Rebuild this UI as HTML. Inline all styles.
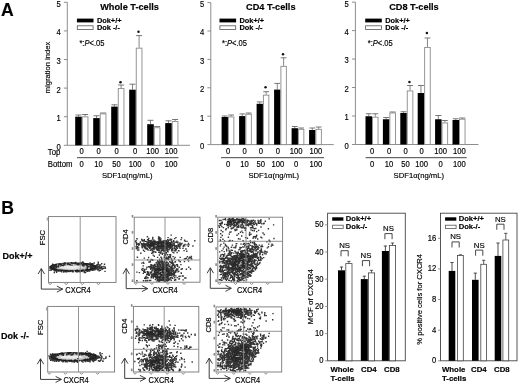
<!DOCTYPE html>
<html><head><meta charset="utf-8"><style>
html,body{margin:0;padding:0;background:#fff;width:520px;height:384px;overflow:hidden;}
svg{display:block;will-change:transform;filter:blur(0.3px);}
text{font-family:"Liberation Sans", sans-serif;fill:#000;stroke:#000;stroke-width:0.16px;}
</style></head><body>
<svg width="520" height="384" viewBox="0 0 520 384">
<rect width="520" height="384" fill="#fff"/>
<text x="1.0" y="16.0" font-size="17.6" text-anchor="start" font-weight="bold" >A</text>
<line x1="67.3" y1="2.3" x2="67.3" y2="145.3" stroke="#808080" stroke-width="0.9"/>
<line x1="67.3" y1="145.3" x2="190.0" y2="145.3" stroke="#808080" stroke-width="0.9"/>
<line x1="63.9" y1="145.3" x2="67.3" y2="145.3" stroke="#808080" stroke-width="0.9"/>
<text transform="translate(58.50,149.70) scale(0.92,1)" font-size="8.3" text-anchor="middle" >0</text>
<line x1="63.9" y1="116.70000000000002" x2="67.3" y2="116.70000000000002" stroke="#808080" stroke-width="0.9"/>
<text transform="translate(58.50,121.10) scale(0.92,1)" font-size="8.3" text-anchor="middle" >1</text>
<line x1="63.9" y1="88.10000000000001" x2="67.3" y2="88.10000000000001" stroke="#808080" stroke-width="0.9"/>
<text transform="translate(58.50,92.50) scale(0.92,1)" font-size="8.3" text-anchor="middle" >2</text>
<line x1="63.9" y1="59.5" x2="67.3" y2="59.5" stroke="#808080" stroke-width="0.9"/>
<text transform="translate(58.50,63.90) scale(0.92,1)" font-size="8.3" text-anchor="middle" >3</text>
<line x1="63.9" y1="30.900000000000006" x2="67.3" y2="30.900000000000006" stroke="#808080" stroke-width="0.9"/>
<text transform="translate(58.50,35.30) scale(0.92,1)" font-size="8.3" text-anchor="middle" >4</text>
<line x1="63.9" y1="2.3000000000000114" x2="67.3" y2="2.3000000000000114" stroke="#808080" stroke-width="0.9"/>
<text transform="translate(58.50,6.70) scale(0.92,1)" font-size="8.3" text-anchor="middle" >5</text>
<text transform="translate(49.599999999999994,67.5) rotate(-90)" font-size="7.6" text-anchor="middle">migration index</text>
<text x="100.2" y="10.3" font-size="9.2" text-anchor="start" font-weight="bold" >Whole T-cells</text>
<rect x="76.89999999999999" y="18.6" width="16.6" height="3.8" fill="#000" stroke="none" stroke-width="0.8"/>
<rect x="77.3" y="25.8" width="15.8" height="3.6" fill="#fff" stroke="#555" stroke-width="0.8"/>
<text x="96.89999999999999" y="22.9" font-size="7.4" text-anchor="start" font-weight="bold" >Dok+/+</text>
<text x="96.89999999999999" y="30.4" font-size="7.4" text-anchor="start" font-weight="bold" >Dok -/-</text>
<text transform="translate(79.39999999999999,45.9) scale(0.9,1)" font-size="8.4">*:<tspan font-style="italic">P</tspan>&lt;.05</text>
<line x1="78.5" y1="115.0" x2="78.5" y2="116.7" stroke="#777" stroke-width="0.9"/>
<line x1="75.5" y1="115.0" x2="81.5" y2="115.0" stroke="#666" stroke-width="0.9"/>
<rect x="75.2" y="116.7" width="6.6" height="28.60000000000001" fill="#000" stroke="none" stroke-width="0.8"/>
<line x1="85.1" y1="114.5" x2="85.1" y2="116.4" stroke="#777" stroke-width="0.9"/>
<line x1="82.1" y1="114.5" x2="88.10000000000001" y2="114.5" stroke="#666" stroke-width="0.9"/>
<rect x="82.25" y="116.85000000000001" width="5.699999999999999" height="28.450000000000006" fill="#fff" stroke="#8a8a8a" stroke-width="0.9"/>
<line x1="96.5" y1="115.8" x2="96.5" y2="118.1" stroke="#777" stroke-width="0.9"/>
<line x1="93.5" y1="115.8" x2="99.5" y2="115.8" stroke="#666" stroke-width="0.9"/>
<rect x="93.2" y="118.1" width="6.6" height="27.200000000000017" fill="#000" stroke="none" stroke-width="0.8"/>
<line x1="103.1" y1="113.0" x2="103.1" y2="113.4" stroke="#777" stroke-width="0.9"/>
<line x1="100.1" y1="113.0" x2="106.10000000000001" y2="113.0" stroke="#666" stroke-width="0.9"/>
<rect x="100.25" y="113.85000000000001" width="5.699999999999999" height="31.450000000000006" fill="#fff" stroke="#8a8a8a" stroke-width="0.9"/>
<line x1="114.5" y1="104.8" x2="114.5" y2="106.6" stroke="#777" stroke-width="0.9"/>
<line x1="111.5" y1="104.8" x2="117.5" y2="104.8" stroke="#666" stroke-width="0.9"/>
<rect x="111.2" y="106.6" width="6.6" height="38.70000000000002" fill="#000" stroke="none" stroke-width="0.8"/>
<line x1="121.1" y1="85.0" x2="121.1" y2="88.1" stroke="#777" stroke-width="0.9"/>
<line x1="118.1" y1="85.0" x2="124.10000000000001" y2="85.0" stroke="#666" stroke-width="0.9"/>
<rect x="118.25" y="88.55" width="5.699999999999999" height="56.750000000000014" fill="#fff" stroke="#8a8a8a" stroke-width="0.9"/>
<line x1="132.5" y1="84.2" x2="132.5" y2="89.7" stroke="#777" stroke-width="0.9"/>
<line x1="129.5" y1="84.2" x2="135.49999999999997" y2="84.2" stroke="#666" stroke-width="0.9"/>
<rect x="129.2" y="89.7" width="6.6" height="55.60000000000001" fill="#000" stroke="none" stroke-width="0.8"/>
<line x1="139.1" y1="35.6" x2="139.1" y2="47.7" stroke="#777" stroke-width="0.9"/>
<line x1="136.1" y1="35.6" x2="142.09999999999997" y2="35.6" stroke="#666" stroke-width="0.9"/>
<rect x="136.24999999999997" y="48.150000000000006" width="5.699999999999999" height="97.15" fill="#fff" stroke="#8a8a8a" stroke-width="0.9"/>
<line x1="150.5" y1="120.3" x2="150.5" y2="124.2" stroke="#777" stroke-width="0.9"/>
<line x1="147.5" y1="120.3" x2="153.49999999999997" y2="120.3" stroke="#666" stroke-width="0.9"/>
<rect x="147.2" y="124.2" width="6.6" height="21.10000000000001" fill="#000" stroke="none" stroke-width="0.8"/>
<line x1="157.1" y1="126.6" x2="157.1" y2="127.3" stroke="#777" stroke-width="0.9"/>
<line x1="154.1" y1="126.6" x2="160.09999999999997" y2="126.6" stroke="#666" stroke-width="0.9"/>
<rect x="154.24999999999997" y="127.75" width="5.699999999999999" height="17.550000000000015" fill="#fff" stroke="#8a8a8a" stroke-width="0.9"/>
<line x1="168.5" y1="120.8" x2="168.5" y2="123.1" stroke="#777" stroke-width="0.9"/>
<line x1="165.5" y1="120.8" x2="171.49999999999997" y2="120.8" stroke="#666" stroke-width="0.9"/>
<rect x="165.2" y="123.1" width="6.6" height="22.200000000000017" fill="#000" stroke="none" stroke-width="0.8"/>
<line x1="175.1" y1="119.5" x2="175.1" y2="121.1" stroke="#777" stroke-width="0.9"/>
<line x1="172.1" y1="119.5" x2="178.09999999999997" y2="119.5" stroke="#666" stroke-width="0.9"/>
<rect x="172.24999999999997" y="121.55" width="5.699999999999999" height="23.750000000000018" fill="#fff" stroke="#8a8a8a" stroke-width="0.9"/>
<circle cx="120.50" cy="82.20" r="1.25" fill="#111"/>
<circle cx="138.50" cy="31.70" r="1.25" fill="#111"/>
<text transform="translate(81.50,154.40) scale(0.92,1)" font-size="8.3" text-anchor="middle" >0</text>
<text transform="translate(81.50,166.50) scale(0.92,1)" font-size="8.3" text-anchor="middle" >0</text>
<text transform="translate(98.50,154.40) scale(0.92,1)" font-size="8.3" text-anchor="middle" >0</text>
<text transform="translate(98.50,166.50) scale(0.92,1)" font-size="8.3" text-anchor="middle" >10</text>
<text transform="translate(116.60,154.40) scale(0.92,1)" font-size="8.3" text-anchor="middle" >0</text>
<text transform="translate(116.60,166.50) scale(0.92,1)" font-size="8.3" text-anchor="middle" >50</text>
<text transform="translate(135.00,154.40) scale(0.92,1)" font-size="8.3" text-anchor="middle" >0</text>
<text transform="translate(135.00,166.50) scale(0.92,1)" font-size="8.3" text-anchor="middle" >100</text>
<text transform="translate(152.50,154.40) scale(0.92,1)" font-size="8.3" text-anchor="middle" >100</text>
<text transform="translate(152.50,166.50) scale(0.92,1)" font-size="8.3" text-anchor="middle" >0</text>
<text transform="translate(171.00,154.40) scale(0.92,1)" font-size="8.3" text-anchor="middle" >100</text>
<text transform="translate(171.00,166.50) scale(0.92,1)" font-size="8.3" text-anchor="middle" >100</text>
<line x1="77" y1="157.7" x2="178.5" y2="157.7" stroke="#444" stroke-width="1.0"/>
<text transform="translate(127.20,177.50) scale(0.95,1)" font-size="8.1" text-anchor="middle" >SDF1&#945;(ng/mL)</text>
<text transform="translate(47.80,154.60) scale(0.95,1)" font-size="8.2" text-anchor="start" >Top</text>
<text transform="translate(47.80,167.10) scale(0.95,1)" font-size="8.2" text-anchor="start" >Bottom</text>
<line x1="210.8" y1="2.6" x2="210.8" y2="144.6" stroke="#808080" stroke-width="0.9"/>
<line x1="210.8" y1="144.6" x2="333.8" y2="144.6" stroke="#808080" stroke-width="0.9"/>
<line x1="207.4" y1="144.6" x2="210.8" y2="144.6" stroke="#808080" stroke-width="0.9"/>
<text transform="translate(202.00,149.00) scale(0.92,1)" font-size="8.3" text-anchor="middle" >0</text>
<line x1="207.4" y1="116.19999999999999" x2="210.8" y2="116.19999999999999" stroke="#808080" stroke-width="0.9"/>
<text transform="translate(202.00,120.60) scale(0.92,1)" font-size="8.3" text-anchor="middle" >1</text>
<line x1="207.4" y1="87.8" x2="210.8" y2="87.8" stroke="#808080" stroke-width="0.9"/>
<text transform="translate(202.00,92.20) scale(0.92,1)" font-size="8.3" text-anchor="middle" >2</text>
<line x1="207.4" y1="59.400000000000006" x2="210.8" y2="59.400000000000006" stroke="#808080" stroke-width="0.9"/>
<text transform="translate(202.00,63.80) scale(0.92,1)" font-size="8.3" text-anchor="middle" >3</text>
<line x1="207.4" y1="31.0" x2="210.8" y2="31.0" stroke="#808080" stroke-width="0.9"/>
<text transform="translate(202.00,35.40) scale(0.92,1)" font-size="8.3" text-anchor="middle" >4</text>
<line x1="207.4" y1="2.5999999999999943" x2="210.8" y2="2.5999999999999943" stroke="#808080" stroke-width="0.9"/>
<text transform="translate(202.00,7.00) scale(0.92,1)" font-size="8.3" text-anchor="middle" >5</text>
<text x="246.0" y="10.3" font-size="9.2" text-anchor="start" font-weight="bold" >CD4 T-cells</text>
<rect x="219.5" y="18.6" width="16.6" height="3.8" fill="#000" stroke="none" stroke-width="0.8"/>
<rect x="219.9" y="25.8" width="15.8" height="3.6" fill="#fff" stroke="#555" stroke-width="0.8"/>
<text x="239.5" y="22.9" font-size="7.4" text-anchor="start" font-weight="bold" >Dok+/+</text>
<text x="239.5" y="30.4" font-size="7.4" text-anchor="start" font-weight="bold" >Dok -/-</text>
<text transform="translate(222.0,45.9) scale(0.9,1)" font-size="8.4">*:<tspan font-style="italic">P</tspan>&lt;.05</text>
<line x1="224.775" y1="116.0" x2="224.775" y2="117.0" stroke="#777" stroke-width="0.9"/>
<line x1="221.9" y1="116.0" x2="227.64999999999998" y2="116.0" stroke="#666" stroke-width="0.9"/>
<rect x="221.6" y="117.0" width="6.35" height="27.599999999999994" fill="#000" stroke="none" stroke-width="0.8"/>
<line x1="231.125" y1="115.0" x2="231.125" y2="116.5" stroke="#777" stroke-width="0.9"/>
<line x1="228.25" y1="115.0" x2="233.99999999999997" y2="115.0" stroke="#666" stroke-width="0.9"/>
<rect x="228.39999999999998" y="116.95" width="5.449999999999999" height="27.649999999999995" fill="#fff" stroke="#8a8a8a" stroke-width="0.9"/>
<line x1="242.275" y1="113.9" x2="242.275" y2="116.1" stroke="#777" stroke-width="0.9"/>
<line x1="239.4" y1="113.9" x2="245.14999999999998" y2="113.9" stroke="#666" stroke-width="0.9"/>
<rect x="239.1" y="116.1" width="6.35" height="28.5" fill="#000" stroke="none" stroke-width="0.8"/>
<line x1="248.625" y1="113.0" x2="248.625" y2="113.8" stroke="#777" stroke-width="0.9"/>
<line x1="245.75" y1="113.0" x2="251.49999999999997" y2="113.0" stroke="#666" stroke-width="0.9"/>
<rect x="245.89999999999998" y="114.25" width="5.449999999999999" height="30.349999999999998" fill="#fff" stroke="#8a8a8a" stroke-width="0.9"/>
<line x1="259.77500000000003" y1="101.9" x2="259.77500000000003" y2="103.8" stroke="#777" stroke-width="0.9"/>
<line x1="256.90000000000003" y1="101.9" x2="262.65000000000003" y2="101.9" stroke="#666" stroke-width="0.9"/>
<rect x="256.6" y="103.8" width="6.35" height="40.8" fill="#000" stroke="none" stroke-width="0.8"/>
<line x1="266.125" y1="91.7" x2="266.125" y2="94.7" stroke="#777" stroke-width="0.9"/>
<line x1="263.25000000000006" y1="91.7" x2="269.0" y2="91.7" stroke="#666" stroke-width="0.9"/>
<rect x="263.40000000000003" y="95.15" width="5.449999999999999" height="49.44999999999999" fill="#fff" stroke="#8a8a8a" stroke-width="0.9"/>
<line x1="277.27500000000003" y1="83.4" x2="277.27500000000003" y2="89.6" stroke="#777" stroke-width="0.9"/>
<line x1="274.40000000000003" y1="83.4" x2="280.15000000000003" y2="83.4" stroke="#666" stroke-width="0.9"/>
<rect x="274.1" y="89.6" width="6.35" height="55.0" fill="#000" stroke="none" stroke-width="0.8"/>
<line x1="283.625" y1="57.8" x2="283.625" y2="65.9" stroke="#777" stroke-width="0.9"/>
<line x1="280.75000000000006" y1="57.8" x2="286.5" y2="57.8" stroke="#666" stroke-width="0.9"/>
<rect x="280.90000000000003" y="66.35000000000001" width="5.449999999999999" height="78.24999999999999" fill="#fff" stroke="#8a8a8a" stroke-width="0.9"/>
<line x1="294.77500000000003" y1="126.5" x2="294.77500000000003" y2="128.2" stroke="#777" stroke-width="0.9"/>
<line x1="291.90000000000003" y1="126.5" x2="297.65000000000003" y2="126.5" stroke="#666" stroke-width="0.9"/>
<rect x="291.6" y="128.2" width="6.35" height="16.400000000000006" fill="#000" stroke="none" stroke-width="0.8"/>
<line x1="301.125" y1="128.0" x2="301.125" y2="128.9" stroke="#777" stroke-width="0.9"/>
<line x1="298.25000000000006" y1="128.0" x2="304.0" y2="128.0" stroke="#666" stroke-width="0.9"/>
<rect x="298.40000000000003" y="129.35" width="5.449999999999999" height="15.24999999999999" fill="#fff" stroke="#8a8a8a" stroke-width="0.9"/>
<line x1="312.27500000000003" y1="128.0" x2="312.27500000000003" y2="130.0" stroke="#777" stroke-width="0.9"/>
<line x1="309.40000000000003" y1="128.0" x2="315.15000000000003" y2="128.0" stroke="#666" stroke-width="0.9"/>
<rect x="309.1" y="130.0" width="6.35" height="14.599999999999994" fill="#000" stroke="none" stroke-width="0.8"/>
<line x1="318.625" y1="127.0" x2="318.625" y2="128.9" stroke="#777" stroke-width="0.9"/>
<line x1="315.75000000000006" y1="127.0" x2="321.5" y2="127.0" stroke="#666" stroke-width="0.9"/>
<rect x="315.90000000000003" y="129.35" width="5.449999999999999" height="15.24999999999999" fill="#fff" stroke="#8a8a8a" stroke-width="0.9"/>
<circle cx="265.52" cy="87.30" r="1.25" fill="#111"/>
<circle cx="283.02" cy="54.30" r="1.25" fill="#111"/>
<text transform="translate(228.00,154.40) scale(0.92,1)" font-size="8.3" text-anchor="middle" >0</text>
<text transform="translate(228.00,166.50) scale(0.92,1)" font-size="8.3" text-anchor="middle" >0</text>
<text transform="translate(244.50,154.40) scale(0.92,1)" font-size="8.3" text-anchor="middle" >0</text>
<text transform="translate(244.50,166.50) scale(0.92,1)" font-size="8.3" text-anchor="middle" >10</text>
<text transform="translate(260.80,154.40) scale(0.92,1)" font-size="8.3" text-anchor="middle" >0</text>
<text transform="translate(260.80,166.50) scale(0.92,1)" font-size="8.3" text-anchor="middle" >50</text>
<text transform="translate(277.80,154.40) scale(0.92,1)" font-size="8.3" text-anchor="middle" >0</text>
<text transform="translate(277.80,166.50) scale(0.92,1)" font-size="8.3" text-anchor="middle" >100</text>
<text transform="translate(296.00,154.40) scale(0.92,1)" font-size="8.3" text-anchor="middle" >100</text>
<text transform="translate(296.00,166.50) scale(0.92,1)" font-size="8.3" text-anchor="middle" >0</text>
<text transform="translate(315.80,154.40) scale(0.92,1)" font-size="8.3" text-anchor="middle" >100</text>
<text transform="translate(315.80,166.50) scale(0.92,1)" font-size="8.3" text-anchor="middle" >100</text>
<line x1="221" y1="157.7" x2="324" y2="157.7" stroke="#444" stroke-width="1.0"/>
<text transform="translate(273.70,177.50) scale(0.95,1)" font-size="8.1" text-anchor="middle" >SDF1&#945;(ng/mL)</text>
<line x1="355.4" y1="2.1" x2="355.4" y2="144.5" stroke="#808080" stroke-width="0.9"/>
<line x1="355.4" y1="144.5" x2="478.5" y2="144.5" stroke="#808080" stroke-width="0.9"/>
<line x1="352.0" y1="144.5" x2="355.4" y2="144.5" stroke="#808080" stroke-width="0.9"/>
<text transform="translate(346.60,148.90) scale(0.92,1)" font-size="8.3" text-anchor="middle" >0</text>
<line x1="352.0" y1="116.02" x2="355.4" y2="116.02" stroke="#808080" stroke-width="0.9"/>
<text transform="translate(346.60,120.42) scale(0.92,1)" font-size="8.3" text-anchor="middle" >1</text>
<line x1="352.0" y1="87.53999999999999" x2="355.4" y2="87.53999999999999" stroke="#808080" stroke-width="0.9"/>
<text transform="translate(346.60,91.94) scale(0.92,1)" font-size="8.3" text-anchor="middle" >2</text>
<line x1="352.0" y1="59.06" x2="355.4" y2="59.06" stroke="#808080" stroke-width="0.9"/>
<text transform="translate(346.60,63.46) scale(0.92,1)" font-size="8.3" text-anchor="middle" >3</text>
<line x1="352.0" y1="30.58" x2="355.4" y2="30.58" stroke="#808080" stroke-width="0.9"/>
<text transform="translate(346.60,34.98) scale(0.92,1)" font-size="8.3" text-anchor="middle" >4</text>
<line x1="352.0" y1="2.0999999999999943" x2="355.4" y2="2.0999999999999943" stroke="#808080" stroke-width="0.9"/>
<text transform="translate(346.60,6.50) scale(0.92,1)" font-size="8.3" text-anchor="middle" >5</text>
<text x="389.2" y="10.3" font-size="9.2" text-anchor="start" font-weight="bold" >CD8 T-cells</text>
<rect x="365.2" y="18.6" width="16.6" height="3.8" fill="#000" stroke="none" stroke-width="0.8"/>
<rect x="365.59999999999997" y="25.8" width="15.8" height="3.6" fill="#fff" stroke="#555" stroke-width="0.8"/>
<text x="385.2" y="22.9" font-size="7.4" text-anchor="start" font-weight="bold" >Dok+/+</text>
<text x="385.2" y="30.4" font-size="7.4" text-anchor="start" font-weight="bold" >Dok -/-</text>
<text transform="translate(367.7,45.9) scale(0.9,1)" font-size="8.4">*:<tspan font-style="italic">P</tspan>&lt;.05</text>
<line x1="368.75" y1="113.75" x2="368.75" y2="116.25" stroke="#777" stroke-width="0.9"/>
<line x1="365.8" y1="113.75" x2="371.7" y2="113.75" stroke="#666" stroke-width="0.9"/>
<rect x="365.5" y="116.25" width="6.5" height="28.25" fill="#000" stroke="none" stroke-width="0.8"/>
<line x1="375.25" y1="113.75" x2="375.25" y2="116.75" stroke="#777" stroke-width="0.9"/>
<line x1="372.3" y1="113.75" x2="378.2" y2="113.75" stroke="#666" stroke-width="0.9"/>
<rect x="372.45" y="117.2" width="5.6" height="27.3" fill="#fff" stroke="#8a8a8a" stroke-width="0.9"/>
<line x1="386.15" y1="117.5" x2="386.15" y2="119.25" stroke="#777" stroke-width="0.9"/>
<line x1="383.2" y1="117.5" x2="389.09999999999997" y2="117.5" stroke="#666" stroke-width="0.9"/>
<rect x="382.9" y="119.25" width="6.5" height="25.25" fill="#000" stroke="none" stroke-width="0.8"/>
<line x1="392.65" y1="112.0" x2="392.65" y2="112.5" stroke="#777" stroke-width="0.9"/>
<line x1="389.7" y1="112.0" x2="395.59999999999997" y2="112.0" stroke="#666" stroke-width="0.9"/>
<rect x="389.84999999999997" y="112.95" width="5.6" height="31.55" fill="#fff" stroke="#8a8a8a" stroke-width="0.9"/>
<line x1="403.55" y1="111.75" x2="403.55" y2="113.0" stroke="#777" stroke-width="0.9"/>
<line x1="400.6" y1="111.75" x2="406.5" y2="111.75" stroke="#666" stroke-width="0.9"/>
<rect x="400.3" y="113.0" width="6.5" height="31.5" fill="#000" stroke="none" stroke-width="0.8"/>
<line x1="410.05" y1="85.5" x2="410.05" y2="90.5" stroke="#777" stroke-width="0.9"/>
<line x1="407.1" y1="85.5" x2="413.0" y2="85.5" stroke="#666" stroke-width="0.9"/>
<rect x="407.25" y="90.95" width="5.6" height="53.55" fill="#fff" stroke="#8a8a8a" stroke-width="0.9"/>
<line x1="420.95" y1="85.5" x2="420.95" y2="93.0" stroke="#777" stroke-width="0.9"/>
<line x1="418.0" y1="85.5" x2="423.9" y2="85.5" stroke="#666" stroke-width="0.9"/>
<rect x="417.7" y="93.0" width="6.5" height="51.5" fill="#000" stroke="none" stroke-width="0.8"/>
<line x1="427.45" y1="38.0" x2="427.45" y2="47.0" stroke="#777" stroke-width="0.9"/>
<line x1="424.5" y1="38.0" x2="430.4" y2="38.0" stroke="#666" stroke-width="0.9"/>
<rect x="424.65" y="47.45" width="5.6" height="97.05" fill="#fff" stroke="#8a8a8a" stroke-width="0.9"/>
<line x1="438.35" y1="115.5" x2="438.35" y2="119.25" stroke="#777" stroke-width="0.9"/>
<line x1="435.40000000000003" y1="115.5" x2="441.3" y2="115.5" stroke="#666" stroke-width="0.9"/>
<rect x="435.1" y="119.25" width="6.5" height="25.25" fill="#000" stroke="none" stroke-width="0.8"/>
<line x1="444.85" y1="120.5" x2="444.85" y2="122.5" stroke="#777" stroke-width="0.9"/>
<line x1="441.90000000000003" y1="120.5" x2="447.8" y2="120.5" stroke="#666" stroke-width="0.9"/>
<rect x="442.05" y="122.95" width="5.6" height="21.55" fill="#fff" stroke="#8a8a8a" stroke-width="0.9"/>
<line x1="455.75" y1="118.75" x2="455.75" y2="120.0" stroke="#777" stroke-width="0.9"/>
<line x1="452.8" y1="118.75" x2="458.7" y2="118.75" stroke="#666" stroke-width="0.9"/>
<rect x="452.5" y="120.0" width="6.5" height="24.5" fill="#000" stroke="none" stroke-width="0.8"/>
<line x1="462.25" y1="118.0" x2="462.25" y2="118.75" stroke="#777" stroke-width="0.9"/>
<line x1="459.3" y1="118.0" x2="465.2" y2="118.0" stroke="#666" stroke-width="0.9"/>
<rect x="459.45" y="119.2" width="5.6" height="25.3" fill="#fff" stroke="#8a8a8a" stroke-width="0.9"/>
<circle cx="409.45" cy="82.00" r="1.25" fill="#111"/>
<circle cx="426.85" cy="33.00" r="1.25" fill="#111"/>
<text transform="translate(372.00,154.40) scale(0.92,1)" font-size="8.3" text-anchor="middle" >0</text>
<text transform="translate(372.00,166.50) scale(0.92,1)" font-size="8.3" text-anchor="middle" >0</text>
<text transform="translate(389.00,154.40) scale(0.92,1)" font-size="8.3" text-anchor="middle" >0</text>
<text transform="translate(389.00,166.50) scale(0.92,1)" font-size="8.3" text-anchor="middle" >10</text>
<text transform="translate(405.50,154.40) scale(0.92,1)" font-size="8.3" text-anchor="middle" >0</text>
<text transform="translate(405.50,166.50) scale(0.92,1)" font-size="8.3" text-anchor="middle" >50</text>
<text transform="translate(421.70,154.40) scale(0.92,1)" font-size="8.3" text-anchor="middle" >0</text>
<text transform="translate(421.70,166.50) scale(0.92,1)" font-size="8.3" text-anchor="middle" >100</text>
<text transform="translate(440.50,154.40) scale(0.92,1)" font-size="8.3" text-anchor="middle" >100</text>
<text transform="translate(440.50,166.50) scale(0.92,1)" font-size="8.3" text-anchor="middle" >0</text>
<text transform="translate(459.40,154.40) scale(0.92,1)" font-size="8.3" text-anchor="middle" >100</text>
<text transform="translate(459.40,166.50) scale(0.92,1)" font-size="8.3" text-anchor="middle" >100</text>
<line x1="365.6" y1="157.7" x2="466.7" y2="157.7" stroke="#444" stroke-width="1.0"/>
<text transform="translate(418.80,177.50) scale(0.95,1)" font-size="8.1" text-anchor="middle" >SDF1&#945;(ng/mL)</text>
<text x="1.2" y="213.9" font-size="17.6" text-anchor="start" font-weight="bold" >B</text>
<text x="2.6" y="259.3" font-size="9.0" text-anchor="start" font-weight="bold" >Dok+/+</text>
<text x="1.0" y="338.9" font-size="9.0" text-anchor="start" font-weight="bold" >Dok -/-</text>
<ellipse cx="73.0" cy="266.8" rx="22.5" ry="4.0" fill="#c4c4c4" stroke="#3a3a3a" stroke-width="1.1" stroke-opacity="0.85"/>
<ellipse cx="71.0" cy="267.3" rx="12" ry="1.6" fill="#ececec"/>
<path d="M48.6 283.0 q1.5 3.2 3 0" fill="none" stroke="#777" stroke-width="0.8"/>
<path d="M64.7 283.0 q1.5 3.2 3 0" fill="none" stroke="#777" stroke-width="0.8"/>
<path d="M80.8 283.0 q1.5 3.2 3 0" fill="none" stroke="#777" stroke-width="0.8"/>
<path d="M96.9 283.0 q1.5 3.2 3 0" fill="none" stroke="#777" stroke-width="0.8"/>
<rect x="46.7" y="217.6" width="1.4" height="3" fill="#aaa"/>
<ellipse cx="160.0" cy="244.5" rx="12" ry="2.6" fill="#a0a0a0"/>
<ellipse cx="161.5" cy="273.0" rx="8" ry="5.5" fill="#a8a8a8"/>
<path d="M134.3 282.8 q1.5 3.2 3 0" fill="none" stroke="#777" stroke-width="0.8"/>
<path d="M150.4 282.8 q1.5 3.2 3 0" fill="none" stroke="#777" stroke-width="0.8"/>
<path d="M166.5 282.8 q1.5 3.2 3 0" fill="none" stroke="#777" stroke-width="0.8"/>
<path d="M182.6 282.8 q1.5 3.2 3 0" fill="none" stroke="#777" stroke-width="0.8"/>
<rect x="131.7" y="215.0" width="1.6" height="2.6" fill="#888"/>
<rect x="131.7" y="231.1" width="1.6" height="2.6" fill="#888"/>
<rect x="131.7" y="247.2" width="1.6" height="2.6" fill="#888"/>
<rect x="131.7" y="263.3" width="1.6" height="2.6" fill="#888"/>
<rect x="131.7" y="279.4" width="1.6" height="2.6" fill="#888"/>
<ellipse cx="236.0" cy="221.5" rx="9" ry="2.2" fill="#b0b0b0"/>
<ellipse transform="rotate(-38 241.0 262.0)" cx="241.0" cy="262.0" rx="11" ry="6.5" fill="#b4b4b4"/>
<path d="M217.9 282.8 q1.5 3.2 3 0" fill="none" stroke="#777" stroke-width="0.8"/>
<path d="M234.0 282.8 q1.5 3.2 3 0" fill="none" stroke="#777" stroke-width="0.8"/>
<path d="M250.1 282.8 q1.5 3.2 3 0" fill="none" stroke="#777" stroke-width="0.8"/>
<path d="M266.2 282.8 q1.5 3.2 3 0" fill="none" stroke="#777" stroke-width="0.8"/>
<rect x="215.3" y="215.0" width="1.6" height="2.6" fill="#888"/>
<rect x="215.3" y="231.1" width="1.6" height="2.6" fill="#888"/>
<rect x="215.3" y="247.2" width="1.6" height="2.6" fill="#888"/>
<rect x="215.3" y="263.3" width="1.6" height="2.6" fill="#888"/>
<rect x="215.3" y="279.4" width="1.6" height="2.6" fill="#888"/>
<ellipse cx="73.5" cy="356.6" rx="22.5" ry="4.0" fill="#c4c4c4" stroke="#3a3a3a" stroke-width="1.1" stroke-opacity="0.85"/>
<ellipse cx="71.5" cy="357.1" rx="12" ry="1.6" fill="#ececec"/>
<path d="M47.8 372.6 q1.5 3.2 3 0" fill="none" stroke="#777" stroke-width="0.8"/>
<path d="M63.9 372.6 q1.5 3.2 3 0" fill="none" stroke="#777" stroke-width="0.8"/>
<path d="M80.0 372.6 q1.5 3.2 3 0" fill="none" stroke="#777" stroke-width="0.8"/>
<path d="M96.1 372.6 q1.5 3.2 3 0" fill="none" stroke="#777" stroke-width="0.8"/>
<rect x="45.900000000000006" y="307.4" width="1.4" height="3" fill="#aaa"/>
<ellipse cx="157.0" cy="333.0" rx="12" ry="2.6" fill="#a0a0a0"/>
<ellipse cx="158.0" cy="363.5" rx="8" ry="5.5" fill="#a8a8a8"/>
<path d="M133.5 372.6 q1.5 3.2 3 0" fill="none" stroke="#777" stroke-width="0.8"/>
<path d="M149.6 372.6 q1.5 3.2 3 0" fill="none" stroke="#777" stroke-width="0.8"/>
<path d="M165.7 372.6 q1.5 3.2 3 0" fill="none" stroke="#777" stroke-width="0.8"/>
<path d="M181.8 372.6 q1.5 3.2 3 0" fill="none" stroke="#777" stroke-width="0.8"/>
<rect x="130.9" y="304.2" width="1.6" height="2.6" fill="#888"/>
<rect x="130.9" y="320.3" width="1.6" height="2.6" fill="#888"/>
<rect x="130.9" y="336.4" width="1.6" height="2.6" fill="#888"/>
<rect x="130.9" y="352.5" width="1.6" height="2.6" fill="#888"/>
<rect x="130.9" y="368.6" width="1.6" height="2.6" fill="#888"/>
<ellipse cx="234.5" cy="312.0" rx="9" ry="2.2" fill="#b0b0b0"/>
<ellipse transform="rotate(-38 240.0 353.0)" cx="240.0" cy="353.0" rx="11" ry="6.5" fill="#b4b4b4"/>
<path d="M216.1 372.6 q1.5 3.2 3 0" fill="none" stroke="#777" stroke-width="0.8"/>
<path d="M232.2 372.6 q1.5 3.2 3 0" fill="none" stroke="#777" stroke-width="0.8"/>
<path d="M248.3 372.6 q1.5 3.2 3 0" fill="none" stroke="#777" stroke-width="0.8"/>
<path d="M264.4 372.6 q1.5 3.2 3 0" fill="none" stroke="#777" stroke-width="0.8"/>
<rect x="213.5" y="304.7" width="1.6" height="2.6" fill="#888"/>
<rect x="213.5" y="320.8" width="1.6" height="2.6" fill="#888"/>
<rect x="213.5" y="336.9" width="1.6" height="2.6" fill="#888"/>
<rect x="213.5" y="353.0" width="1.6" height="2.6" fill="#888"/>
<rect x="213.5" y="369.1" width="1.6" height="2.6" fill="#888"/>
<path d="M79.4 263.0h1.4v1.4h-1.4zM69.0 270.7h1.4v1.4h-1.4zM53.4 269.4h1.4v1.4h-1.4zM95.7 266.0h1.4v1.4h-1.4zM53.8 268.5h1.4v1.4h-1.4zM85.5 262.9h1.4v1.4h-1.4zM62.6 262.9h1.4v1.4h-1.4zM69.9 270.3h1.4v1.4h-1.4zM64.1 262.3h1.4v1.4h-1.4zM89.9 264.3h1.4v1.4h-1.4zM67.1 263.0h1.4v1.4h-1.4zM51.3 268.1h1.4v1.4h-1.4zM79.6 263.3h1.4v1.4h-1.4zM66.9 263.5h1.4v1.4h-1.4zM75.3 270.0h1.4v1.4h-1.4zM50.6 265.4h1.4v1.4h-1.4zM95.2 267.7h1.4v1.4h-1.4zM86.3 262.9h1.4v1.4h-1.4zM54.1 270.0h1.4v1.4h-1.4zM76.6 271.1h1.4v1.4h-1.4zM64.7 262.9h1.4v1.4h-1.4zM60.0 263.5h1.4v1.4h-1.4zM58.1 264.2h1.4v1.4h-1.4zM80.6 270.6h1.4v1.4h-1.4zM55.8 270.0h1.4v1.4h-1.4zM92.9 264.6h1.4v1.4h-1.4zM80.8 262.6h1.4v1.4h-1.4zM86.3 263.0h1.4v1.4h-1.4zM51.2 266.6h1.4v1.4h-1.4zM54.6 268.8h1.4v1.4h-1.4zM59.0 263.6h1.4v1.4h-1.4zM60.8 270.1h1.4v1.4h-1.4zM83.2 263.0h1.4v1.4h-1.4zM92.5 268.2h1.4v1.4h-1.4zM87.0 269.9h1.4v1.4h-1.4zM51.0 266.1h1.4v1.4h-1.4zM88.1 263.3h1.4v1.4h-1.4zM94.1 267.8h1.4v1.4h-1.4zM59.9 270.1h1.4v1.4h-1.4zM50.4 267.5h1.4v1.4h-1.4zM86.1 263.9h1.4v1.4h-1.4zM53.9 268.5h1.4v1.4h-1.4zM50.9 266.4h1.4v1.4h-1.4zM96.1 267.1h1.4v1.4h-1.4zM78.5 270.9h1.4v1.4h-1.4zM78.2 270.7h1.4v1.4h-1.4zM59.0 269.8h1.4v1.4h-1.4zM64.0 264.2h1.4v1.4h-1.4zM55.7 270.7h1.4v1.4h-1.4zM82.1 264.1h1.4v1.4h-1.4zM65.4 269.9h1.4v1.4h-1.4zM94.4 267.6h1.4v1.4h-1.4zM84.4 264.1h1.4v1.4h-1.4zM49.7 266.3h1.4v1.4h-1.4zM50.1 265.8h1.4v1.4h-1.4zM57.9 264.8h1.4v1.4h-1.4zM63.3 264.2h1.4v1.4h-1.4zM72.0 262.7h1.4v1.4h-1.4zM51.8 268.0h1.4v1.4h-1.4zM97.0 268.5h1.4v1.4h-1.4zM83.8 271.8h1.4v1.4h-1.4zM80.4 270.5h1.4v1.4h-1.4zM52.5 265.9h1.4v1.4h-1.4zM51.0 267.2h1.4v1.4h-1.4zM70.6 262.1h1.4v1.4h-1.4zM64.2 270.0h1.4v1.4h-1.4zM57.6 269.7h1.4v1.4h-1.4zM93.0 268.6h1.4v1.4h-1.4zM54.3 264.4h1.4v1.4h-1.4zM75.6 271.2h1.4v1.4h-1.4zM92.1 269.0h1.4v1.4h-1.4zM76.7 263.0h1.4v1.4h-1.4zM53.0 266.5h1.4v1.4h-1.4zM84.1 263.2h1.4v1.4h-1.4zM92.3 265.6h1.4v1.4h-1.4zM51.2 268.0h1.4v1.4h-1.4zM93.7 267.6h1.4v1.4h-1.4zM93.3 268.7h1.4v1.4h-1.4zM95.0 267.0h1.4v1.4h-1.4zM89.2 269.9h1.4v1.4h-1.4zM80.0 262.3h1.4v1.4h-1.4zM93.9 265.2h1.4v1.4h-1.4zM49.2 267.3h1.4v1.4h-1.4zM94.1 265.4h1.4v1.4h-1.4zM82.3 270.9h1.4v1.4h-1.4zM69.1 263.5h1.4v1.4h-1.4zM52.9 268.9h1.4v1.4h-1.4zM78.9 263.7h1.4v1.4h-1.4zM91.9 269.1h1.4v1.4h-1.4zM51.1 265.9h1.4v1.4h-1.4zM53.1 265.1h1.4v1.4h-1.4zM64.0 270.3h1.4v1.4h-1.4zM76.6 263.7h1.4v1.4h-1.4zM89.6 264.2h1.4v1.4h-1.4zM71.7 271.0h1.4v1.4h-1.4zM54.7 269.2h1.4v1.4h-1.4zM94.5 266.2h1.4v1.4h-1.4zM79.8 269.9h1.4v1.4h-1.4zM57.4 270.0h1.4v1.4h-1.4zM84.0 270.7h1.4v1.4h-1.4zM74.9 270.7h1.4v1.4h-1.4zM93.5 268.5h1.4v1.4h-1.4zM82.1 263.8h1.4v1.4h-1.4zM76.1 270.0h1.4v1.4h-1.4zM78.1 270.2h1.4v1.4h-1.4zM51.5 265.4h1.4v1.4h-1.4zM69.6 264.1h1.4v1.4h-1.4zM92.9 269.0h1.4v1.4h-1.4zM51.0 267.1h1.4v1.4h-1.4zM65.5 270.0h1.4v1.4h-1.4zM53.2 264.7h1.4v1.4h-1.4zM92.0 263.7h1.4v1.4h-1.4zM67.6 263.1h1.4v1.4h-1.4zM62.9 271.0h1.4v1.4h-1.4zM90.9 268.7h1.4v1.4h-1.4zM49.3 266.0h1.4v1.4h-1.4zM76.7 270.7h1.4v1.4h-1.4zM71.6 270.1h1.4v1.4h-1.4zM51.8 265.1h1.4v1.4h-1.4zM71.7 270.9h1.4v1.4h-1.4zM95.2 265.5h1.4v1.4h-1.4zM94.0 268.3h1.4v1.4h-1.4zM54.3 267.8h1.4v1.4h-1.4zM91.2 265.3h1.4v1.4h-1.4zM92.3 264.7h1.4v1.4h-1.4zM79.2 270.2h1.4v1.4h-1.4zM95.0 266.0h1.4v1.4h-1.4zM52.6 268.4h1.4v1.4h-1.4zM51.6 266.4h1.4v1.4h-1.4zM60.9 264.1h1.4v1.4h-1.4zM82.0 269.8h1.4v1.4h-1.4zM85.1 269.8h1.4v1.4h-1.4zM94.9 267.1h1.4v1.4h-1.4zM66.7 270.2h1.4v1.4h-1.4zM79.5 271.2h1.4v1.4h-1.4zM76.6 270.4h1.4v1.4h-1.4zM87.0 270.5h1.4v1.4h-1.4zM84.6 263.2h1.4v1.4h-1.4zM56.5 270.1h1.4v1.4h-1.4zM94.5 268.5h1.4v1.4h-1.4zM95.3 265.0h1.4v1.4h-1.4zM90.3 264.5h1.4v1.4h-1.4zM78.4 270.8h1.4v1.4h-1.4zM67.6 270.6h1.4v1.4h-1.4zM59.3 270.3h1.4v1.4h-1.4zM94.9 267.2h1.4v1.4h-1.4zM77.6 263.3h1.4v1.4h-1.4zM52.5 266.8h1.4v1.4h-1.4zM94.4 266.1h1.4v1.4h-1.4zM52.8 268.1h1.4v1.4h-1.4zM79.0 270.6h1.4v1.4h-1.4zM83.9 263.1h1.4v1.4h-1.4zM51.1 267.0h1.4v1.4h-1.4zM50.1 267.9h1.4v1.4h-1.4zM96.2 268.0h1.4v1.4h-1.4zM90.9 265.4h1.4v1.4h-1.4zM77.4 270.8h1.4v1.4h-1.4zM88.8 270.3h1.4v1.4h-1.4zM59.7 270.3h1.4v1.4h-1.4zM94.4 264.9h1.4v1.4h-1.4zM92.4 268.5h1.4v1.4h-1.4zM54.2 269.4h1.4v1.4h-1.4zM53.7 269.5h1.4v1.4h-1.4zM72.5 271.1h1.4v1.4h-1.4zM55.0 269.1h1.4v1.4h-1.4zM83.6 263.9h1.4v1.4h-1.4zM92.3 264.6h1.4v1.4h-1.4zM63.8 263.4h1.4v1.4h-1.4zM50.3 268.0h1.4v1.4h-1.4zM68.5 270.8h1.4v1.4h-1.4zM90.2 268.0h1.4v1.4h-1.4zM60.5 269.7h1.4v1.4h-1.4zM85.4 269.4h1.4v1.4h-1.4zM50.7 267.1h1.4v1.4h-1.4zM49.6 266.6h1.4v1.4h-1.4zM95.7 267.5h1.4v1.4h-1.4zM52.3 268.7h1.4v1.4h-1.4zM57.7 270.4h1.4v1.4h-1.4zM75.0 261.7h1.4v1.4h-1.4zM51.2 267.3h1.4v1.4h-1.4zM79.8 262.1h1.4v1.4h-1.4zM96.3 267.3h1.4v1.4h-1.4zM71.5 270.0h1.4v1.4h-1.4zM62.1 269.7h1.4v1.4h-1.4zM75.0 262.6h1.4v1.4h-1.4zM83.5 263.7h1.4v1.4h-1.4zM81.9 261.3h1.4v1.4h-1.4zM86.5 263.6h1.4v1.4h-1.4zM92.1 264.9h1.4v1.4h-1.4zM60.9 270.1h1.4v1.4h-1.4zM96.8 266.2h1.4v1.4h-1.4zM86.3 269.2h1.4v1.4h-1.4zM55.3 263.9h1.4v1.4h-1.4zM80.9 262.5h1.4v1.4h-1.4zM88.7 270.1h1.4v1.4h-1.4zM68.6 263.5h1.4v1.4h-1.4zM74.1 262.8h1.4v1.4h-1.4zM51.1 265.5h1.4v1.4h-1.4zM50.8 268.9h1.4v1.4h-1.4zM91.1 268.9h1.4v1.4h-1.4zM92.3 268.1h1.4v1.4h-1.4zM49.8 267.2h1.4v1.4h-1.4zM94.1 267.0h1.4v1.4h-1.4zM50.9 267.7h1.4v1.4h-1.4zM85.6 263.6h1.4v1.4h-1.4zM90.1 269.0h1.4v1.4h-1.4zM66.1 271.1h1.4v1.4h-1.4zM65.0 271.1h1.4v1.4h-1.4zM55.3 269.6h1.4v1.4h-1.4zM52.4 266.7h1.4v1.4h-1.4zM63.1 271.4h1.4v1.4h-1.4zM84.9 271.9h1.4v1.4h-1.4zM73.5 262.6h1.4v1.4h-1.4zM59.2 270.3h1.4v1.4h-1.4zM51.8 265.7h1.4v1.4h-1.4zM55.6 263.7h1.4v1.4h-1.4zM75.2 263.2h1.4v1.4h-1.4zM88.4 270.1h1.4v1.4h-1.4zM92.9 268.3h1.4v1.4h-1.4zM71.2 262.5h1.4v1.4h-1.4zM81.2 269.8h1.4v1.4h-1.4zM86.7 263.2h1.4v1.4h-1.4zM94.9 267.6h1.4v1.4h-1.4zM86.1 270.3h1.4v1.4h-1.4zM84.0 263.1h1.4v1.4h-1.4zM49.4 267.0h1.4v1.4h-1.4zM70.0 270.5h1.4v1.4h-1.4zM53.4 264.3h1.4v1.4h-1.4zM88.5 269.7h1.4v1.4h-1.4zM66.8 263.5h1.4v1.4h-1.4zM75.0 270.4h1.4v1.4h-1.4zM94.9 266.3h1.4v1.4h-1.4zM52.9 265.9h1.4v1.4h-1.4zM64.9 270.7h1.4v1.4h-1.4zM49.4 266.7h1.4v1.4h-1.4zM90.9 269.4h1.4v1.4h-1.4zM56.0 269.2h1.4v1.4h-1.4zM51.5 267.0h1.4v1.4h-1.4zM91.6 269.3h1.4v1.4h-1.4zM52.2 266.9h1.4v1.4h-1.4zM69.0 263.8h1.4v1.4h-1.4zM78.0 262.9h1.4v1.4h-1.4zM60.9 271.0h1.4v1.4h-1.4zM93.1 268.0h1.4v1.4h-1.4zM54.1 269.5h1.4v1.4h-1.4zM67.2 262.8h1.4v1.4h-1.4zM74.7 262.7h1.4v1.4h-1.4zM58.3 263.2h1.4v1.4h-1.4zM94.9 265.6h1.4v1.4h-1.4zM77.4 264.1h1.4v1.4h-1.4zM62.0 269.8h1.4v1.4h-1.4zM93.2 264.5h1.4v1.4h-1.4zM51.0 265.2h1.4v1.4h-1.4zM60.1 270.0h1.4v1.4h-1.4zM83.1 262.8h1.4v1.4h-1.4zM96.5 267.5h1.4v1.4h-1.4zM88.1 270.1h1.4v1.4h-1.4zM90.0 268.2h1.4v1.4h-1.4zM51.6 264.5h1.4v1.4h-1.4zM93.8 266.9h1.4v1.4h-1.4zM57.9 266.0h1.4v1.4h-1.4zM85.4 263.1h1.4v1.4h-1.4zM93.4 268.0h1.4v1.4h-1.4zM101.3 268.7h1.4v1.4h-1.4zM91.1 264.3h1.4v1.4h-1.4zM92.9 265.7h1.4v1.4h-1.4zM61.6 264.7h1.4v1.4h-1.4zM96.8 269.1h1.4v1.4h-1.4zM98.3 268.2h1.4v1.4h-1.4zM89.8 267.3h1.4v1.4h-1.4zM55.9 271.7h1.4v1.4h-1.4zM55.2 266.2h1.4v1.4h-1.4zM53.8 265.9h1.4v1.4h-1.4zM51.3 267.6h1.4v1.4h-1.4zM96.1 264.2h1.4v1.4h-1.4zM53.5 266.8h1.4v1.4h-1.4zM95.9 267.2h1.4v1.4h-1.4zM90.4 267.3h1.4v1.4h-1.4zM52.7 266.1h1.4v1.4h-1.4zM93.5 262.3h1.4v1.4h-1.4zM54.1 266.3h1.4v1.4h-1.4zM94.0 267.9h1.4v1.4h-1.4zM87.5 264.0h1.4v1.4h-1.4zM104.2 267.4h1.4v1.4h-1.4zM97.6 261.5h1.4v1.4h-1.4zM82.5 261.4h1.4v1.4h-1.4zM91.0 267.0h1.4v1.4h-1.4zM82.8 263.5h1.4v1.4h-1.4zM52.7 267.5h1.4v1.4h-1.4zM96.9 265.8h1.4v1.4h-1.4zM53.7 268.0h1.4v1.4h-1.4zM97.5 263.0h1.4v1.4h-1.4zM55.0 265.9h1.4v1.4h-1.4zM91.7 264.2h1.4v1.4h-1.4zM88.7 269.9h1.4v1.4h-1.4zM95.0 265.6h1.4v1.4h-1.4zM55.9 265.2h1.4v1.4h-1.4zM95.6 268.1h1.4v1.4h-1.4zM89.5 262.2h1.4v1.4h-1.4zM90.3 263.3h1.4v1.4h-1.4zM86.0 270.2h1.4v1.4h-1.4zM98.3 264.2h1.4v1.4h-1.4zM55.7 265.6h1.4v1.4h-1.4zM88.1 269.3h1.4v1.4h-1.4zM95.5 266.2h1.4v1.4h-1.4zM51.8 268.0h1.4v1.4h-1.4zM97.8 265.8h1.4v1.4h-1.4zM53.4 268.6h1.4v1.4h-1.4zM103.2 265.7h1.4v1.4h-1.4zM91.8 265.1h1.4v1.4h-1.4zM86.6 266.8h1.4v1.4h-1.4zM92.2 269.7h1.4v1.4h-1.4zM52.2 265.6h1.4v1.4h-1.4zM54.2 267.4h1.4v1.4h-1.4zM55.9 265.7h1.4v1.4h-1.4zM95.9 265.0h1.4v1.4h-1.4zM93.8 268.8h1.4v1.4h-1.4zM99.2 265.6h1.4v1.4h-1.4zM51.2 266.2h1.4v1.4h-1.4zM53.2 269.2h1.4v1.4h-1.4zM86.7 267.9h1.4v1.4h-1.4zM80.3 263.2h1.4v1.4h-1.4zM89.3 269.6h1.4v1.4h-1.4zM52.6 268.9h1.4v1.4h-1.4zM100.0 264.2h1.4v1.4h-1.4zM94.9 267.8h1.4v1.4h-1.4zM56.0 266.9h1.4v1.4h-1.4zM53.3 268.8h1.4v1.4h-1.4zM92.4 264.7h1.4v1.4h-1.4zM95.7 266.1h1.4v1.4h-1.4zM91.7 267.0h1.4v1.4h-1.4zM91.0 269.1h1.4v1.4h-1.4zM52.3 265.4h1.4v1.4h-1.4zM83.1 265.2h1.4v1.4h-1.4zM95.5 267.3h1.4v1.4h-1.4zM54.2 267.1h1.4v1.4h-1.4zM55.1 264.1h1.4v1.4h-1.4zM88.5 268.9h1.4v1.4h-1.4zM96.8 266.8h1.4v1.4h-1.4zM91.0 266.6h1.4v1.4h-1.4zM53.6 271.8h1.4v1.4h-1.4zM50.7 266.5h1.4v1.4h-1.4zM85.8 268.4h1.4v1.4h-1.4zM89.9 264.9h1.4v1.4h-1.4zM86.8 269.3h1.4v1.4h-1.4zM89.7 266.5h1.4v1.4h-1.4zM51.0 265.3h1.4v1.4h-1.4zM91.8 264.5h1.4v1.4h-1.4zM52.2 268.7h1.4v1.4h-1.4zM97.0 268.7h1.4v1.4h-1.4zM50.8 269.3h1.4v1.4h-1.4zM102.4 267.8h1.4v1.4h-1.4zM90.4 266.9h1.4v1.4h-1.4zM52.3 266.7h1.4v1.4h-1.4zM95.7 265.4h1.4v1.4h-1.4zM93.6 268.5h1.4v1.4h-1.4zM85.5 269.8h1.4v1.4h-1.4zM55.2 268.6h1.4v1.4h-1.4zM52.3 266.6h1.4v1.4h-1.4zM92.1 265.5h1.4v1.4h-1.4zM101.3 268.0h1.4v1.4h-1.4zM54.2 265.8h1.4v1.4h-1.4zM52.0 263.6h1.4v1.4h-1.4zM82.3 269.5h1.4v1.4h-1.4zM91.3 267.1h1.4v1.4h-1.4zM53.6 267.2h1.4v1.4h-1.4zM90.2 263.6h1.4v1.4h-1.4zM51.4 267.2h1.4v1.4h-1.4zM101.4 266.1h1.4v1.4h-1.4zM93.4 268.8h1.4v1.4h-1.4zM96.3 265.3h1.4v1.4h-1.4zM99.7 269.7h1.4v1.4h-1.4zM92.0 263.1h1.4v1.4h-1.4zM92.9 268.0h1.4v1.4h-1.4zM88.6 269.0h1.4v1.4h-1.4zM51.7 268.1h1.4v1.4h-1.4zM90.0 269.0h1.4v1.4h-1.4zM51.6 265.0h1.4v1.4h-1.4zM49.2 269.5h1.4v1.4h-1.4zM53.7 268.9h1.4v1.4h-1.4zM90.8 268.5h1.4v1.4h-1.4zM91.0 263.0h1.4v1.4h-1.4zM89.0 265.4h1.4v1.4h-1.4zM87.8 266.1h1.4v1.4h-1.4zM94.0 266.7h1.4v1.4h-1.4zM52.3 268.6h1.4v1.4h-1.4zM86.0 264.4h1.4v1.4h-1.4zM94.2 269.2h1.4v1.4h-1.4zM98.6 265.8h1.4v1.4h-1.4zM88.5 263.3h1.4v1.4h-1.4zM52.1 266.5h1.4v1.4h-1.4zM86.5 265.6h1.4v1.4h-1.4zM96.3 266.5h1.4v1.4h-1.4zM52.5 266.6h1.4v1.4h-1.4zM95.8 267.8h1.4v1.4h-1.4zM51.4 267.1h1.4v1.4h-1.4zM92.4 266.3h1.4v1.4h-1.4zM90.3 267.9h1.4v1.4h-1.4zM94.3 265.9h1.4v1.4h-1.4zM53.3 267.6h1.4v1.4h-1.4zM82.0 264.9h1.4v1.4h-1.4zM53.6 268.8h1.4v1.4h-1.4zM103.8 263.5h1.4v1.4h-1.4zM96.8 263.9h1.4v1.4h-1.4zM92.2 268.9h1.4v1.4h-1.4zM81.7 264.0h1.4v1.4h-1.4zM76.6 269.4h1.4v1.4h-1.4zM57.4 265.7h1.4v1.4h-1.4zM60.0 265.2h1.4v1.4h-1.4zM86.1 264.6h1.4v1.4h-1.4zM76.4 263.2h1.4v1.4h-1.4zM97.6 268.8h1.4v1.4h-1.4zM71.3 264.4h1.4v1.4h-1.4zM62.6 264.8h1.4v1.4h-1.4zM95.0 266.2h1.4v1.4h-1.4zM80.8 262.8h1.4v1.4h-1.4zM82.3 264.6h1.4v1.4h-1.4zM104.7 267.5h1.4v1.4h-1.4zM101.0 262.9h1.4v1.4h-1.4zM99.2 264.3h1.4v1.4h-1.4zM104.5 266.4h1.4v1.4h-1.4zM101.1 266.1h1.4v1.4h-1.4zM99.8 267.8h1.4v1.4h-1.4zM100.7 266.9h1.4v1.4h-1.4zM102.7 267.6h1.4v1.4h-1.4zM98.4 270.0h1.4v1.4h-1.4zM98.4 266.9h1.4v1.4h-1.4zM104.3 270.7h1.4v1.4h-1.4zM99.8 266.8h1.4v1.4h-1.4zM177.6 243.6h1.4v1.4h-1.4zM172.2 244.8h1.4v1.4h-1.4zM159.3 237.0h1.4v1.4h-1.4zM149.9 240.7h1.4v1.4h-1.4zM152.5 243.8h1.4v1.4h-1.4zM136.2 238.0h1.4v1.4h-1.4zM161.8 240.5h1.4v1.4h-1.4zM163.5 252.4h1.4v1.4h-1.4zM153.9 247.6h1.4v1.4h-1.4zM156.2 247.6h1.4v1.4h-1.4zM162.7 244.9h1.4v1.4h-1.4zM143.5 243.0h1.4v1.4h-1.4zM162.9 240.3h1.4v1.4h-1.4zM143.8 243.9h1.4v1.4h-1.4zM152.0 249.6h1.4v1.4h-1.4zM174.6 245.7h1.4v1.4h-1.4zM153.3 246.1h1.4v1.4h-1.4zM161.1 245.1h1.4v1.4h-1.4zM160.8 247.9h1.4v1.4h-1.4zM180.9 237.0h1.4v1.4h-1.4zM169.7 245.2h1.4v1.4h-1.4zM135.8 242.1h1.4v1.4h-1.4zM144.4 240.7h1.4v1.4h-1.4zM173.3 243.3h1.4v1.4h-1.4zM142.4 240.0h1.4v1.4h-1.4zM149.5 249.6h1.4v1.4h-1.4zM168.7 242.4h1.4v1.4h-1.4zM168.4 242.2h1.4v1.4h-1.4zM167.9 242.7h1.4v1.4h-1.4zM154.0 243.3h1.4v1.4h-1.4zM156.9 248.6h1.4v1.4h-1.4zM167.8 245.4h1.4v1.4h-1.4zM161.6 247.7h1.4v1.4h-1.4zM165.8 241.6h1.4v1.4h-1.4zM164.3 244.4h1.4v1.4h-1.4zM152.1 236.8h1.4v1.4h-1.4zM150.8 244.1h1.4v1.4h-1.4zM169.7 243.3h1.4v1.4h-1.4zM160.0 242.0h1.4v1.4h-1.4zM186.4 244.2h1.4v1.4h-1.4zM137.1 247.4h1.4v1.4h-1.4zM152.5 251.3h1.4v1.4h-1.4zM137.6 243.1h1.4v1.4h-1.4zM167.2 241.3h1.4v1.4h-1.4zM177.4 241.4h1.4v1.4h-1.4zM141.7 247.1h1.4v1.4h-1.4zM162.2 242.0h1.4v1.4h-1.4zM164.5 241.0h1.4v1.4h-1.4zM158.6 249.4h1.4v1.4h-1.4zM162.2 241.7h1.4v1.4h-1.4zM141.7 244.3h1.4v1.4h-1.4zM157.7 240.7h1.4v1.4h-1.4zM158.0 242.8h1.4v1.4h-1.4zM158.9 242.3h1.4v1.4h-1.4zM166.5 241.8h1.4v1.4h-1.4zM141.2 246.1h1.4v1.4h-1.4zM173.9 237.9h1.4v1.4h-1.4zM144.8 246.3h1.4v1.4h-1.4zM158.9 242.3h1.4v1.4h-1.4zM159.6 242.3h1.4v1.4h-1.4zM136.0 247.5h1.4v1.4h-1.4zM161.2 242.2h1.4v1.4h-1.4zM144.7 245.0h1.4v1.4h-1.4zM157.6 249.7h1.4v1.4h-1.4zM168.5 248.8h1.4v1.4h-1.4zM144.4 245.8h1.4v1.4h-1.4zM166.7 247.3h1.4v1.4h-1.4zM167.1 249.3h1.4v1.4h-1.4zM148.5 243.9h1.4v1.4h-1.4zM180.3 243.7h1.4v1.4h-1.4zM160.0 247.5h1.4v1.4h-1.4zM174.1 245.9h1.4v1.4h-1.4zM171.9 244.9h1.4v1.4h-1.4zM187.8 242.7h1.4v1.4h-1.4zM169.0 239.4h1.4v1.4h-1.4zM171.1 241.3h1.4v1.4h-1.4zM162.1 246.8h1.4v1.4h-1.4zM182.6 245.9h1.4v1.4h-1.4zM142.8 244.3h1.4v1.4h-1.4zM166.3 247.7h1.4v1.4h-1.4zM164.4 248.7h1.4v1.4h-1.4zM157.7 247.3h1.4v1.4h-1.4zM160.6 246.8h1.4v1.4h-1.4zM175.4 249.4h1.4v1.4h-1.4zM152.6 241.5h1.4v1.4h-1.4zM178.6 243.6h1.4v1.4h-1.4zM148.8 245.4h1.4v1.4h-1.4zM151.1 245.4h1.4v1.4h-1.4zM166.6 245.3h1.4v1.4h-1.4zM152.5 254.4h1.4v1.4h-1.4zM146.2 247.5h1.4v1.4h-1.4zM156.9 245.2h1.4v1.4h-1.4zM153.0 241.7h1.4v1.4h-1.4zM151.3 247.8h1.4v1.4h-1.4zM167.5 242.4h1.4v1.4h-1.4zM143.7 245.9h1.4v1.4h-1.4zM153.5 241.7h1.4v1.4h-1.4zM152.2 242.1h1.4v1.4h-1.4zM148.0 244.2h1.4v1.4h-1.4zM154.9 247.1h1.4v1.4h-1.4zM188.2 244.1h1.4v1.4h-1.4zM162.7 246.6h1.4v1.4h-1.4zM152.1 244.0h1.4v1.4h-1.4zM159.1 241.6h1.4v1.4h-1.4zM160.9 249.6h1.4v1.4h-1.4zM166.9 242.6h1.4v1.4h-1.4zM158.8 249.9h1.4v1.4h-1.4zM165.3 246.0h1.4v1.4h-1.4zM166.9 238.9h1.4v1.4h-1.4zM172.3 251.7h1.4v1.4h-1.4zM160.8 243.5h1.4v1.4h-1.4zM141.4 243.5h1.4v1.4h-1.4zM165.3 242.3h1.4v1.4h-1.4zM162.0 242.2h1.4v1.4h-1.4zM146.5 248.3h1.4v1.4h-1.4zM144.2 243.1h1.4v1.4h-1.4zM172.8 240.7h1.4v1.4h-1.4zM147.6 244.8h1.4v1.4h-1.4zM154.8 240.4h1.4v1.4h-1.4zM143.6 239.1h1.4v1.4h-1.4zM176.0 246.6h1.4v1.4h-1.4zM179.8 243.6h1.4v1.4h-1.4zM170.9 245.3h1.4v1.4h-1.4zM146.8 247.9h1.4v1.4h-1.4zM175.5 245.9h1.4v1.4h-1.4zM167.3 246.4h1.4v1.4h-1.4zM159.9 244.4h1.4v1.4h-1.4zM171.1 246.6h1.4v1.4h-1.4zM146.9 239.0h1.4v1.4h-1.4zM141.5 239.9h1.4v1.4h-1.4zM150.4 242.6h1.4v1.4h-1.4zM174.7 249.5h1.4v1.4h-1.4zM137.0 246.1h1.4v1.4h-1.4zM160.7 244.7h1.4v1.4h-1.4zM192.2 245.3h1.4v1.4h-1.4zM153.1 246.3h1.4v1.4h-1.4zM162.2 244.2h1.4v1.4h-1.4zM178.8 246.2h1.4v1.4h-1.4zM148.2 241.5h1.4v1.4h-1.4zM157.7 244.4h1.4v1.4h-1.4zM135.4 239.9h1.4v1.4h-1.4zM168.3 242.2h1.4v1.4h-1.4zM143.8 247.1h1.4v1.4h-1.4zM159.6 246.3h1.4v1.4h-1.4zM141.9 245.8h1.4v1.4h-1.4zM150.1 244.1h1.4v1.4h-1.4zM165.3 249.2h1.4v1.4h-1.4zM151.2 249.3h1.4v1.4h-1.4zM155.7 248.5h1.4v1.4h-1.4zM138.1 244.7h1.4v1.4h-1.4zM175.6 248.7h1.4v1.4h-1.4zM147.9 244.4h1.4v1.4h-1.4zM153.2 245.7h1.4v1.4h-1.4zM177.1 244.7h1.4v1.4h-1.4zM147.7 243.0h1.4v1.4h-1.4zM167.0 250.2h1.4v1.4h-1.4zM164.5 242.5h1.4v1.4h-1.4zM159.6 239.8h1.4v1.4h-1.4zM146.3 244.1h1.4v1.4h-1.4zM164.7 251.9h1.4v1.4h-1.4zM159.6 252.7h1.4v1.4h-1.4zM163.9 246.9h1.4v1.4h-1.4zM159.0 242.2h1.4v1.4h-1.4zM143.8 250.7h1.4v1.4h-1.4zM154.1 251.2h1.4v1.4h-1.4zM154.7 251.2h1.4v1.4h-1.4zM172.5 242.3h1.4v1.4h-1.4zM162.6 250.3h1.4v1.4h-1.4zM165.1 247.5h1.4v1.4h-1.4zM161.3 247.7h1.4v1.4h-1.4zM153.4 248.9h1.4v1.4h-1.4zM163.1 246.6h1.4v1.4h-1.4zM164.0 244.8h1.4v1.4h-1.4zM160.3 238.2h1.4v1.4h-1.4zM166.4 247.1h1.4v1.4h-1.4zM146.7 242.1h1.4v1.4h-1.4zM153.4 245.2h1.4v1.4h-1.4zM168.3 245.0h1.4v1.4h-1.4zM150.5 239.8h1.4v1.4h-1.4zM153.5 240.5h1.4v1.4h-1.4zM171.2 249.8h1.4v1.4h-1.4zM173.4 243.7h1.4v1.4h-1.4zM150.2 242.5h1.4v1.4h-1.4zM166.8 247.4h1.4v1.4h-1.4zM179.2 242.3h1.4v1.4h-1.4zM152.3 247.5h1.4v1.4h-1.4zM150.5 242.2h1.4v1.4h-1.4zM138.0 249.3h1.4v1.4h-1.4zM161.1 247.1h1.4v1.4h-1.4zM148.3 245.3h1.4v1.4h-1.4zM146.2 241.0h1.4v1.4h-1.4zM147.7 246.2h1.4v1.4h-1.4zM137.4 243.5h1.4v1.4h-1.4zM143.3 243.7h1.4v1.4h-1.4zM138.6 243.6h1.4v1.4h-1.4zM170.8 241.8h1.4v1.4h-1.4zM136.4 238.0h1.4v1.4h-1.4zM163.4 249.9h1.4v1.4h-1.4zM153.6 243.5h1.4v1.4h-1.4zM170.5 234.4h1.4v1.4h-1.4zM150.3 244.7h1.4v1.4h-1.4zM167.6 241.0h1.4v1.4h-1.4zM163.8 248.1h1.4v1.4h-1.4zM148.1 237.7h1.4v1.4h-1.4zM186.3 240.7h1.4v1.4h-1.4zM148.0 245.7h1.4v1.4h-1.4zM140.7 244.2h1.4v1.4h-1.4zM135.0 240.8h1.4v1.4h-1.4zM171.5 248.1h1.4v1.4h-1.4zM138.0 247.2h1.4v1.4h-1.4zM158.8 241.2h1.4v1.4h-1.4zM186.1 250.6h1.4v1.4h-1.4zM168.9 242.9h1.4v1.4h-1.4zM160.5 245.6h1.4v1.4h-1.4zM170.4 243.4h1.4v1.4h-1.4zM157.2 246.4h1.4v1.4h-1.4zM166.6 246.5h1.4v1.4h-1.4zM145.2 244.4h1.4v1.4h-1.4zM150.5 241.9h1.4v1.4h-1.4zM139.5 242.2h1.4v1.4h-1.4zM152.1 242.7h1.4v1.4h-1.4zM158.7 245.7h1.4v1.4h-1.4zM145.2 247.3h1.4v1.4h-1.4zM160.8 247.7h1.4v1.4h-1.4zM145.7 243.2h1.4v1.4h-1.4zM159.2 251.7h1.4v1.4h-1.4zM183.4 249.9h1.4v1.4h-1.4zM146.5 248.6h1.4v1.4h-1.4zM166.5 248.1h1.4v1.4h-1.4zM160.4 244.5h1.4v1.4h-1.4zM157.8 238.2h1.4v1.4h-1.4zM170.2 244.2h1.4v1.4h-1.4zM135.9 245.2h1.4v1.4h-1.4zM166.7 248.2h1.4v1.4h-1.4zM179.3 245.7h1.4v1.4h-1.4zM174.3 241.4h1.4v1.4h-1.4zM170.3 239.4h1.4v1.4h-1.4zM173.0 240.0h1.4v1.4h-1.4zM143.5 240.2h1.4v1.4h-1.4zM164.5 247.2h1.4v1.4h-1.4zM170.9 238.8h1.4v1.4h-1.4zM146.4 244.9h1.4v1.4h-1.4zM171.3 243.6h1.4v1.4h-1.4zM176.4 251.8h1.4v1.4h-1.4zM155.4 241.7h1.4v1.4h-1.4zM153.4 245.9h1.4v1.4h-1.4zM157.9 236.2h1.4v1.4h-1.4zM148.5 240.0h1.4v1.4h-1.4zM167.3 251.0h1.4v1.4h-1.4zM152.9 243.7h1.4v1.4h-1.4zM157.1 241.1h1.4v1.4h-1.4zM178.3 250.2h1.4v1.4h-1.4zM179.9 243.3h1.4v1.4h-1.4zM142.3 240.3h1.4v1.4h-1.4zM175.2 236.9h1.4v1.4h-1.4zM162.2 245.8h1.4v1.4h-1.4zM166.0 240.1h1.4v1.4h-1.4zM147.4 245.6h1.4v1.4h-1.4zM143.3 244.5h1.4v1.4h-1.4zM151.0 252.7h1.4v1.4h-1.4zM155.1 251.6h1.4v1.4h-1.4zM158.2 236.3h1.4v1.4h-1.4zM173.2 252.2h1.4v1.4h-1.4zM173.7 250.2h1.4v1.4h-1.4zM159.0 239.8h1.4v1.4h-1.4zM153.3 239.5h1.4v1.4h-1.4zM157.0 241.4h1.4v1.4h-1.4zM148.9 239.9h1.4v1.4h-1.4zM150.1 242.0h1.4v1.4h-1.4zM149.3 245.7h1.4v1.4h-1.4zM151.5 240.9h1.4v1.4h-1.4zM160.8 241.3h1.4v1.4h-1.4zM152.0 242.9h1.4v1.4h-1.4zM143.0 242.5h1.4v1.4h-1.4zM156.7 249.7h1.4v1.4h-1.4zM172.7 244.3h1.4v1.4h-1.4zM159.7 239.7h1.4v1.4h-1.4zM168.6 243.9h1.4v1.4h-1.4zM146.6 241.9h1.4v1.4h-1.4zM161.9 249.6h1.4v1.4h-1.4zM173.9 247.7h1.4v1.4h-1.4zM176.2 240.4h1.4v1.4h-1.4zM157.8 249.0h1.4v1.4h-1.4zM177.4 245.8h1.4v1.4h-1.4zM170.0 254.1h1.4v1.4h-1.4zM159.4 241.0h1.4v1.4h-1.4zM158.8 247.2h1.4v1.4h-1.4zM171.0 248.8h1.4v1.4h-1.4zM183.9 239.4h1.4v1.4h-1.4zM161.4 245.6h1.4v1.4h-1.4zM160.5 245.3h1.4v1.4h-1.4zM169.1 245.8h1.4v1.4h-1.4zM168.9 243.0h1.4v1.4h-1.4zM145.5 243.7h1.4v1.4h-1.4zM148.9 243.5h1.4v1.4h-1.4zM155.6 246.9h1.4v1.4h-1.4zM171.4 249.9h1.4v1.4h-1.4zM158.5 242.3h1.4v1.4h-1.4zM169.2 247.9h1.4v1.4h-1.4zM162.7 246.5h1.4v1.4h-1.4zM141.0 238.8h1.4v1.4h-1.4zM150.0 240.1h1.4v1.4h-1.4zM148.8 246.4h1.4v1.4h-1.4zM170.7 239.3h1.4v1.4h-1.4zM143.2 245.4h1.4v1.4h-1.4zM172.9 244.6h1.4v1.4h-1.4zM135.4 246.0h1.4v1.4h-1.4zM162.3 241.0h1.4v1.4h-1.4zM156.0 246.2h1.4v1.4h-1.4zM171.0 244.0h1.4v1.4h-1.4zM184.5 240.6h1.4v1.4h-1.4zM187.6 245.7h1.4v1.4h-1.4zM161.7 246.6h1.4v1.4h-1.4zM148.6 246.4h1.4v1.4h-1.4zM151.7 251.2h1.4v1.4h-1.4zM169.6 241.9h1.4v1.4h-1.4zM150.6 241.2h1.4v1.4h-1.4zM151.1 242.5h1.4v1.4h-1.4zM151.0 241.0h1.4v1.4h-1.4zM163.9 250.7h1.4v1.4h-1.4zM169.7 247.5h1.4v1.4h-1.4zM157.5 244.6h1.4v1.4h-1.4zM166.3 241.5h1.4v1.4h-1.4zM167.1 243.0h1.4v1.4h-1.4zM141.8 239.6h1.4v1.4h-1.4zM145.1 248.0h1.4v1.4h-1.4zM147.1 244.3h1.4v1.4h-1.4zM141.0 242.9h1.4v1.4h-1.4zM160.4 246.4h1.4v1.4h-1.4zM194.1 240.1h1.4v1.4h-1.4zM164.9 250.0h1.4v1.4h-1.4zM135.9 243.5h1.4v1.4h-1.4zM159.6 239.0h1.4v1.4h-1.4zM161.8 247.8h1.4v1.4h-1.4zM160.6 240.5h1.4v1.4h-1.4zM153.1 248.1h1.4v1.4h-1.4zM153.9 243.4h1.4v1.4h-1.4zM154.2 246.5h1.4v1.4h-1.4zM150.5 243.0h1.4v1.4h-1.4zM146.7 242.0h1.4v1.4h-1.4zM157.4 241.4h1.4v1.4h-1.4zM148.7 246.5h1.4v1.4h-1.4zM166.7 250.6h1.4v1.4h-1.4zM165.5 243.8h1.4v1.4h-1.4zM156.6 249.6h1.4v1.4h-1.4zM163.2 242.2h1.4v1.4h-1.4zM156.6 249.1h1.4v1.4h-1.4zM152.3 242.5h1.4v1.4h-1.4zM170.9 250.2h1.4v1.4h-1.4zM158.0 237.7h1.4v1.4h-1.4zM159.2 247.5h1.4v1.4h-1.4zM163.0 241.4h1.4v1.4h-1.4zM160.6 243.6h1.4v1.4h-1.4zM162.8 242.9h1.4v1.4h-1.4zM158.1 243.5h1.4v1.4h-1.4zM185.2 248.3h1.4v1.4h-1.4zM135.6 247.9h1.4v1.4h-1.4zM150.2 246.2h1.4v1.4h-1.4zM167.7 240.8h1.4v1.4h-1.4zM163.6 242.2h1.4v1.4h-1.4zM152.3 243.0h1.4v1.4h-1.4zM177.5 245.7h1.4v1.4h-1.4zM155.6 241.2h1.4v1.4h-1.4zM158.2 242.6h1.4v1.4h-1.4zM154.8 241.5h1.4v1.4h-1.4zM149.7 246.0h1.4v1.4h-1.4zM164.2 242.8h1.4v1.4h-1.4zM145.7 243.7h1.4v1.4h-1.4zM165.8 243.6h1.4v1.4h-1.4zM158.3 245.1h1.4v1.4h-1.4zM153.9 243.5h1.4v1.4h-1.4zM160.4 251.1h1.4v1.4h-1.4zM183.9 239.6h1.4v1.4h-1.4zM163.2 247.3h1.4v1.4h-1.4zM146.7 242.5h1.4v1.4h-1.4zM185.4 248.4h1.4v1.4h-1.4zM164.4 252.9h1.4v1.4h-1.4zM156.0 241.5h1.4v1.4h-1.4zM153.5 246.6h1.4v1.4h-1.4zM144.6 247.4h1.4v1.4h-1.4zM167.8 245.2h1.4v1.4h-1.4zM148.3 243.5h1.4v1.4h-1.4zM158.4 239.4h1.4v1.4h-1.4zM147.7 240.1h1.4v1.4h-1.4zM151.7 241.1h1.4v1.4h-1.4zM182.7 245.2h1.4v1.4h-1.4zM167.4 236.9h1.4v1.4h-1.4zM167.9 246.9h1.4v1.4h-1.4zM171.2 248.9h1.4v1.4h-1.4zM156.7 242.9h1.4v1.4h-1.4zM149.4 241.7h1.4v1.4h-1.4zM166.9 248.8h1.4v1.4h-1.4zM166.1 242.7h1.4v1.4h-1.4zM163.2 247.1h1.4v1.4h-1.4zM174.2 247.8h1.4v1.4h-1.4zM157.8 240.9h1.4v1.4h-1.4zM162.4 248.6h1.4v1.4h-1.4zM155.0 246.7h1.4v1.4h-1.4zM164.6 242.7h1.4v1.4h-1.4zM175.6 245.1h1.4v1.4h-1.4zM165.3 246.8h1.4v1.4h-1.4zM161.9 252.9h1.4v1.4h-1.4zM155.9 247.2h1.4v1.4h-1.4zM155.4 243.5h1.4v1.4h-1.4zM171.8 245.7h1.4v1.4h-1.4zM166.9 246.5h1.4v1.4h-1.4zM143.2 243.8h1.4v1.4h-1.4zM183.1 244.4h1.4v1.4h-1.4zM143.6 240.0h1.4v1.4h-1.4zM142.7 242.9h1.4v1.4h-1.4zM163.8 239.9h1.4v1.4h-1.4zM141.9 246.0h1.4v1.4h-1.4zM160.6 241.9h1.4v1.4h-1.4zM169.1 246.7h1.4v1.4h-1.4zM178.3 245.2h1.4v1.4h-1.4zM152.2 244.6h1.4v1.4h-1.4zM154.0 245.5h1.4v1.4h-1.4zM150.1 242.7h1.4v1.4h-1.4zM149.0 247.5h1.4v1.4h-1.4zM165.1 240.0h1.4v1.4h-1.4zM158.4 238.7h1.4v1.4h-1.4zM168.5 245.2h1.4v1.4h-1.4zM149.6 247.4h1.4v1.4h-1.4zM163.8 246.2h1.4v1.4h-1.4zM150.7 245.6h1.4v1.4h-1.4zM175.5 241.5h1.4v1.4h-1.4zM153.1 245.8h1.4v1.4h-1.4zM147.5 243.1h1.4v1.4h-1.4zM182.3 247.7h1.4v1.4h-1.4zM157.5 242.6h1.4v1.4h-1.4zM178.4 244.0h1.4v1.4h-1.4zM158.8 246.5h1.4v1.4h-1.4zM170.1 245.3h1.4v1.4h-1.4zM165.0 246.4h1.4v1.4h-1.4zM151.5 241.7h1.4v1.4h-1.4zM162.4 241.8h1.4v1.4h-1.4zM158.6 238.1h1.4v1.4h-1.4zM180.3 238.9h1.4v1.4h-1.4zM147.7 245.7h1.4v1.4h-1.4zM184.3 243.7h1.4v1.4h-1.4zM148.0 246.4h1.4v1.4h-1.4zM176.8 247.5h1.4v1.4h-1.4zM172.0 248.0h1.4v1.4h-1.4zM173.9 246.7h1.4v1.4h-1.4zM173.5 242.8h1.4v1.4h-1.4zM168.8 245.4h1.4v1.4h-1.4zM173.7 244.6h1.4v1.4h-1.4zM153.9 246.7h1.4v1.4h-1.4zM155.8 247.1h1.4v1.4h-1.4zM172.9 240.2h1.4v1.4h-1.4zM147.8 242.5h1.4v1.4h-1.4zM169.4 244.4h1.4v1.4h-1.4zM151.5 241.3h1.4v1.4h-1.4zM142.8 249.6h1.4v1.4h-1.4zM170.0 241.8h1.4v1.4h-1.4zM179.3 247.6h1.4v1.4h-1.4zM155.9 246.9h1.4v1.4h-1.4zM155.1 241.5h1.4v1.4h-1.4zM158.0 247.7h1.4v1.4h-1.4zM154.2 242.3h1.4v1.4h-1.4zM156.7 245.0h1.4v1.4h-1.4zM175.1 245.2h1.4v1.4h-1.4zM156.7 243.0h1.4v1.4h-1.4zM149.4 244.5h1.4v1.4h-1.4zM170.4 246.8h1.4v1.4h-1.4zM167.7 239.5h1.4v1.4h-1.4zM156.8 241.6h1.4v1.4h-1.4zM168.6 246.1h1.4v1.4h-1.4zM170.1 245.0h1.4v1.4h-1.4zM165.5 242.2h1.4v1.4h-1.4zM163.6 241.7h1.4v1.4h-1.4zM167.0 246.6h1.4v1.4h-1.4zM164.1 249.6h1.4v1.4h-1.4zM151.2 241.1h1.4v1.4h-1.4zM153.1 242.1h1.4v1.4h-1.4zM161.0 241.0h1.4v1.4h-1.4zM159.2 249.3h1.4v1.4h-1.4zM146.4 245.3h1.4v1.4h-1.4zM146.7 236.0h1.4v1.4h-1.4zM157.9 241.7h1.4v1.4h-1.4zM172.0 249.4h1.4v1.4h-1.4zM180.1 244.4h1.4v1.4h-1.4zM160.4 240.5h1.4v1.4h-1.4zM152.7 245.9h1.4v1.4h-1.4zM136.9 249.3h1.4v1.4h-1.4zM168.7 245.1h1.4v1.4h-1.4zM169.5 238.4h1.4v1.4h-1.4zM176.7 241.9h1.4v1.4h-1.4zM181.2 242.8h1.4v1.4h-1.4zM147.3 242.0h1.4v1.4h-1.4zM163.5 240.5h1.4v1.4h-1.4zM166.6 249.6h1.4v1.4h-1.4zM164.7 246.2h1.4v1.4h-1.4zM163.0 247.0h1.4v1.4h-1.4zM144.8 240.7h1.4v1.4h-1.4zM142.0 240.2h1.4v1.4h-1.4zM150.0 242.5h1.4v1.4h-1.4zM166.8 244.0h1.4v1.4h-1.4zM160.6 241.9h1.4v1.4h-1.4zM171.5 246.0h1.4v1.4h-1.4zM168.0 241.7h1.4v1.4h-1.4zM170.9 246.4h1.4v1.4h-1.4zM139.8 241.3h1.4v1.4h-1.4zM157.6 245.6h1.4v1.4h-1.4zM150.5 249.0h1.4v1.4h-1.4zM149.0 243.9h1.4v1.4h-1.4zM171.0 250.1h1.4v1.4h-1.4zM135.6 242.2h1.4v1.4h-1.4zM152.1 252.0h1.4v1.4h-1.4zM147.4 249.3h1.4v1.4h-1.4zM145.5 247.8h1.4v1.4h-1.4zM161.6 253.7h1.4v1.4h-1.4zM173.5 243.2h1.4v1.4h-1.4zM170.9 241.1h1.4v1.4h-1.4zM161.0 242.9h1.4v1.4h-1.4zM147.7 238.8h1.4v1.4h-1.4zM152.0 238.3h1.4v1.4h-1.4zM152.9 251.0h1.4v1.4h-1.4zM170.4 245.5h1.4v1.4h-1.4zM152.6 242.2h1.4v1.4h-1.4zM159.2 246.7h1.4v1.4h-1.4zM174.5 249.2h1.4v1.4h-1.4zM141.5 243.9h1.4v1.4h-1.4zM163.7 247.6h1.4v1.4h-1.4zM152.3 240.2h1.4v1.4h-1.4zM153.1 241.6h1.4v1.4h-1.4zM164.6 240.6h1.4v1.4h-1.4zM161.8 248.5h1.4v1.4h-1.4zM152.6 244.4h1.4v1.4h-1.4zM160.7 241.9h1.4v1.4h-1.4zM164.8 245.5h1.4v1.4h-1.4zM164.4 245.8h1.4v1.4h-1.4zM173.5 247.2h1.4v1.4h-1.4zM157.8 248.0h1.4v1.4h-1.4zM153.2 247.0h1.4v1.4h-1.4zM152.1 245.0h1.4v1.4h-1.4zM184.1 245.2h1.4v1.4h-1.4zM170.6 261.5h1.4v1.4h-1.4zM164.3 253.5h1.4v1.4h-1.4zM164.2 254.5h1.4v1.4h-1.4zM169.3 266.0h1.4v1.4h-1.4zM174.4 265.2h1.4v1.4h-1.4zM168.5 256.9h1.4v1.4h-1.4zM170.0 261.7h1.4v1.4h-1.4zM167.2 258.7h1.4v1.4h-1.4zM161.7 260.2h1.4v1.4h-1.4zM159.1 263.2h1.4v1.4h-1.4zM156.9 256.7h1.4v1.4h-1.4zM165.0 263.2h1.4v1.4h-1.4zM167.6 256.7h1.4v1.4h-1.4zM161.1 258.9h1.4v1.4h-1.4zM167.1 250.8h1.4v1.4h-1.4zM174.6 250.1h1.4v1.4h-1.4zM158.8 258.4h1.4v1.4h-1.4zM165.0 254.4h1.4v1.4h-1.4zM175.6 248.3h1.4v1.4h-1.4zM157.0 259.9h1.4v1.4h-1.4zM171.6 265.3h1.4v1.4h-1.4zM161.8 264.4h1.4v1.4h-1.4zM160.7 259.7h1.4v1.4h-1.4zM163.7 255.1h1.4v1.4h-1.4zM169.5 256.8h1.4v1.4h-1.4zM169.4 255.9h1.4v1.4h-1.4zM162.8 267.5h1.4v1.4h-1.4zM165.2 253.0h1.4v1.4h-1.4zM167.6 258.1h1.4v1.4h-1.4zM161.0 257.4h1.4v1.4h-1.4zM177.8 249.9h1.4v1.4h-1.4zM162.4 263.0h1.4v1.4h-1.4zM174.2 264.5h1.4v1.4h-1.4zM167.2 264.3h1.4v1.4h-1.4zM172.8 263.5h1.4v1.4h-1.4zM158.0 261.6h1.4v1.4h-1.4zM170.9 258.5h1.4v1.4h-1.4zM158.7 262.8h1.4v1.4h-1.4zM161.7 267.5h1.4v1.4h-1.4zM159.2 264.9h1.4v1.4h-1.4zM149.5 261.3h1.4v1.4h-1.4zM165.4 258.8h1.4v1.4h-1.4zM165.6 252.1h1.4v1.4h-1.4zM169.3 264.2h1.4v1.4h-1.4zM174.7 261.1h1.4v1.4h-1.4zM165.8 256.6h1.4v1.4h-1.4zM160.3 256.5h1.4v1.4h-1.4zM160.9 258.4h1.4v1.4h-1.4zM166.2 265.0h1.4v1.4h-1.4zM169.7 254.9h1.4v1.4h-1.4zM174.3 261.4h1.4v1.4h-1.4zM168.0 258.8h1.4v1.4h-1.4zM169.1 254.1h1.4v1.4h-1.4zM166.2 257.5h1.4v1.4h-1.4zM173.7 258.0h1.4v1.4h-1.4zM164.1 261.7h1.4v1.4h-1.4zM172.3 262.1h1.4v1.4h-1.4zM176.1 268.7h1.4v1.4h-1.4zM169.8 256.9h1.4v1.4h-1.4zM160.2 261.0h1.4v1.4h-1.4zM166.6 264.6h1.4v1.4h-1.4zM158.7 254.3h1.4v1.4h-1.4zM161.7 266.3h1.4v1.4h-1.4zM171.7 261.2h1.4v1.4h-1.4zM165.2 261.9h1.4v1.4h-1.4zM164.4 264.7h1.4v1.4h-1.4zM169.7 256.1h1.4v1.4h-1.4zM167.9 255.9h1.4v1.4h-1.4zM163.7 261.1h1.4v1.4h-1.4zM161.1 279.3h1.4v1.4h-1.4zM159.8 279.7h1.4v1.4h-1.4zM169.0 272.6h1.4v1.4h-1.4zM163.1 267.6h1.4v1.4h-1.4zM154.4 263.9h1.4v1.4h-1.4zM170.4 272.4h1.4v1.4h-1.4zM158.2 273.4h1.4v1.4h-1.4zM152.0 269.6h1.4v1.4h-1.4zM155.1 275.8h1.4v1.4h-1.4zM169.3 274.9h1.4v1.4h-1.4zM165.8 269.2h1.4v1.4h-1.4zM152.8 274.8h1.4v1.4h-1.4zM168.0 269.5h1.4v1.4h-1.4zM165.5 270.2h1.4v1.4h-1.4zM158.1 280.7h1.4v1.4h-1.4zM171.4 272.7h1.4v1.4h-1.4zM154.3 274.3h1.4v1.4h-1.4zM155.4 277.6h1.4v1.4h-1.4zM180.5 272.3h1.4v1.4h-1.4zM172.7 267.4h1.4v1.4h-1.4zM162.6 277.6h1.4v1.4h-1.4zM164.8 265.9h1.4v1.4h-1.4zM158.1 276.4h1.4v1.4h-1.4zM182.4 279.2h1.4v1.4h-1.4zM161.8 270.8h1.4v1.4h-1.4zM157.7 266.1h1.4v1.4h-1.4zM163.2 274.3h1.4v1.4h-1.4zM152.4 272.8h1.4v1.4h-1.4zM168.2 265.2h1.4v1.4h-1.4zM163.8 266.3h1.4v1.4h-1.4zM171.0 271.3h1.4v1.4h-1.4zM171.3 277.0h1.4v1.4h-1.4zM153.9 268.3h1.4v1.4h-1.4zM163.3 268.2h1.4v1.4h-1.4zM165.2 265.6h1.4v1.4h-1.4zM162.3 275.3h1.4v1.4h-1.4zM168.3 265.7h1.4v1.4h-1.4zM155.9 271.7h1.4v1.4h-1.4zM162.3 265.2h1.4v1.4h-1.4zM159.4 276.6h1.4v1.4h-1.4zM168.7 271.2h1.4v1.4h-1.4zM152.3 274.3h1.4v1.4h-1.4zM149.0 279.8h1.4v1.4h-1.4zM169.4 269.5h1.4v1.4h-1.4zM162.0 277.9h1.4v1.4h-1.4zM153.0 268.1h1.4v1.4h-1.4zM172.8 270.0h1.4v1.4h-1.4zM161.5 277.4h1.4v1.4h-1.4zM170.7 267.8h1.4v1.4h-1.4zM166.8 275.1h1.4v1.4h-1.4zM143.4 271.7h1.4v1.4h-1.4zM164.9 278.3h1.4v1.4h-1.4zM159.2 268.7h1.4v1.4h-1.4zM138.7 271.9h1.4v1.4h-1.4zM142.7 261.7h1.4v1.4h-1.4zM166.6 271.0h1.4v1.4h-1.4zM164.7 280.6h1.4v1.4h-1.4zM174.6 271.5h1.4v1.4h-1.4zM162.8 277.0h1.4v1.4h-1.4zM158.0 269.1h1.4v1.4h-1.4zM170.6 274.4h1.4v1.4h-1.4zM159.7 271.9h1.4v1.4h-1.4zM157.5 270.3h1.4v1.4h-1.4zM167.9 277.5h1.4v1.4h-1.4zM189.8 268.3h1.4v1.4h-1.4zM164.2 261.9h1.4v1.4h-1.4zM166.4 263.8h1.4v1.4h-1.4zM171.2 275.1h1.4v1.4h-1.4zM172.9 272.5h1.4v1.4h-1.4zM162.8 271.6h1.4v1.4h-1.4zM154.5 269.4h1.4v1.4h-1.4zM156.7 267.2h1.4v1.4h-1.4zM168.3 272.0h1.4v1.4h-1.4zM154.5 269.2h1.4v1.4h-1.4zM149.6 271.6h1.4v1.4h-1.4zM174.1 277.1h1.4v1.4h-1.4zM160.2 269.7h1.4v1.4h-1.4zM160.7 261.1h1.4v1.4h-1.4zM181.6 275.3h1.4v1.4h-1.4zM164.3 262.1h1.4v1.4h-1.4zM180.6 272.5h1.4v1.4h-1.4zM160.2 263.7h1.4v1.4h-1.4zM163.0 277.0h1.4v1.4h-1.4zM150.4 258.7h1.4v1.4h-1.4zM155.8 276.4h1.4v1.4h-1.4zM166.7 270.0h1.4v1.4h-1.4zM162.3 262.3h1.4v1.4h-1.4zM164.2 267.0h1.4v1.4h-1.4zM155.5 262.0h1.4v1.4h-1.4zM151.6 275.4h1.4v1.4h-1.4zM154.7 276.6h1.4v1.4h-1.4zM146.6 270.9h1.4v1.4h-1.4zM151.0 276.3h1.4v1.4h-1.4zM164.1 277.1h1.4v1.4h-1.4zM171.2 273.4h1.4v1.4h-1.4zM164.4 278.1h1.4v1.4h-1.4zM173.6 267.4h1.4v1.4h-1.4zM169.0 261.0h1.4v1.4h-1.4zM161.3 276.9h1.4v1.4h-1.4zM157.1 275.7h1.4v1.4h-1.4zM174.5 266.8h1.4v1.4h-1.4zM148.0 266.1h1.4v1.4h-1.4zM164.6 277.3h1.4v1.4h-1.4zM163.7 277.9h1.4v1.4h-1.4zM168.1 268.5h1.4v1.4h-1.4zM157.8 277.1h1.4v1.4h-1.4zM164.0 265.5h1.4v1.4h-1.4zM164.6 273.9h1.4v1.4h-1.4zM143.6 257.4h1.4v1.4h-1.4zM173.7 274.3h1.4v1.4h-1.4zM175.2 270.5h1.4v1.4h-1.4zM150.5 266.8h1.4v1.4h-1.4zM166.4 268.3h1.4v1.4h-1.4zM156.8 279.0h1.4v1.4h-1.4zM156.7 268.1h1.4v1.4h-1.4zM147.1 279.8h1.4v1.4h-1.4zM175.0 275.2h1.4v1.4h-1.4zM168.0 270.3h1.4v1.4h-1.4zM173.0 272.9h1.4v1.4h-1.4zM165.2 267.8h1.4v1.4h-1.4zM155.8 269.5h1.4v1.4h-1.4zM162.1 277.9h1.4v1.4h-1.4zM168.1 273.2h1.4v1.4h-1.4zM161.4 268.5h1.4v1.4h-1.4zM153.6 270.6h1.4v1.4h-1.4zM165.6 264.6h1.4v1.4h-1.4zM160.0 279.3h1.4v1.4h-1.4zM165.6 278.9h1.4v1.4h-1.4zM168.7 278.7h1.4v1.4h-1.4zM167.8 279.2h1.4v1.4h-1.4zM151.3 274.3h1.4v1.4h-1.4zM167.5 277.9h1.4v1.4h-1.4zM153.5 267.1h1.4v1.4h-1.4zM144.7 271.6h1.4v1.4h-1.4zM165.5 262.1h1.4v1.4h-1.4zM144.1 269.1h1.4v1.4h-1.4zM144.8 280.1h1.4v1.4h-1.4zM143.1 262.7h1.4v1.4h-1.4zM163.1 279.5h1.4v1.4h-1.4zM163.2 278.3h1.4v1.4h-1.4zM171.7 260.0h1.4v1.4h-1.4zM152.2 274.3h1.4v1.4h-1.4zM153.2 266.7h1.4v1.4h-1.4zM162.1 277.1h1.4v1.4h-1.4zM154.7 267.3h1.4v1.4h-1.4zM161.5 265.8h1.4v1.4h-1.4zM161.5 279.4h1.4v1.4h-1.4zM154.3 275.9h1.4v1.4h-1.4zM167.9 271.5h1.4v1.4h-1.4zM163.9 259.3h1.4v1.4h-1.4zM156.9 275.5h1.4v1.4h-1.4zM169.9 271.2h1.4v1.4h-1.4zM171.7 272.7h1.4v1.4h-1.4zM163.7 273.5h1.4v1.4h-1.4zM168.8 278.6h1.4v1.4h-1.4zM159.7 266.2h1.4v1.4h-1.4zM179.5 275.4h1.4v1.4h-1.4zM163.0 276.5h1.4v1.4h-1.4zM175.1 271.3h1.4v1.4h-1.4zM160.6 274.2h1.4v1.4h-1.4zM154.9 265.6h1.4v1.4h-1.4zM141.6 269.7h1.4v1.4h-1.4zM168.7 271.1h1.4v1.4h-1.4zM147.3 277.0h1.4v1.4h-1.4zM161.5 268.1h1.4v1.4h-1.4zM154.1 265.3h1.4v1.4h-1.4zM156.3 273.1h1.4v1.4h-1.4zM169.5 266.8h1.4v1.4h-1.4zM165.0 271.6h1.4v1.4h-1.4zM154.4 265.4h1.4v1.4h-1.4zM171.3 262.6h1.4v1.4h-1.4zM161.4 252.5h1.4v1.4h-1.4zM173.4 264.4h1.4v1.4h-1.4zM177.3 271.2h1.4v1.4h-1.4zM162.1 261.6h1.4v1.4h-1.4zM165.5 264.9h1.4v1.4h-1.4zM158.9 277.4h1.4v1.4h-1.4zM158.7 264.1h1.4v1.4h-1.4zM167.3 276.1h1.4v1.4h-1.4zM150.6 275.9h1.4v1.4h-1.4zM167.0 274.9h1.4v1.4h-1.4zM159.0 269.6h1.4v1.4h-1.4zM145.9 275.4h1.4v1.4h-1.4zM162.8 271.7h1.4v1.4h-1.4zM154.6 272.3h1.4v1.4h-1.4zM167.6 274.2h1.4v1.4h-1.4zM173.8 273.2h1.4v1.4h-1.4zM152.3 265.6h1.4v1.4h-1.4zM163.3 273.9h1.4v1.4h-1.4zM169.8 274.1h1.4v1.4h-1.4zM156.2 273.0h1.4v1.4h-1.4zM165.2 264.6h1.4v1.4h-1.4zM152.5 273.3h1.4v1.4h-1.4zM172.4 255.9h1.4v1.4h-1.4zM167.9 269.0h1.4v1.4h-1.4zM165.7 273.6h1.4v1.4h-1.4zM163.6 280.5h1.4v1.4h-1.4zM159.9 274.0h1.4v1.4h-1.4zM154.3 270.9h1.4v1.4h-1.4zM154.5 267.7h1.4v1.4h-1.4zM168.1 271.8h1.4v1.4h-1.4zM156.2 269.0h1.4v1.4h-1.4zM168.8 274.0h1.4v1.4h-1.4zM147.8 272.8h1.4v1.4h-1.4zM161.6 279.1h1.4v1.4h-1.4zM171.7 264.5h1.4v1.4h-1.4zM144.0 277.6h1.4v1.4h-1.4zM157.5 272.1h1.4v1.4h-1.4zM159.5 277.8h1.4v1.4h-1.4zM154.0 263.7h1.4v1.4h-1.4zM156.3 274.7h1.4v1.4h-1.4zM164.0 279.5h1.4v1.4h-1.4zM152.9 272.8h1.4v1.4h-1.4zM178.1 259.6h1.4v1.4h-1.4zM171.8 268.0h1.4v1.4h-1.4zM157.4 271.7h1.4v1.4h-1.4zM153.9 267.2h1.4v1.4h-1.4zM167.7 279.6h1.4v1.4h-1.4zM172.1 273.8h1.4v1.4h-1.4zM154.2 272.0h1.4v1.4h-1.4zM148.6 274.5h1.4v1.4h-1.4zM165.5 270.7h1.4v1.4h-1.4zM163.8 256.6h1.4v1.4h-1.4zM164.2 277.4h1.4v1.4h-1.4zM157.1 276.5h1.4v1.4h-1.4zM153.4 273.2h1.4v1.4h-1.4zM157.3 263.0h1.4v1.4h-1.4zM144.8 276.4h1.4v1.4h-1.4zM179.6 261.0h1.4v1.4h-1.4zM146.3 266.6h1.4v1.4h-1.4zM152.7 268.4h1.4v1.4h-1.4zM165.5 269.3h1.4v1.4h-1.4zM166.9 266.8h1.4v1.4h-1.4zM161.2 274.4h1.4v1.4h-1.4zM156.3 274.8h1.4v1.4h-1.4zM166.7 269.8h1.4v1.4h-1.4zM159.7 273.3h1.4v1.4h-1.4zM166.8 280.3h1.4v1.4h-1.4zM155.4 270.0h1.4v1.4h-1.4zM164.6 269.0h1.4v1.4h-1.4zM166.6 273.8h1.4v1.4h-1.4zM143.6 270.1h1.4v1.4h-1.4zM166.1 279.7h1.4v1.4h-1.4zM159.2 276.1h1.4v1.4h-1.4zM173.0 271.9h1.4v1.4h-1.4zM173.2 274.2h1.4v1.4h-1.4zM178.3 260.2h1.4v1.4h-1.4zM156.3 280.4h1.4v1.4h-1.4zM166.6 268.2h1.4v1.4h-1.4zM167.8 275.1h1.4v1.4h-1.4zM166.2 266.9h1.4v1.4h-1.4zM153.5 273.6h1.4v1.4h-1.4zM158.9 280.7h1.4v1.4h-1.4zM173.3 271.3h1.4v1.4h-1.4zM172.0 269.0h1.4v1.4h-1.4zM176.8 265.5h1.4v1.4h-1.4zM168.5 268.3h1.4v1.4h-1.4zM166.7 275.5h1.4v1.4h-1.4zM170.9 269.5h1.4v1.4h-1.4zM166.2 261.3h1.4v1.4h-1.4zM167.1 273.1h1.4v1.4h-1.4zM150.9 274.6h1.4v1.4h-1.4zM164.5 269.2h1.4v1.4h-1.4zM160.1 264.3h1.4v1.4h-1.4zM168.5 279.2h1.4v1.4h-1.4zM155.0 270.1h1.4v1.4h-1.4zM176.0 264.1h1.4v1.4h-1.4zM146.9 273.9h1.4v1.4h-1.4zM158.9 262.6h1.4v1.4h-1.4zM171.6 264.8h1.4v1.4h-1.4zM176.5 264.1h1.4v1.4h-1.4zM167.4 268.4h1.4v1.4h-1.4zM167.3 276.7h1.4v1.4h-1.4zM150.3 273.1h1.4v1.4h-1.4zM167.4 279.2h1.4v1.4h-1.4zM169.1 270.9h1.4v1.4h-1.4zM171.5 270.7h1.4v1.4h-1.4zM151.3 270.0h1.4v1.4h-1.4zM160.4 275.5h1.4v1.4h-1.4zM172.2 264.0h1.4v1.4h-1.4zM175.2 269.4h1.4v1.4h-1.4zM163.4 257.2h1.4v1.4h-1.4zM164.8 269.1h1.4v1.4h-1.4zM160.4 266.7h1.4v1.4h-1.4zM163.8 276.8h1.4v1.4h-1.4zM148.1 274.7h1.4v1.4h-1.4zM166.2 274.9h1.4v1.4h-1.4zM165.8 261.6h1.4v1.4h-1.4zM157.7 276.5h1.4v1.4h-1.4zM160.8 279.7h1.4v1.4h-1.4zM156.4 265.8h1.4v1.4h-1.4zM176.8 264.3h1.4v1.4h-1.4zM173.2 270.6h1.4v1.4h-1.4zM157.7 265.3h1.4v1.4h-1.4zM178.5 266.5h1.4v1.4h-1.4zM164.6 276.1h1.4v1.4h-1.4zM170.7 273.9h1.4v1.4h-1.4zM165.1 277.2h1.4v1.4h-1.4zM173.0 273.3h1.4v1.4h-1.4zM171.3 267.0h1.4v1.4h-1.4zM164.4 274.7h1.4v1.4h-1.4zM153.6 264.8h1.4v1.4h-1.4zM159.0 259.9h1.4v1.4h-1.4zM151.7 259.5h1.4v1.4h-1.4zM156.4 277.2h1.4v1.4h-1.4zM157.2 268.1h1.4v1.4h-1.4zM173.9 279.3h1.4v1.4h-1.4zM158.5 272.7h1.4v1.4h-1.4zM166.1 276.0h1.4v1.4h-1.4zM176.5 276.9h1.4v1.4h-1.4zM150.1 271.7h1.4v1.4h-1.4zM170.3 271.6h1.4v1.4h-1.4zM157.5 279.5h1.4v1.4h-1.4zM163.0 277.3h1.4v1.4h-1.4zM150.5 264.9h1.4v1.4h-1.4zM165.1 273.3h1.4v1.4h-1.4zM163.4 263.6h1.4v1.4h-1.4zM162.2 278.2h1.4v1.4h-1.4zM163.0 279.4h1.4v1.4h-1.4zM152.6 277.4h1.4v1.4h-1.4zM169.1 278.6h1.4v1.4h-1.4zM167.5 270.1h1.4v1.4h-1.4zM167.4 264.1h1.4v1.4h-1.4zM162.1 268.2h1.4v1.4h-1.4zM158.7 270.2h1.4v1.4h-1.4zM152.9 265.7h1.4v1.4h-1.4zM151.3 267.8h1.4v1.4h-1.4zM165.6 267.3h1.4v1.4h-1.4zM162.8 266.3h1.4v1.4h-1.4zM158.2 267.5h1.4v1.4h-1.4zM162.7 267.6h1.4v1.4h-1.4zM157.2 260.9h1.4v1.4h-1.4zM153.1 275.9h1.4v1.4h-1.4zM178.0 270.6h1.4v1.4h-1.4zM173.8 272.4h1.4v1.4h-1.4zM172.0 277.6h1.4v1.4h-1.4zM181.6 268.1h1.4v1.4h-1.4zM169.3 272.5h1.4v1.4h-1.4zM174.4 256.7h1.4v1.4h-1.4zM172.0 273.6h1.4v1.4h-1.4zM163.7 265.9h1.4v1.4h-1.4zM162.9 265.4h1.4v1.4h-1.4zM152.1 259.1h1.4v1.4h-1.4zM146.9 272.6h1.4v1.4h-1.4zM153.2 274.4h1.4v1.4h-1.4zM162.8 266.6h1.4v1.4h-1.4zM149.5 265.7h1.4v1.4h-1.4zM160.6 268.7h1.4v1.4h-1.4zM183.8 260.9h1.4v1.4h-1.4zM165.6 268.2h1.4v1.4h-1.4zM159.1 279.4h1.4v1.4h-1.4zM163.7 265.4h1.4v1.4h-1.4zM142.8 280.0h1.4v1.4h-1.4zM168.5 270.8h1.4v1.4h-1.4zM143.4 268.7h1.4v1.4h-1.4zM142.6 272.7h1.4v1.4h-1.4zM163.6 268.8h1.4v1.4h-1.4zM160.4 278.7h1.4v1.4h-1.4zM147.9 256.8h1.4v1.4h-1.4zM163.7 273.6h1.4v1.4h-1.4zM160.4 279.5h1.4v1.4h-1.4zM166.5 269.9h1.4v1.4h-1.4zM188.1 266.5h1.4v1.4h-1.4zM160.2 268.9h1.4v1.4h-1.4zM161.9 267.2h1.4v1.4h-1.4zM159.6 278.7h1.4v1.4h-1.4zM168.1 275.0h1.4v1.4h-1.4zM170.5 262.3h1.4v1.4h-1.4zM153.6 255.6h1.4v1.4h-1.4zM164.8 257.7h1.4v1.4h-1.4zM150.6 265.3h1.4v1.4h-1.4zM170.5 279.6h1.4v1.4h-1.4zM173.2 275.6h1.4v1.4h-1.4zM163.2 272.3h1.4v1.4h-1.4zM175.0 270.1h1.4v1.4h-1.4zM162.4 277.4h1.4v1.4h-1.4zM147.0 271.3h1.4v1.4h-1.4zM166.3 275.6h1.4v1.4h-1.4zM150.1 267.3h1.4v1.4h-1.4zM155.5 273.7h1.4v1.4h-1.4zM152.6 276.2h1.4v1.4h-1.4zM150.8 267.1h1.4v1.4h-1.4zM170.2 268.3h1.4v1.4h-1.4zM180.2 263.9h1.4v1.4h-1.4zM156.3 261.7h1.4v1.4h-1.4zM174.0 279.6h1.4v1.4h-1.4zM170.2 273.2h1.4v1.4h-1.4zM150.0 272.4h1.4v1.4h-1.4zM142.2 267.7h1.4v1.4h-1.4zM159.2 278.4h1.4v1.4h-1.4zM154.5 274.2h1.4v1.4h-1.4zM143.0 270.5h1.4v1.4h-1.4zM159.8 268.2h1.4v1.4h-1.4zM156.5 269.4h1.4v1.4h-1.4zM162.5 272.1h1.4v1.4h-1.4zM170.4 269.2h1.4v1.4h-1.4zM178.7 278.1h1.4v1.4h-1.4zM158.1 261.0h1.4v1.4h-1.4zM175.2 275.2h1.4v1.4h-1.4zM179.5 256.7h1.4v1.4h-1.4zM168.4 256.4h1.4v1.4h-1.4zM147.7 273.2h1.4v1.4h-1.4zM158.6 266.6h1.4v1.4h-1.4zM148.8 266.4h1.4v1.4h-1.4zM146.0 277.3h1.4v1.4h-1.4zM187.9 260.4h1.4v1.4h-1.4zM178.2 278.3h1.4v1.4h-1.4zM167.1 273.8h1.4v1.4h-1.4zM154.6 273.8h1.4v1.4h-1.4zM176.0 268.3h1.4v1.4h-1.4zM170.2 274.2h1.4v1.4h-1.4zM150.8 271.6h1.4v1.4h-1.4zM156.3 263.7h1.4v1.4h-1.4zM158.1 278.7h1.4v1.4h-1.4zM145.7 268.3h1.4v1.4h-1.4zM167.8 271.5h1.4v1.4h-1.4zM163.9 267.9h1.4v1.4h-1.4zM160.9 268.5h1.4v1.4h-1.4zM175.0 279.0h1.4v1.4h-1.4zM145.0 276.3h1.4v1.4h-1.4zM168.2 270.1h1.4v1.4h-1.4zM146.0 273.7h1.4v1.4h-1.4zM167.1 277.0h1.4v1.4h-1.4zM163.5 277.2h1.4v1.4h-1.4zM148.5 273.6h1.4v1.4h-1.4zM167.4 267.5h1.4v1.4h-1.4zM161.1 262.5h1.4v1.4h-1.4zM164.4 263.1h1.4v1.4h-1.4zM157.4 268.3h1.4v1.4h-1.4zM162.6 263.8h1.4v1.4h-1.4zM166.0 268.4h1.4v1.4h-1.4zM149.8 267.6h1.4v1.4h-1.4zM158.6 267.3h1.4v1.4h-1.4zM167.5 271.7h1.4v1.4h-1.4zM162.0 269.1h1.4v1.4h-1.4zM159.3 261.5h1.4v1.4h-1.4zM166.8 271.2h1.4v1.4h-1.4zM152.2 266.8h1.4v1.4h-1.4zM153.3 265.0h1.4v1.4h-1.4zM165.1 269.5h1.4v1.4h-1.4zM166.3 276.1h1.4v1.4h-1.4zM150.8 264.3h1.4v1.4h-1.4zM145.0 277.8h1.4v1.4h-1.4zM165.0 280.6h1.4v1.4h-1.4zM144.2 271.7h1.4v1.4h-1.4zM154.7 278.9h1.4v1.4h-1.4zM159.7 264.4h1.4v1.4h-1.4zM162.1 265.1h1.4v1.4h-1.4zM158.2 269.6h1.4v1.4h-1.4zM166.5 268.6h1.4v1.4h-1.4zM166.4 276.8h1.4v1.4h-1.4zM166.2 266.4h1.4v1.4h-1.4zM150.1 268.6h1.4v1.4h-1.4zM142.5 265.2h1.4v1.4h-1.4zM164.5 266.9h1.4v1.4h-1.4zM154.8 268.6h1.4v1.4h-1.4zM172.5 264.9h1.4v1.4h-1.4zM163.1 264.6h1.4v1.4h-1.4zM175.3 270.0h1.4v1.4h-1.4zM156.3 267.5h1.4v1.4h-1.4zM162.3 269.6h1.4v1.4h-1.4zM167.0 278.0h1.4v1.4h-1.4zM161.8 272.2h1.4v1.4h-1.4zM170.9 266.7h1.4v1.4h-1.4zM167.9 272.8h1.4v1.4h-1.4zM177.2 268.3h1.4v1.4h-1.4zM170.8 258.3h1.4v1.4h-1.4zM172.1 263.6h1.4v1.4h-1.4zM170.0 267.2h1.4v1.4h-1.4zM180.5 268.5h1.4v1.4h-1.4zM169.9 274.0h1.4v1.4h-1.4zM170.4 274.6h1.4v1.4h-1.4zM153.8 268.8h1.4v1.4h-1.4zM156.4 274.1h1.4v1.4h-1.4zM171.1 265.6h1.4v1.4h-1.4zM159.9 278.6h1.4v1.4h-1.4zM157.3 276.4h1.4v1.4h-1.4zM152.9 273.3h1.4v1.4h-1.4zM156.4 263.6h1.4v1.4h-1.4zM164.7 273.7h1.4v1.4h-1.4zM171.0 259.0h1.4v1.4h-1.4zM168.2 269.0h1.4v1.4h-1.4zM150.5 277.0h1.4v1.4h-1.4zM152.2 264.7h1.4v1.4h-1.4zM162.2 267.7h1.4v1.4h-1.4zM167.4 271.8h1.4v1.4h-1.4zM161.4 271.5h1.4v1.4h-1.4zM157.3 278.8h1.4v1.4h-1.4zM166.2 275.5h1.4v1.4h-1.4zM148.3 261.3h1.4v1.4h-1.4zM156.7 271.8h1.4v1.4h-1.4zM143.4 271.6h1.4v1.4h-1.4zM155.5 268.2h1.4v1.4h-1.4zM153.5 275.1h1.4v1.4h-1.4zM155.1 268.0h1.4v1.4h-1.4zM170.4 274.7h1.4v1.4h-1.4zM159.9 265.4h1.4v1.4h-1.4zM151.9 274.1h1.4v1.4h-1.4zM160.1 263.5h1.4v1.4h-1.4zM157.3 276.9h1.4v1.4h-1.4zM150.2 263.9h1.4v1.4h-1.4zM155.7 277.3h1.4v1.4h-1.4zM145.2 277.9h1.4v1.4h-1.4zM167.2 274.2h1.4v1.4h-1.4zM157.0 268.7h1.4v1.4h-1.4zM163.3 271.3h1.4v1.4h-1.4zM147.7 271.4h1.4v1.4h-1.4zM151.5 270.2h1.4v1.4h-1.4zM165.8 268.4h1.4v1.4h-1.4zM158.8 279.5h1.4v1.4h-1.4zM154.4 273.0h1.4v1.4h-1.4zM173.9 265.8h1.4v1.4h-1.4zM170.7 272.8h1.4v1.4h-1.4zM161.4 274.0h1.4v1.4h-1.4zM156.5 268.1h1.4v1.4h-1.4zM167.7 262.9h1.4v1.4h-1.4zM170.1 277.1h1.4v1.4h-1.4zM161.8 263.4h1.4v1.4h-1.4zM185.7 268.6h1.4v1.4h-1.4zM164.4 276.7h1.4v1.4h-1.4zM150.0 279.7h1.4v1.4h-1.4zM169.6 277.3h1.4v1.4h-1.4zM149.8 260.2h1.4v1.4h-1.4zM156.6 264.8h1.4v1.4h-1.4zM161.5 279.8h1.4v1.4h-1.4zM176.4 269.7h1.4v1.4h-1.4zM158.0 276.5h1.4v1.4h-1.4zM153.6 264.6h1.4v1.4h-1.4zM157.1 264.1h1.4v1.4h-1.4zM167.1 273.5h1.4v1.4h-1.4zM136.2 280.0h1.4v1.4h-1.4zM184.1 277.3h1.4v1.4h-1.4zM136.2 271.4h1.4v1.4h-1.4zM185.1 277.3h1.4v1.4h-1.4zM141.2 268.6h1.4v1.4h-1.4zM156.3 271.6h1.4v1.4h-1.4zM167.0 254.0h1.4v1.4h-1.4zM167.7 275.6h1.4v1.4h-1.4zM158.1 251.5h1.4v1.4h-1.4zM165.4 279.1h1.4v1.4h-1.4zM147.0 259.0h1.4v1.4h-1.4zM140.1 252.5h1.4v1.4h-1.4zM156.5 278.4h1.4v1.4h-1.4zM182.5 275.3h1.4v1.4h-1.4zM166.7 278.0h1.4v1.4h-1.4zM141.2 262.4h1.4v1.4h-1.4zM167.3 262.2h1.4v1.4h-1.4zM152.6 274.7h1.4v1.4h-1.4zM178.3 275.8h1.4v1.4h-1.4zM163.5 261.4h1.4v1.4h-1.4zM173.0 269.5h1.4v1.4h-1.4zM166.8 280.0h1.4v1.4h-1.4zM136.7 256.6h1.4v1.4h-1.4zM146.4 280.1h1.4v1.4h-1.4zM188.9 256.4h1.4v1.4h-1.4zM187.2 258.9h1.4v1.4h-1.4zM190.7 255.8h1.4v1.4h-1.4zM190.5 257.8h1.4v1.4h-1.4zM190.1 256.8h1.4v1.4h-1.4zM185.8 257.5h1.4v1.4h-1.4zM184.5 258.1h1.4v1.4h-1.4zM188.3 257.5h1.4v1.4h-1.4zM183.7 258.2h1.4v1.4h-1.4zM188.7 256.9h1.4v1.4h-1.4zM191.0 258.3h1.4v1.4h-1.4zM186.7 255.9h1.4v1.4h-1.4zM241.5 217.7h1.4v1.4h-1.4zM227.9 224.2h1.4v1.4h-1.4zM239.1 219.7h1.4v1.4h-1.4zM245.6 223.4h1.4v1.4h-1.4zM244.6 224.4h1.4v1.4h-1.4zM231.7 220.3h1.4v1.4h-1.4zM245.1 221.0h1.4v1.4h-1.4zM244.8 219.4h1.4v1.4h-1.4zM241.8 220.6h1.4v1.4h-1.4zM225.6 227.9h1.4v1.4h-1.4zM250.4 222.3h1.4v1.4h-1.4zM251.4 227.1h1.4v1.4h-1.4zM248.6 223.5h1.4v1.4h-1.4zM241.3 226.5h1.4v1.4h-1.4zM245.4 223.2h1.4v1.4h-1.4zM268.5 218.2h1.4v1.4h-1.4zM248.3 220.4h1.4v1.4h-1.4zM237.1 225.8h1.4v1.4h-1.4zM230.2 218.4h1.4v1.4h-1.4zM233.2 219.6h1.4v1.4h-1.4zM231.2 220.4h1.4v1.4h-1.4zM245.1 220.1h1.4v1.4h-1.4zM241.9 224.0h1.4v1.4h-1.4zM233.4 218.7h1.4v1.4h-1.4zM227.5 227.1h1.4v1.4h-1.4zM228.2 225.4h1.4v1.4h-1.4zM230.3 223.6h1.4v1.4h-1.4zM226.9 220.5h1.4v1.4h-1.4zM234.5 225.3h1.4v1.4h-1.4zM246.7 221.1h1.4v1.4h-1.4zM234.7 221.5h1.4v1.4h-1.4zM230.8 228.2h1.4v1.4h-1.4zM257.6 221.4h1.4v1.4h-1.4zM251.4 222.7h1.4v1.4h-1.4zM224.6 218.9h1.4v1.4h-1.4zM246.5 221.6h1.4v1.4h-1.4zM242.4 227.2h1.4v1.4h-1.4zM250.7 227.0h1.4v1.4h-1.4zM222.1 231.1h1.4v1.4h-1.4zM228.2 223.7h1.4v1.4h-1.4zM263.0 223.1h1.4v1.4h-1.4zM226.4 223.7h1.4v1.4h-1.4zM235.8 223.7h1.4v1.4h-1.4zM230.4 223.5h1.4v1.4h-1.4zM230.5 218.4h1.4v1.4h-1.4zM236.8 218.6h1.4v1.4h-1.4zM221.6 221.5h1.4v1.4h-1.4zM244.2 221.3h1.4v1.4h-1.4zM228.1 219.0h1.4v1.4h-1.4zM230.5 221.8h1.4v1.4h-1.4zM233.9 224.0h1.4v1.4h-1.4zM236.5 218.8h1.4v1.4h-1.4zM226.6 224.9h1.4v1.4h-1.4zM238.6 219.5h1.4v1.4h-1.4zM236.6 225.9h1.4v1.4h-1.4zM235.8 223.5h1.4v1.4h-1.4zM230.5 227.7h1.4v1.4h-1.4zM230.5 227.4h1.4v1.4h-1.4zM227.4 225.0h1.4v1.4h-1.4zM232.6 227.1h1.4v1.4h-1.4zM230.1 218.5h1.4v1.4h-1.4zM239.4 224.4h1.4v1.4h-1.4zM251.8 229.8h1.4v1.4h-1.4zM241.4 223.9h1.4v1.4h-1.4zM220.1 224.5h1.4v1.4h-1.4zM246.3 222.0h1.4v1.4h-1.4zM259.3 220.1h1.4v1.4h-1.4zM234.1 220.1h1.4v1.4h-1.4zM237.2 223.7h1.4v1.4h-1.4zM218.3 225.0h1.4v1.4h-1.4zM228.8 217.9h1.4v1.4h-1.4zM234.5 229.8h1.4v1.4h-1.4zM238.3 222.1h1.4v1.4h-1.4zM246.4 220.3h1.4v1.4h-1.4zM235.5 224.8h1.4v1.4h-1.4zM247.7 225.0h1.4v1.4h-1.4zM238.3 218.5h1.4v1.4h-1.4zM229.6 220.0h1.4v1.4h-1.4zM220.4 219.8h1.4v1.4h-1.4zM228.1 220.8h1.4v1.4h-1.4zM232.2 223.6h1.4v1.4h-1.4zM247.9 219.9h1.4v1.4h-1.4zM272.9 224.2h1.4v1.4h-1.4zM241.9 222.5h1.4v1.4h-1.4zM251.5 220.6h1.4v1.4h-1.4zM234.8 229.7h1.4v1.4h-1.4zM233.0 222.9h1.4v1.4h-1.4zM229.3 223.7h1.4v1.4h-1.4zM230.5 224.0h1.4v1.4h-1.4zM229.6 220.1h1.4v1.4h-1.4zM254.1 221.4h1.4v1.4h-1.4zM228.2 223.8h1.4v1.4h-1.4zM227.5 224.8h1.4v1.4h-1.4zM227.6 223.5h1.4v1.4h-1.4zM229.4 220.7h1.4v1.4h-1.4zM234.2 228.7h1.4v1.4h-1.4zM237.8 233.0h1.4v1.4h-1.4zM234.0 224.8h1.4v1.4h-1.4zM250.9 224.2h1.4v1.4h-1.4zM241.6 220.2h1.4v1.4h-1.4zM244.8 221.7h1.4v1.4h-1.4zM248.2 223.1h1.4v1.4h-1.4zM228.4 222.2h1.4v1.4h-1.4zM242.7 221.7h1.4v1.4h-1.4zM245.1 227.8h1.4v1.4h-1.4zM252.0 226.4h1.4v1.4h-1.4zM230.2 218.4h1.4v1.4h-1.4zM227.3 225.1h1.4v1.4h-1.4zM238.1 226.4h1.4v1.4h-1.4zM250.8 221.0h1.4v1.4h-1.4zM242.5 218.1h1.4v1.4h-1.4zM229.4 221.6h1.4v1.4h-1.4zM248.6 222.5h1.4v1.4h-1.4zM222.7 226.9h1.4v1.4h-1.4zM260.0 221.8h1.4v1.4h-1.4zM245.9 220.7h1.4v1.4h-1.4zM264.6 220.5h1.4v1.4h-1.4zM246.7 224.0h1.4v1.4h-1.4zM224.7 217.9h1.4v1.4h-1.4zM231.3 223.2h1.4v1.4h-1.4zM256.0 230.9h1.4v1.4h-1.4zM225.9 223.7h1.4v1.4h-1.4zM263.4 222.6h1.4v1.4h-1.4zM220.6 222.3h1.4v1.4h-1.4zM236.5 221.4h1.4v1.4h-1.4zM242.9 226.3h1.4v1.4h-1.4zM241.1 224.2h1.4v1.4h-1.4zM238.3 218.6h1.4v1.4h-1.4zM267.7 228.0h1.4v1.4h-1.4zM227.6 221.3h1.4v1.4h-1.4zM252.1 225.5h1.4v1.4h-1.4zM256.1 223.2h1.4v1.4h-1.4zM252.3 220.1h1.4v1.4h-1.4zM229.7 218.8h1.4v1.4h-1.4zM232.3 219.6h1.4v1.4h-1.4zM236.8 222.9h1.4v1.4h-1.4zM234.2 219.4h1.4v1.4h-1.4zM231.7 219.6h1.4v1.4h-1.4zM241.2 221.3h1.4v1.4h-1.4zM232.8 221.5h1.4v1.4h-1.4zM252.7 223.4h1.4v1.4h-1.4zM233.4 226.0h1.4v1.4h-1.4zM245.7 219.9h1.4v1.4h-1.4zM250.5 219.7h1.4v1.4h-1.4zM259.1 222.5h1.4v1.4h-1.4zM239.1 220.7h1.4v1.4h-1.4zM241.4 218.1h1.4v1.4h-1.4zM239.8 219.0h1.4v1.4h-1.4zM244.4 220.2h1.4v1.4h-1.4zM228.6 223.5h1.4v1.4h-1.4zM240.8 224.3h1.4v1.4h-1.4zM221.4 222.8h1.4v1.4h-1.4zM224.1 218.7h1.4v1.4h-1.4zM237.4 221.7h1.4v1.4h-1.4zM222.4 218.8h1.4v1.4h-1.4zM260.3 226.3h1.4v1.4h-1.4zM237.1 219.0h1.4v1.4h-1.4zM227.6 223.3h1.4v1.4h-1.4zM230.6 220.5h1.4v1.4h-1.4zM239.7 218.7h1.4v1.4h-1.4zM224.0 223.7h1.4v1.4h-1.4zM252.4 219.7h1.4v1.4h-1.4zM229.7 219.3h1.4v1.4h-1.4zM235.2 219.1h1.4v1.4h-1.4zM244.6 229.5h1.4v1.4h-1.4zM239.6 219.5h1.4v1.4h-1.4zM227.1 223.1h1.4v1.4h-1.4zM246.7 224.1h1.4v1.4h-1.4zM242.3 220.6h1.4v1.4h-1.4zM230.3 224.5h1.4v1.4h-1.4zM247.0 219.5h1.4v1.4h-1.4zM237.6 226.7h1.4v1.4h-1.4zM249.6 223.8h1.4v1.4h-1.4zM229.0 219.6h1.4v1.4h-1.4zM231.0 223.6h1.4v1.4h-1.4zM253.5 223.8h1.4v1.4h-1.4zM243.2 219.6h1.4v1.4h-1.4zM231.5 218.2h1.4v1.4h-1.4zM247.5 223.9h1.4v1.4h-1.4zM255.0 222.6h1.4v1.4h-1.4zM226.9 221.5h1.4v1.4h-1.4zM244.0 227.5h1.4v1.4h-1.4zM225.1 229.0h1.4v1.4h-1.4zM232.5 224.9h1.4v1.4h-1.4zM219.4 223.0h1.4v1.4h-1.4zM237.0 225.7h1.4v1.4h-1.4zM249.9 222.5h1.4v1.4h-1.4zM257.4 219.8h1.4v1.4h-1.4zM245.9 224.6h1.4v1.4h-1.4zM261.2 223.0h1.4v1.4h-1.4zM241.5 222.5h1.4v1.4h-1.4zM232.5 217.8h1.4v1.4h-1.4zM241.0 219.5h1.4v1.4h-1.4zM241.7 222.6h1.4v1.4h-1.4zM241.2 230.4h1.4v1.4h-1.4zM249.0 223.9h1.4v1.4h-1.4zM230.3 231.2h1.4v1.4h-1.4zM252.8 222.0h1.4v1.4h-1.4zM252.6 219.6h1.4v1.4h-1.4zM237.7 225.1h1.4v1.4h-1.4zM231.7 218.4h1.4v1.4h-1.4zM228.5 218.0h1.4v1.4h-1.4zM246.7 220.5h1.4v1.4h-1.4zM244.3 218.6h1.4v1.4h-1.4zM231.9 217.7h1.4v1.4h-1.4zM242.1 231.9h1.4v1.4h-1.4zM235.1 229.5h1.4v1.4h-1.4zM253.6 228.1h1.4v1.4h-1.4zM227.5 221.0h1.4v1.4h-1.4zM235.9 222.2h1.4v1.4h-1.4zM244.2 221.8h1.4v1.4h-1.4zM253.9 223.6h1.4v1.4h-1.4zM250.9 220.7h1.4v1.4h-1.4zM244.1 219.4h1.4v1.4h-1.4zM230.7 222.3h1.4v1.4h-1.4zM254.3 220.1h1.4v1.4h-1.4zM238.7 218.7h1.4v1.4h-1.4zM241.9 220.8h1.4v1.4h-1.4zM257.8 222.5h1.4v1.4h-1.4zM229.9 225.6h1.4v1.4h-1.4zM260.2 219.0h1.4v1.4h-1.4zM245.3 219.5h1.4v1.4h-1.4zM249.0 231.8h1.4v1.4h-1.4zM242.9 219.3h1.4v1.4h-1.4zM256.0 224.3h1.4v1.4h-1.4zM229.2 220.9h1.4v1.4h-1.4zM250.3 233.6h1.4v1.4h-1.4zM257.9 221.3h1.4v1.4h-1.4zM237.5 220.8h1.4v1.4h-1.4zM241.1 219.2h1.4v1.4h-1.4zM231.4 227.5h1.4v1.4h-1.4zM244.1 222.3h1.4v1.4h-1.4zM242.6 225.3h1.4v1.4h-1.4zM239.7 221.2h1.4v1.4h-1.4zM251.5 224.9h1.4v1.4h-1.4zM233.9 222.1h1.4v1.4h-1.4zM241.1 219.1h1.4v1.4h-1.4zM236.1 227.2h1.4v1.4h-1.4zM236.9 223.6h1.4v1.4h-1.4zM227.3 218.7h1.4v1.4h-1.4zM218.6 219.9h1.4v1.4h-1.4zM246.9 223.7h1.4v1.4h-1.4zM236.2 217.9h1.4v1.4h-1.4zM249.8 227.0h1.4v1.4h-1.4zM220.0 224.1h1.4v1.4h-1.4zM234.2 224.4h1.4v1.4h-1.4zM243.8 219.4h1.4v1.4h-1.4zM249.4 224.2h1.4v1.4h-1.4zM234.4 219.6h1.4v1.4h-1.4zM252.3 227.0h1.4v1.4h-1.4zM247.5 224.6h1.4v1.4h-1.4zM244.7 218.6h1.4v1.4h-1.4zM219.0 222.9h1.4v1.4h-1.4zM236.3 234.6h1.4v1.4h-1.4zM239.8 226.1h1.4v1.4h-1.4zM231.4 223.3h1.4v1.4h-1.4zM249.2 220.4h1.4v1.4h-1.4zM226.9 220.4h1.4v1.4h-1.4zM229.2 231.5h1.4v1.4h-1.4zM228.8 223.4h1.4v1.4h-1.4zM227.7 236.5h1.4v1.4h-1.4zM218.8 226.6h1.4v1.4h-1.4zM228.7 240.2h1.4v1.4h-1.4zM220.0 233.0h1.4v1.4h-1.4zM222.2 238.5h1.4v1.4h-1.4zM239.8 231.5h1.4v1.4h-1.4zM237.8 238.0h1.4v1.4h-1.4zM229.4 239.8h1.4v1.4h-1.4zM221.6 234.8h1.4v1.4h-1.4zM224.9 219.0h1.4v1.4h-1.4zM221.1 225.9h1.4v1.4h-1.4zM232.8 221.0h1.4v1.4h-1.4zM240.7 227.1h1.4v1.4h-1.4zM241.8 227.1h1.4v1.4h-1.4zM255.7 236.1h1.4v1.4h-1.4zM254.5 235.8h1.4v1.4h-1.4zM244.7 227.0h1.4v1.4h-1.4zM262.3 232.3h1.4v1.4h-1.4zM229.8 219.8h1.4v1.4h-1.4zM234.3 228.8h1.4v1.4h-1.4zM228.6 233.4h1.4v1.4h-1.4zM220.4 222.5h1.4v1.4h-1.4zM220.5 229.8h1.4v1.4h-1.4zM273.3 237.8h1.4v1.4h-1.4zM252.9 236.0h1.4v1.4h-1.4zM250.3 229.2h1.4v1.4h-1.4zM219.6 239.2h1.4v1.4h-1.4zM246.7 237.5h1.4v1.4h-1.4zM242.0 227.1h1.4v1.4h-1.4zM248.7 233.5h1.4v1.4h-1.4zM230.1 222.6h1.4v1.4h-1.4zM238.4 221.8h1.4v1.4h-1.4zM239.4 238.4h1.4v1.4h-1.4zM218.9 219.8h1.4v1.4h-1.4zM220.2 236.7h1.4v1.4h-1.4zM249.6 221.5h1.4v1.4h-1.4zM257.9 229.7h1.4v1.4h-1.4zM260.2 220.3h1.4v1.4h-1.4zM219.8 240.0h1.4v1.4h-1.4zM229.4 218.8h1.4v1.4h-1.4zM255.1 227.8h1.4v1.4h-1.4zM223.9 240.3h1.4v1.4h-1.4zM229.3 220.4h1.4v1.4h-1.4zM235.8 267.5h1.4v1.4h-1.4zM248.9 234.6h1.4v1.4h-1.4zM246.2 243.0h1.4v1.4h-1.4zM248.9 259.8h1.4v1.4h-1.4zM233.2 273.5h1.4v1.4h-1.4zM255.0 253.9h1.4v1.4h-1.4zM239.8 278.7h1.4v1.4h-1.4zM236.8 264.7h1.4v1.4h-1.4zM233.6 279.3h1.4v1.4h-1.4zM223.1 272.5h1.4v1.4h-1.4zM248.9 270.9h1.4v1.4h-1.4zM240.8 276.9h1.4v1.4h-1.4zM243.1 260.6h1.4v1.4h-1.4zM222.6 272.9h1.4v1.4h-1.4zM244.9 265.6h1.4v1.4h-1.4zM235.3 256.2h1.4v1.4h-1.4zM224.0 260.0h1.4v1.4h-1.4zM253.3 267.3h1.4v1.4h-1.4zM236.7 254.9h1.4v1.4h-1.4zM255.8 249.2h1.4v1.4h-1.4zM246.6 255.4h1.4v1.4h-1.4zM259.7 250.7h1.4v1.4h-1.4zM242.1 255.8h1.4v1.4h-1.4zM231.8 272.6h1.4v1.4h-1.4zM222.8 276.9h1.4v1.4h-1.4zM235.4 268.4h1.4v1.4h-1.4zM247.4 273.4h1.4v1.4h-1.4zM254.8 269.0h1.4v1.4h-1.4zM229.5 277.7h1.4v1.4h-1.4zM244.0 267.6h1.4v1.4h-1.4zM248.7 273.4h1.4v1.4h-1.4zM248.1 260.6h1.4v1.4h-1.4zM234.9 266.8h1.4v1.4h-1.4zM234.1 276.0h1.4v1.4h-1.4zM231.9 270.7h1.4v1.4h-1.4zM219.0 251.2h1.4v1.4h-1.4zM234.6 263.3h1.4v1.4h-1.4zM242.5 257.3h1.4v1.4h-1.4zM246.7 268.8h1.4v1.4h-1.4zM245.2 254.3h1.4v1.4h-1.4zM237.7 258.8h1.4v1.4h-1.4zM244.2 266.0h1.4v1.4h-1.4zM244.4 264.5h1.4v1.4h-1.4zM223.8 273.9h1.4v1.4h-1.4zM239.4 257.1h1.4v1.4h-1.4zM248.5 261.9h1.4v1.4h-1.4zM251.2 254.2h1.4v1.4h-1.4zM228.9 262.1h1.4v1.4h-1.4zM225.5 264.9h1.4v1.4h-1.4zM241.0 277.0h1.4v1.4h-1.4zM259.1 254.0h1.4v1.4h-1.4zM251.8 257.1h1.4v1.4h-1.4zM237.3 268.4h1.4v1.4h-1.4zM233.8 258.7h1.4v1.4h-1.4zM223.3 274.9h1.4v1.4h-1.4zM226.7 260.9h1.4v1.4h-1.4zM233.3 258.7h1.4v1.4h-1.4zM228.4 254.6h1.4v1.4h-1.4zM239.2 274.2h1.4v1.4h-1.4zM225.3 275.8h1.4v1.4h-1.4zM231.2 275.4h1.4v1.4h-1.4zM240.0 259.7h1.4v1.4h-1.4zM228.2 269.2h1.4v1.4h-1.4zM257.8 256.7h1.4v1.4h-1.4zM220.4 260.8h1.4v1.4h-1.4zM252.8 257.4h1.4v1.4h-1.4zM249.9 264.5h1.4v1.4h-1.4zM253.0 246.0h1.4v1.4h-1.4zM244.5 259.3h1.4v1.4h-1.4zM242.6 268.9h1.4v1.4h-1.4zM222.7 273.8h1.4v1.4h-1.4zM248.5 243.4h1.4v1.4h-1.4zM223.7 259.4h1.4v1.4h-1.4zM249.5 274.8h1.4v1.4h-1.4zM244.4 250.9h1.4v1.4h-1.4zM242.1 273.5h1.4v1.4h-1.4zM242.3 252.6h1.4v1.4h-1.4zM246.9 263.3h1.4v1.4h-1.4zM254.7 243.3h1.4v1.4h-1.4zM220.0 258.4h1.4v1.4h-1.4zM241.5 279.1h1.4v1.4h-1.4zM247.3 270.9h1.4v1.4h-1.4zM224.4 262.4h1.4v1.4h-1.4zM238.0 270.5h1.4v1.4h-1.4zM248.9 255.4h1.4v1.4h-1.4zM226.8 268.7h1.4v1.4h-1.4zM219.2 265.7h1.4v1.4h-1.4zM242.2 275.4h1.4v1.4h-1.4zM233.1 269.4h1.4v1.4h-1.4zM232.2 255.7h1.4v1.4h-1.4zM250.0 248.7h1.4v1.4h-1.4zM245.3 260.5h1.4v1.4h-1.4zM241.1 255.5h1.4v1.4h-1.4zM250.8 271.8h1.4v1.4h-1.4zM237.4 280.5h1.4v1.4h-1.4zM244.1 265.1h1.4v1.4h-1.4zM237.6 251.5h1.4v1.4h-1.4zM261.1 237.2h1.4v1.4h-1.4zM252.9 248.7h1.4v1.4h-1.4zM227.0 270.6h1.4v1.4h-1.4zM222.7 255.6h1.4v1.4h-1.4zM253.3 262.5h1.4v1.4h-1.4zM256.9 260.4h1.4v1.4h-1.4zM262.1 251.5h1.4v1.4h-1.4zM255.3 259.5h1.4v1.4h-1.4zM234.3 264.5h1.4v1.4h-1.4zM241.2 270.6h1.4v1.4h-1.4zM260.3 236.6h1.4v1.4h-1.4zM252.0 255.7h1.4v1.4h-1.4zM242.2 260.9h1.4v1.4h-1.4zM252.4 237.5h1.4v1.4h-1.4zM242.5 261.3h1.4v1.4h-1.4zM234.1 273.5h1.4v1.4h-1.4zM242.5 256.6h1.4v1.4h-1.4zM243.3 279.8h1.4v1.4h-1.4zM226.5 277.6h1.4v1.4h-1.4zM239.7 257.8h1.4v1.4h-1.4zM244.6 250.4h1.4v1.4h-1.4zM250.3 254.8h1.4v1.4h-1.4zM268.7 240.9h1.4v1.4h-1.4zM233.0 268.1h1.4v1.4h-1.4zM251.9 267.7h1.4v1.4h-1.4zM237.8 266.8h1.4v1.4h-1.4zM236.0 270.9h1.4v1.4h-1.4zM222.5 258.6h1.4v1.4h-1.4zM247.0 272.0h1.4v1.4h-1.4zM221.2 249.9h1.4v1.4h-1.4zM249.7 261.0h1.4v1.4h-1.4zM243.9 265.1h1.4v1.4h-1.4zM255.6 245.5h1.4v1.4h-1.4zM242.6 275.3h1.4v1.4h-1.4zM240.9 269.7h1.4v1.4h-1.4zM226.9 254.5h1.4v1.4h-1.4zM241.6 264.8h1.4v1.4h-1.4zM234.2 259.0h1.4v1.4h-1.4zM227.8 272.2h1.4v1.4h-1.4zM243.0 266.0h1.4v1.4h-1.4zM263.0 256.9h1.4v1.4h-1.4zM228.2 270.9h1.4v1.4h-1.4zM245.7 262.7h1.4v1.4h-1.4zM242.6 254.0h1.4v1.4h-1.4zM246.0 260.3h1.4v1.4h-1.4zM256.5 254.4h1.4v1.4h-1.4zM240.7 253.1h1.4v1.4h-1.4zM234.8 261.1h1.4v1.4h-1.4zM255.0 267.7h1.4v1.4h-1.4zM249.5 250.1h1.4v1.4h-1.4zM233.1 252.4h1.4v1.4h-1.4zM250.4 263.7h1.4v1.4h-1.4zM229.8 267.3h1.4v1.4h-1.4zM237.7 274.9h1.4v1.4h-1.4zM237.0 277.0h1.4v1.4h-1.4zM227.1 267.0h1.4v1.4h-1.4zM228.1 279.6h1.4v1.4h-1.4zM236.3 254.5h1.4v1.4h-1.4zM230.1 254.5h1.4v1.4h-1.4zM232.0 272.2h1.4v1.4h-1.4zM234.6 257.4h1.4v1.4h-1.4zM246.4 265.6h1.4v1.4h-1.4zM243.0 271.6h1.4v1.4h-1.4zM252.0 254.3h1.4v1.4h-1.4zM251.8 270.3h1.4v1.4h-1.4zM231.4 270.3h1.4v1.4h-1.4zM228.5 261.2h1.4v1.4h-1.4zM246.2 268.0h1.4v1.4h-1.4zM248.6 256.2h1.4v1.4h-1.4zM254.4 253.1h1.4v1.4h-1.4zM222.3 257.7h1.4v1.4h-1.4zM257.5 251.2h1.4v1.4h-1.4zM222.4 265.8h1.4v1.4h-1.4zM226.6 266.5h1.4v1.4h-1.4zM230.9 264.0h1.4v1.4h-1.4zM265.4 251.3h1.4v1.4h-1.4zM228.3 240.7h1.4v1.4h-1.4zM224.7 278.3h1.4v1.4h-1.4zM235.3 262.4h1.4v1.4h-1.4zM226.2 255.9h1.4v1.4h-1.4zM235.1 254.8h1.4v1.4h-1.4zM237.5 255.1h1.4v1.4h-1.4zM230.0 267.5h1.4v1.4h-1.4zM219.9 265.5h1.4v1.4h-1.4zM223.5 250.9h1.4v1.4h-1.4zM228.7 253.8h1.4v1.4h-1.4zM233.0 273.1h1.4v1.4h-1.4zM226.1 267.3h1.4v1.4h-1.4zM234.8 267.7h1.4v1.4h-1.4zM249.6 249.7h1.4v1.4h-1.4zM256.0 254.8h1.4v1.4h-1.4zM239.1 279.0h1.4v1.4h-1.4zM251.9 242.1h1.4v1.4h-1.4zM265.5 253.2h1.4v1.4h-1.4zM237.1 280.4h1.4v1.4h-1.4zM253.4 248.9h1.4v1.4h-1.4zM228.7 251.1h1.4v1.4h-1.4zM237.8 276.3h1.4v1.4h-1.4zM237.0 270.4h1.4v1.4h-1.4zM247.1 249.8h1.4v1.4h-1.4zM225.1 261.1h1.4v1.4h-1.4zM224.3 277.2h1.4v1.4h-1.4zM222.4 259.3h1.4v1.4h-1.4zM244.9 236.9h1.4v1.4h-1.4zM223.9 269.5h1.4v1.4h-1.4zM256.4 264.6h1.4v1.4h-1.4zM229.1 252.2h1.4v1.4h-1.4zM230.4 271.0h1.4v1.4h-1.4zM252.7 252.2h1.4v1.4h-1.4zM236.9 265.9h1.4v1.4h-1.4zM230.0 261.9h1.4v1.4h-1.4zM225.7 279.5h1.4v1.4h-1.4zM254.8 263.5h1.4v1.4h-1.4zM240.2 253.5h1.4v1.4h-1.4zM229.1 266.9h1.4v1.4h-1.4zM249.1 250.3h1.4v1.4h-1.4zM245.7 246.6h1.4v1.4h-1.4zM237.5 275.3h1.4v1.4h-1.4zM263.5 233.8h1.4v1.4h-1.4zM249.2 256.0h1.4v1.4h-1.4zM233.6 272.1h1.4v1.4h-1.4zM236.9 257.4h1.4v1.4h-1.4zM227.2 277.2h1.4v1.4h-1.4zM245.1 259.8h1.4v1.4h-1.4zM245.8 260.3h1.4v1.4h-1.4zM222.8 278.2h1.4v1.4h-1.4zM222.8 257.5h1.4v1.4h-1.4zM251.7 262.9h1.4v1.4h-1.4zM252.9 253.5h1.4v1.4h-1.4zM246.4 245.6h1.4v1.4h-1.4zM221.9 260.8h1.4v1.4h-1.4zM233.4 262.8h1.4v1.4h-1.4zM246.8 249.6h1.4v1.4h-1.4zM234.7 268.4h1.4v1.4h-1.4zM259.1 252.3h1.4v1.4h-1.4zM249.4 273.9h1.4v1.4h-1.4zM238.0 257.2h1.4v1.4h-1.4zM235.7 260.8h1.4v1.4h-1.4zM230.6 255.7h1.4v1.4h-1.4zM234.3 272.4h1.4v1.4h-1.4zM236.2 252.6h1.4v1.4h-1.4zM220.9 258.7h1.4v1.4h-1.4zM242.1 253.4h1.4v1.4h-1.4zM222.7 273.9h1.4v1.4h-1.4zM250.3 250.9h1.4v1.4h-1.4zM244.8 269.7h1.4v1.4h-1.4zM219.6 266.3h1.4v1.4h-1.4zM231.5 266.9h1.4v1.4h-1.4zM246.6 262.2h1.4v1.4h-1.4zM242.8 255.8h1.4v1.4h-1.4zM250.1 256.6h1.4v1.4h-1.4zM229.6 274.3h1.4v1.4h-1.4zM260.7 248.3h1.4v1.4h-1.4zM234.0 268.1h1.4v1.4h-1.4zM227.3 271.0h1.4v1.4h-1.4zM233.2 265.6h1.4v1.4h-1.4zM238.6 260.0h1.4v1.4h-1.4zM225.3 266.0h1.4v1.4h-1.4zM238.4 262.2h1.4v1.4h-1.4zM225.1 275.2h1.4v1.4h-1.4zM246.4 247.8h1.4v1.4h-1.4zM232.0 271.6h1.4v1.4h-1.4zM253.2 261.1h1.4v1.4h-1.4zM246.2 276.0h1.4v1.4h-1.4zM248.5 270.6h1.4v1.4h-1.4zM260.5 248.2h1.4v1.4h-1.4zM246.7 261.6h1.4v1.4h-1.4zM220.4 279.4h1.4v1.4h-1.4zM234.7 259.8h1.4v1.4h-1.4zM249.2 250.0h1.4v1.4h-1.4zM237.6 258.6h1.4v1.4h-1.4zM218.8 260.4h1.4v1.4h-1.4zM242.7 277.9h1.4v1.4h-1.4zM241.7 256.2h1.4v1.4h-1.4zM253.6 253.8h1.4v1.4h-1.4zM250.8 257.0h1.4v1.4h-1.4zM241.7 252.3h1.4v1.4h-1.4zM245.5 272.2h1.4v1.4h-1.4zM226.0 273.3h1.4v1.4h-1.4zM226.0 261.8h1.4v1.4h-1.4zM251.3 254.6h1.4v1.4h-1.4zM248.7 266.9h1.4v1.4h-1.4zM239.7 270.3h1.4v1.4h-1.4zM243.6 242.8h1.4v1.4h-1.4zM249.1 258.7h1.4v1.4h-1.4zM249.6 251.1h1.4v1.4h-1.4zM227.3 272.9h1.4v1.4h-1.4zM225.8 259.9h1.4v1.4h-1.4zM239.0 254.0h1.4v1.4h-1.4zM247.8 253.1h1.4v1.4h-1.4zM254.1 255.0h1.4v1.4h-1.4zM244.0 266.5h1.4v1.4h-1.4zM242.5 266.9h1.4v1.4h-1.4zM226.3 272.1h1.4v1.4h-1.4zM250.4 258.4h1.4v1.4h-1.4zM244.1 255.7h1.4v1.4h-1.4zM246.6 264.7h1.4v1.4h-1.4zM249.0 273.7h1.4v1.4h-1.4zM245.9 279.2h1.4v1.4h-1.4zM243.1 274.6h1.4v1.4h-1.4zM224.5 272.0h1.4v1.4h-1.4zM249.7 267.3h1.4v1.4h-1.4zM256.3 248.9h1.4v1.4h-1.4zM241.4 264.6h1.4v1.4h-1.4zM240.0 252.5h1.4v1.4h-1.4zM230.5 280.1h1.4v1.4h-1.4zM228.1 258.7h1.4v1.4h-1.4zM224.5 275.0h1.4v1.4h-1.4zM234.8 259.0h1.4v1.4h-1.4zM231.8 268.1h1.4v1.4h-1.4zM260.3 246.0h1.4v1.4h-1.4zM237.9 258.4h1.4v1.4h-1.4zM225.6 276.1h1.4v1.4h-1.4zM250.9 250.6h1.4v1.4h-1.4zM263.8 252.3h1.4v1.4h-1.4zM246.1 273.0h1.4v1.4h-1.4zM242.0 274.5h1.4v1.4h-1.4zM236.3 274.5h1.4v1.4h-1.4zM257.4 248.6h1.4v1.4h-1.4zM221.7 268.3h1.4v1.4h-1.4zM249.3 259.2h1.4v1.4h-1.4zM231.9 271.0h1.4v1.4h-1.4zM225.5 260.5h1.4v1.4h-1.4zM223.6 261.9h1.4v1.4h-1.4zM231.2 251.9h1.4v1.4h-1.4zM241.8 261.1h1.4v1.4h-1.4zM240.1 268.3h1.4v1.4h-1.4zM243.7 262.5h1.4v1.4h-1.4zM261.3 257.7h1.4v1.4h-1.4zM253.9 244.4h1.4v1.4h-1.4zM230.0 257.6h1.4v1.4h-1.4zM222.6 265.9h1.4v1.4h-1.4zM242.1 263.8h1.4v1.4h-1.4zM242.0 260.8h1.4v1.4h-1.4zM235.1 259.5h1.4v1.4h-1.4zM250.6 264.5h1.4v1.4h-1.4zM232.4 269.3h1.4v1.4h-1.4zM245.4 253.5h1.4v1.4h-1.4zM254.5 268.4h1.4v1.4h-1.4zM230.8 274.4h1.4v1.4h-1.4zM232.0 265.4h1.4v1.4h-1.4zM233.6 266.1h1.4v1.4h-1.4zM231.7 256.0h1.4v1.4h-1.4zM254.8 245.5h1.4v1.4h-1.4zM248.1 255.8h1.4v1.4h-1.4zM235.3 271.8h1.4v1.4h-1.4zM234.0 263.7h1.4v1.4h-1.4zM219.1 257.5h1.4v1.4h-1.4zM247.7 247.6h1.4v1.4h-1.4zM242.8 262.4h1.4v1.4h-1.4zM244.9 266.7h1.4v1.4h-1.4zM242.3 255.6h1.4v1.4h-1.4zM242.9 259.1h1.4v1.4h-1.4zM237.5 251.8h1.4v1.4h-1.4zM238.2 273.4h1.4v1.4h-1.4zM232.7 260.3h1.4v1.4h-1.4zM222.7 260.3h1.4v1.4h-1.4zM246.3 269.2h1.4v1.4h-1.4zM224.0 266.4h1.4v1.4h-1.4zM228.5 267.8h1.4v1.4h-1.4zM238.7 253.1h1.4v1.4h-1.4zM242.0 260.0h1.4v1.4h-1.4zM229.4 268.3h1.4v1.4h-1.4zM229.5 272.0h1.4v1.4h-1.4zM232.4 266.8h1.4v1.4h-1.4zM242.1 263.2h1.4v1.4h-1.4zM224.8 244.8h1.4v1.4h-1.4zM227.6 266.8h1.4v1.4h-1.4zM234.8 247.0h1.4v1.4h-1.4zM239.1 258.7h1.4v1.4h-1.4zM228.1 248.2h1.4v1.4h-1.4zM266.2 241.0h1.4v1.4h-1.4zM245.4 252.8h1.4v1.4h-1.4zM245.5 273.7h1.4v1.4h-1.4zM237.2 277.5h1.4v1.4h-1.4zM250.3 262.9h1.4v1.4h-1.4zM247.1 265.4h1.4v1.4h-1.4zM240.4 264.7h1.4v1.4h-1.4zM232.6 263.8h1.4v1.4h-1.4zM268.0 243.4h1.4v1.4h-1.4zM243.6 265.8h1.4v1.4h-1.4zM233.7 256.7h1.4v1.4h-1.4zM261.9 254.1h1.4v1.4h-1.4zM235.5 258.1h1.4v1.4h-1.4zM237.2 251.4h1.4v1.4h-1.4zM222.6 261.6h1.4v1.4h-1.4zM241.2 272.3h1.4v1.4h-1.4zM250.8 260.7h1.4v1.4h-1.4zM234.9 265.1h1.4v1.4h-1.4zM245.8 268.6h1.4v1.4h-1.4zM247.7 266.7h1.4v1.4h-1.4zM233.8 256.4h1.4v1.4h-1.4zM243.5 270.6h1.4v1.4h-1.4zM252.6 266.6h1.4v1.4h-1.4zM243.3 262.3h1.4v1.4h-1.4zM234.2 254.9h1.4v1.4h-1.4zM248.7 249.9h1.4v1.4h-1.4zM252.0 269.0h1.4v1.4h-1.4zM222.6 274.8h1.4v1.4h-1.4zM219.8 255.5h1.4v1.4h-1.4zM252.8 257.4h1.4v1.4h-1.4zM224.9 267.1h1.4v1.4h-1.4zM241.3 269.9h1.4v1.4h-1.4zM218.9 270.6h1.4v1.4h-1.4zM240.7 254.6h1.4v1.4h-1.4zM235.6 257.4h1.4v1.4h-1.4zM241.1 257.5h1.4v1.4h-1.4zM241.5 272.5h1.4v1.4h-1.4zM242.8 271.7h1.4v1.4h-1.4zM236.6 255.6h1.4v1.4h-1.4zM255.1 249.3h1.4v1.4h-1.4zM250.5 270.0h1.4v1.4h-1.4zM250.6 256.3h1.4v1.4h-1.4zM241.1 254.0h1.4v1.4h-1.4zM232.0 276.4h1.4v1.4h-1.4zM235.0 256.9h1.4v1.4h-1.4zM228.3 266.3h1.4v1.4h-1.4zM221.4 257.3h1.4v1.4h-1.4zM225.2 274.6h1.4v1.4h-1.4zM234.2 266.1h1.4v1.4h-1.4zM238.3 270.2h1.4v1.4h-1.4zM231.9 277.4h1.4v1.4h-1.4zM251.3 258.4h1.4v1.4h-1.4zM236.3 264.0h1.4v1.4h-1.4zM251.1 260.7h1.4v1.4h-1.4zM226.0 261.7h1.4v1.4h-1.4zM249.6 257.2h1.4v1.4h-1.4zM246.8 262.7h1.4v1.4h-1.4zM260.5 259.4h1.4v1.4h-1.4zM220.8 265.4h1.4v1.4h-1.4zM239.3 259.2h1.4v1.4h-1.4zM228.2 264.5h1.4v1.4h-1.4zM231.8 269.4h1.4v1.4h-1.4zM249.6 259.9h1.4v1.4h-1.4zM249.2 256.5h1.4v1.4h-1.4zM256.4 255.9h1.4v1.4h-1.4zM261.9 245.9h1.4v1.4h-1.4zM223.1 242.4h1.4v1.4h-1.4zM245.1 269.8h1.4v1.4h-1.4zM246.5 261.2h1.4v1.4h-1.4zM222.9 264.9h1.4v1.4h-1.4zM238.2 270.0h1.4v1.4h-1.4zM248.2 260.0h1.4v1.4h-1.4zM242.2 253.2h1.4v1.4h-1.4zM255.1 249.2h1.4v1.4h-1.4zM229.5 263.3h1.4v1.4h-1.4zM246.7 267.9h1.4v1.4h-1.4zM224.3 276.0h1.4v1.4h-1.4zM225.0 272.3h1.4v1.4h-1.4zM242.4 264.7h1.4v1.4h-1.4zM244.7 263.2h1.4v1.4h-1.4zM234.1 262.7h1.4v1.4h-1.4zM225.7 245.2h1.4v1.4h-1.4zM241.3 277.7h1.4v1.4h-1.4zM233.8 261.0h1.4v1.4h-1.4zM255.7 243.9h1.4v1.4h-1.4zM223.6 262.8h1.4v1.4h-1.4zM226.2 262.8h1.4v1.4h-1.4zM251.4 265.4h1.4v1.4h-1.4zM234.2 254.9h1.4v1.4h-1.4zM234.3 257.7h1.4v1.4h-1.4zM234.8 267.7h1.4v1.4h-1.4zM253.6 247.0h1.4v1.4h-1.4zM242.5 252.8h1.4v1.4h-1.4zM237.0 273.3h1.4v1.4h-1.4zM247.2 251.1h1.4v1.4h-1.4zM246.9 263.9h1.4v1.4h-1.4zM232.8 257.1h1.4v1.4h-1.4zM230.4 276.7h1.4v1.4h-1.4zM232.1 259.9h1.4v1.4h-1.4zM222.6 259.2h1.4v1.4h-1.4zM230.4 274.8h1.4v1.4h-1.4zM237.0 268.8h1.4v1.4h-1.4zM244.2 275.0h1.4v1.4h-1.4zM250.5 265.1h1.4v1.4h-1.4zM242.7 266.0h1.4v1.4h-1.4zM241.4 259.3h1.4v1.4h-1.4zM260.9 245.8h1.4v1.4h-1.4zM220.1 269.0h1.4v1.4h-1.4zM251.7 246.4h1.4v1.4h-1.4zM227.5 257.4h1.4v1.4h-1.4zM231.9 264.7h1.4v1.4h-1.4zM222.9 265.1h1.4v1.4h-1.4zM233.1 256.4h1.4v1.4h-1.4zM239.2 268.4h1.4v1.4h-1.4zM243.8 265.4h1.4v1.4h-1.4zM233.6 276.4h1.4v1.4h-1.4zM235.0 259.5h1.4v1.4h-1.4zM239.9 270.1h1.4v1.4h-1.4zM244.1 266.6h1.4v1.4h-1.4zM249.3 261.0h1.4v1.4h-1.4zM235.6 261.3h1.4v1.4h-1.4zM254.5 246.6h1.4v1.4h-1.4zM232.2 264.9h1.4v1.4h-1.4zM237.4 275.8h1.4v1.4h-1.4zM231.7 239.9h1.4v1.4h-1.4zM230.7 259.2h1.4v1.4h-1.4zM234.3 261.3h1.4v1.4h-1.4zM248.3 253.4h1.4v1.4h-1.4zM233.6 257.5h1.4v1.4h-1.4zM254.1 256.2h1.4v1.4h-1.4zM240.5 253.4h1.4v1.4h-1.4zM250.1 256.9h1.4v1.4h-1.4zM240.3 243.4h1.4v1.4h-1.4zM225.2 263.6h1.4v1.4h-1.4zM225.1 272.2h1.4v1.4h-1.4zM249.1 248.7h1.4v1.4h-1.4zM223.5 255.2h1.4v1.4h-1.4zM248.0 259.4h1.4v1.4h-1.4zM229.9 267.1h1.4v1.4h-1.4zM225.9 256.9h1.4v1.4h-1.4zM258.0 263.6h1.4v1.4h-1.4zM220.3 271.5h1.4v1.4h-1.4zM235.2 271.6h1.4v1.4h-1.4zM236.7 260.2h1.4v1.4h-1.4zM237.5 278.7h1.4v1.4h-1.4zM251.9 259.6h1.4v1.4h-1.4zM237.9 258.8h1.4v1.4h-1.4zM241.1 254.3h1.4v1.4h-1.4zM241.9 246.2h1.4v1.4h-1.4zM225.0 256.8h1.4v1.4h-1.4zM248.6 260.8h1.4v1.4h-1.4zM259.4 259.9h1.4v1.4h-1.4zM238.7 276.9h1.4v1.4h-1.4zM250.4 255.8h1.4v1.4h-1.4zM240.4 274.0h1.4v1.4h-1.4zM231.4 257.5h1.4v1.4h-1.4zM237.4 265.0h1.4v1.4h-1.4zM230.4 268.1h1.4v1.4h-1.4zM245.2 256.1h1.4v1.4h-1.4zM236.9 260.5h1.4v1.4h-1.4zM249.2 265.1h1.4v1.4h-1.4zM228.8 262.8h1.4v1.4h-1.4zM249.6 267.8h1.4v1.4h-1.4zM234.3 250.6h1.4v1.4h-1.4zM240.7 251.6h1.4v1.4h-1.4zM237.4 262.1h1.4v1.4h-1.4zM227.9 269.7h1.4v1.4h-1.4zM234.6 273.6h1.4v1.4h-1.4zM234.1 273.8h1.4v1.4h-1.4zM248.0 259.8h1.4v1.4h-1.4zM251.4 254.2h1.4v1.4h-1.4zM259.7 258.8h1.4v1.4h-1.4zM234.4 257.8h1.4v1.4h-1.4zM219.7 279.0h1.4v1.4h-1.4zM256.4 263.2h1.4v1.4h-1.4zM250.5 263.0h1.4v1.4h-1.4zM233.6 254.9h1.4v1.4h-1.4zM244.7 253.1h1.4v1.4h-1.4zM251.1 247.5h1.4v1.4h-1.4zM239.7 267.3h1.4v1.4h-1.4zM223.5 272.5h1.4v1.4h-1.4zM224.8 278.6h1.4v1.4h-1.4zM228.5 269.0h1.4v1.4h-1.4zM233.5 268.3h1.4v1.4h-1.4zM249.6 240.2h1.4v1.4h-1.4zM250.3 259.8h1.4v1.4h-1.4zM238.3 267.9h1.4v1.4h-1.4zM247.8 258.3h1.4v1.4h-1.4zM252.9 265.4h1.4v1.4h-1.4zM268.5 239.6h1.4v1.4h-1.4zM230.9 246.5h1.4v1.4h-1.4zM225.4 264.0h1.4v1.4h-1.4zM232.9 273.1h1.4v1.4h-1.4zM237.6 261.4h1.4v1.4h-1.4zM238.5 257.5h1.4v1.4h-1.4zM235.2 268.3h1.4v1.4h-1.4zM238.2 262.7h1.4v1.4h-1.4zM245.2 258.8h1.4v1.4h-1.4zM254.8 237.4h1.4v1.4h-1.4zM259.5 253.1h1.4v1.4h-1.4zM248.6 255.4h1.4v1.4h-1.4zM251.8 264.6h1.4v1.4h-1.4zM241.9 267.2h1.4v1.4h-1.4zM235.2 256.9h1.4v1.4h-1.4zM237.4 277.3h1.4v1.4h-1.4zM246.1 266.5h1.4v1.4h-1.4zM230.1 260.9h1.4v1.4h-1.4zM249.7 244.7h1.4v1.4h-1.4zM256.0 234.5h1.4v1.4h-1.4zM249.6 248.6h1.4v1.4h-1.4zM224.9 273.7h1.4v1.4h-1.4zM252.5 261.2h1.4v1.4h-1.4zM258.7 244.4h1.4v1.4h-1.4zM234.5 263.5h1.4v1.4h-1.4zM228.3 252.8h1.4v1.4h-1.4zM246.8 265.8h1.4v1.4h-1.4zM247.9 257.7h1.4v1.4h-1.4zM260.2 245.8h1.4v1.4h-1.4zM245.4 252.6h1.4v1.4h-1.4zM239.3 246.8h1.4v1.4h-1.4zM233.9 279.6h1.4v1.4h-1.4zM233.6 273.9h1.4v1.4h-1.4zM258.0 259.7h1.4v1.4h-1.4zM253.1 250.2h1.4v1.4h-1.4zM241.4 262.1h1.4v1.4h-1.4zM241.6 259.9h1.4v1.4h-1.4zM254.4 259.7h1.4v1.4h-1.4zM231.7 260.2h1.4v1.4h-1.4zM227.0 271.5h1.4v1.4h-1.4zM222.4 272.5h1.4v1.4h-1.4zM221.7 253.7h1.4v1.4h-1.4zM252.2 265.9h1.4v1.4h-1.4zM250.8 251.7h1.4v1.4h-1.4zM233.6 274.3h1.4v1.4h-1.4zM256.9 257.5h1.4v1.4h-1.4zM240.0 267.9h1.4v1.4h-1.4zM241.7 265.6h1.4v1.4h-1.4zM254.4 255.8h1.4v1.4h-1.4zM243.1 246.4h1.4v1.4h-1.4zM252.0 265.7h1.4v1.4h-1.4zM250.8 271.4h1.4v1.4h-1.4zM243.6 256.3h1.4v1.4h-1.4zM221.6 265.7h1.4v1.4h-1.4zM243.6 254.1h1.4v1.4h-1.4zM257.3 251.3h1.4v1.4h-1.4zM219.6 245.2h1.4v1.4h-1.4zM240.4 264.4h1.4v1.4h-1.4zM234.8 261.0h1.4v1.4h-1.4zM223.3 262.1h1.4v1.4h-1.4zM227.7 268.6h1.4v1.4h-1.4zM232.2 265.3h1.4v1.4h-1.4zM240.0 250.6h1.4v1.4h-1.4zM226.9 261.5h1.4v1.4h-1.4zM242.1 260.9h1.4v1.4h-1.4zM254.0 254.7h1.4v1.4h-1.4zM246.5 248.2h1.4v1.4h-1.4zM234.0 256.0h1.4v1.4h-1.4zM230.3 257.8h1.4v1.4h-1.4zM242.7 243.5h1.4v1.4h-1.4zM251.7 264.8h1.4v1.4h-1.4zM249.9 268.2h1.4v1.4h-1.4zM228.7 259.2h1.4v1.4h-1.4zM242.0 250.5h1.4v1.4h-1.4zM263.9 250.4h1.4v1.4h-1.4zM228.0 268.3h1.4v1.4h-1.4zM240.4 276.5h1.4v1.4h-1.4zM228.8 269.8h1.4v1.4h-1.4zM236.6 280.0h1.4v1.4h-1.4zM245.2 273.2h1.4v1.4h-1.4zM222.8 274.4h1.4v1.4h-1.4zM241.1 269.9h1.4v1.4h-1.4zM221.6 262.4h1.4v1.4h-1.4zM248.3 245.4h1.4v1.4h-1.4zM236.7 252.9h1.4v1.4h-1.4zM247.1 274.2h1.4v1.4h-1.4zM242.1 267.2h1.4v1.4h-1.4zM227.5 259.0h1.4v1.4h-1.4zM250.4 275.2h1.4v1.4h-1.4zM219.7 273.9h1.4v1.4h-1.4zM232.3 269.5h1.4v1.4h-1.4zM246.8 261.1h1.4v1.4h-1.4zM252.1 251.0h1.4v1.4h-1.4zM221.9 269.7h1.4v1.4h-1.4zM240.7 255.9h1.4v1.4h-1.4zM239.3 260.9h1.4v1.4h-1.4zM220.8 265.8h1.4v1.4h-1.4zM230.7 267.0h1.4v1.4h-1.4zM233.2 280.4h1.4v1.4h-1.4zM251.3 269.5h1.4v1.4h-1.4zM232.6 262.2h1.4v1.4h-1.4zM230.7 280.4h1.4v1.4h-1.4zM224.3 272.5h1.4v1.4h-1.4zM256.4 247.3h1.4v1.4h-1.4zM238.9 258.3h1.4v1.4h-1.4zM257.0 248.7h1.4v1.4h-1.4zM235.9 255.8h1.4v1.4h-1.4zM245.0 276.6h1.4v1.4h-1.4zM236.7 256.7h1.4v1.4h-1.4zM223.7 275.7h1.4v1.4h-1.4zM234.4 259.0h1.4v1.4h-1.4zM232.6 270.4h1.4v1.4h-1.4zM231.8 263.3h1.4v1.4h-1.4zM220.0 258.1h1.4v1.4h-1.4zM241.6 275.7h1.4v1.4h-1.4zM230.0 270.2h1.4v1.4h-1.4zM246.3 256.9h1.4v1.4h-1.4zM255.9 267.5h1.4v1.4h-1.4zM242.9 266.9h1.4v1.4h-1.4zM230.9 264.5h1.4v1.4h-1.4zM259.7 257.0h1.4v1.4h-1.4zM229.5 266.9h1.4v1.4h-1.4zM250.2 270.6h1.4v1.4h-1.4zM229.3 257.4h1.4v1.4h-1.4zM225.6 272.8h1.4v1.4h-1.4zM229.0 269.7h1.4v1.4h-1.4zM231.4 269.1h1.4v1.4h-1.4zM236.6 272.4h1.4v1.4h-1.4zM227.6 265.7h1.4v1.4h-1.4zM255.3 256.6h1.4v1.4h-1.4zM224.8 264.7h1.4v1.4h-1.4zM255.1 256.6h1.4v1.4h-1.4zM239.4 255.3h1.4v1.4h-1.4zM234.9 266.8h1.4v1.4h-1.4zM239.3 255.9h1.4v1.4h-1.4zM227.4 270.6h1.4v1.4h-1.4zM231.4 261.6h1.4v1.4h-1.4zM222.6 270.7h1.4v1.4h-1.4zM234.1 274.6h1.4v1.4h-1.4zM239.2 267.3h1.4v1.4h-1.4zM224.0 276.6h1.4v1.4h-1.4zM253.9 261.7h1.4v1.4h-1.4zM238.8 280.1h1.4v1.4h-1.4zM241.8 270.0h1.4v1.4h-1.4zM218.7 279.0h1.4v1.4h-1.4zM255.8 266.0h1.4v1.4h-1.4zM244.5 272.3h1.4v1.4h-1.4zM234.0 274.4h1.4v1.4h-1.4zM242.6 264.0h1.4v1.4h-1.4zM225.6 266.2h1.4v1.4h-1.4zM228.6 260.0h1.4v1.4h-1.4zM247.1 274.5h1.4v1.4h-1.4zM244.3 272.2h1.4v1.4h-1.4zM239.3 270.3h1.4v1.4h-1.4zM228.7 272.6h1.4v1.4h-1.4zM241.0 235.3h1.4v1.4h-1.4zM228.7 279.7h1.4v1.4h-1.4zM247.6 263.7h1.4v1.4h-1.4zM246.5 252.7h1.4v1.4h-1.4zM240.1 253.4h1.4v1.4h-1.4zM261.6 257.9h1.4v1.4h-1.4zM230.7 246.7h1.4v1.4h-1.4zM256.3 245.6h1.4v1.4h-1.4zM249.9 241.8h1.4v1.4h-1.4zM232.2 262.8h1.4v1.4h-1.4zM222.9 261.8h1.4v1.4h-1.4zM240.7 246.9h1.4v1.4h-1.4zM252.0 256.5h1.4v1.4h-1.4zM234.2 257.5h1.4v1.4h-1.4zM238.7 277.2h1.4v1.4h-1.4zM253.7 236.2h1.4v1.4h-1.4zM226.6 270.9h1.4v1.4h-1.4zM224.5 257.7h1.4v1.4h-1.4zM264.7 250.7h1.4v1.4h-1.4zM257.2 257.0h1.4v1.4h-1.4zM229.1 253.7h1.4v1.4h-1.4zM226.0 250.1h1.4v1.4h-1.4zM233.4 261.8h1.4v1.4h-1.4zM234.5 268.4h1.4v1.4h-1.4zM255.3 250.3h1.4v1.4h-1.4zM250.5 255.2h1.4v1.4h-1.4zM241.4 249.9h1.4v1.4h-1.4zM236.7 270.7h1.4v1.4h-1.4zM230.5 267.6h1.4v1.4h-1.4zM235.2 252.4h1.4v1.4h-1.4zM255.9 253.3h1.4v1.4h-1.4zM253.1 270.4h1.4v1.4h-1.4zM244.0 267.8h1.4v1.4h-1.4zM245.5 276.9h1.4v1.4h-1.4zM245.1 256.1h1.4v1.4h-1.4zM237.5 275.9h1.4v1.4h-1.4zM260.1 256.9h1.4v1.4h-1.4zM245.1 270.2h1.4v1.4h-1.4zM238.3 249.0h1.4v1.4h-1.4zM233.3 274.4h1.4v1.4h-1.4zM245.6 268.7h1.4v1.4h-1.4zM259.8 255.9h1.4v1.4h-1.4zM233.6 275.4h1.4v1.4h-1.4zM248.9 264.5h1.4v1.4h-1.4zM228.1 260.6h1.4v1.4h-1.4zM227.7 260.3h1.4v1.4h-1.4zM242.4 263.7h1.4v1.4h-1.4zM222.0 275.3h1.4v1.4h-1.4zM238.6 258.7h1.4v1.4h-1.4zM245.4 266.9h1.4v1.4h-1.4zM230.4 249.5h1.4v1.4h-1.4zM236.5 270.5h1.4v1.4h-1.4zM221.9 270.2h1.4v1.4h-1.4zM240.5 250.9h1.4v1.4h-1.4zM246.0 255.8h1.4v1.4h-1.4zM236.9 253.9h1.4v1.4h-1.4zM219.8 267.8h1.4v1.4h-1.4zM231.1 274.7h1.4v1.4h-1.4zM230.4 271.6h1.4v1.4h-1.4zM253.7 246.7h1.4v1.4h-1.4zM220.8 266.8h1.4v1.4h-1.4zM231.5 270.2h1.4v1.4h-1.4zM240.2 252.3h1.4v1.4h-1.4zM240.8 251.0h1.4v1.4h-1.4zM238.9 270.7h1.4v1.4h-1.4zM258.7 262.5h1.4v1.4h-1.4zM253.6 230.0h1.4v1.4h-1.4zM255.2 265.5h1.4v1.4h-1.4zM247.2 276.5h1.4v1.4h-1.4zM232.1 268.6h1.4v1.4h-1.4zM233.8 261.8h1.4v1.4h-1.4zM240.5 273.5h1.4v1.4h-1.4zM240.1 279.5h1.4v1.4h-1.4zM249.4 263.9h1.4v1.4h-1.4zM250.4 248.1h1.4v1.4h-1.4zM241.7 256.6h1.4v1.4h-1.4zM242.0 273.6h1.4v1.4h-1.4zM250.0 264.7h1.4v1.4h-1.4zM251.1 255.5h1.4v1.4h-1.4zM220.8 270.7h1.4v1.4h-1.4zM237.3 263.8h1.4v1.4h-1.4zM246.3 251.6h1.4v1.4h-1.4zM236.5 269.0h1.4v1.4h-1.4zM245.8 272.5h1.4v1.4h-1.4zM219.0 262.0h1.4v1.4h-1.4zM226.4 278.7h1.4v1.4h-1.4zM253.5 243.0h1.4v1.4h-1.4zM240.6 266.5h1.4v1.4h-1.4zM239.9 273.1h1.4v1.4h-1.4zM235.1 246.2h1.4v1.4h-1.4zM243.2 267.3h1.4v1.4h-1.4zM230.8 252.7h1.4v1.4h-1.4zM222.7 265.7h1.4v1.4h-1.4zM230.7 257.8h1.4v1.4h-1.4zM244.6 256.1h1.4v1.4h-1.4zM248.2 247.4h1.4v1.4h-1.4zM235.9 271.1h1.4v1.4h-1.4zM227.9 254.6h1.4v1.4h-1.4zM243.2 276.4h1.4v1.4h-1.4zM247.4 259.0h1.4v1.4h-1.4zM227.6 259.5h1.4v1.4h-1.4zM250.9 272.3h1.4v1.4h-1.4zM233.4 261.0h1.4v1.4h-1.4zM235.4 258.7h1.4v1.4h-1.4zM266.4 251.3h1.4v1.4h-1.4zM238.1 257.6h1.4v1.4h-1.4zM246.9 264.4h1.4v1.4h-1.4zM225.6 269.2h1.4v1.4h-1.4zM233.5 278.1h1.4v1.4h-1.4zM251.7 245.2h1.4v1.4h-1.4zM225.0 275.8h1.4v1.4h-1.4zM236.0 242.9h1.4v1.4h-1.4zM227.3 264.4h1.4v1.4h-1.4zM242.0 265.8h1.4v1.4h-1.4zM254.5 259.8h1.4v1.4h-1.4zM251.1 261.6h1.4v1.4h-1.4zM231.2 263.0h1.4v1.4h-1.4zM238.6 278.8h1.4v1.4h-1.4zM252.7 255.2h1.4v1.4h-1.4zM246.3 273.0h1.4v1.4h-1.4zM238.1 258.9h1.4v1.4h-1.4zM226.1 266.4h1.4v1.4h-1.4zM219.0 269.0h1.4v1.4h-1.4zM229.0 259.4h1.4v1.4h-1.4zM225.4 269.4h1.4v1.4h-1.4zM244.8 258.8h1.4v1.4h-1.4zM243.0 276.1h1.4v1.4h-1.4zM257.4 245.8h1.4v1.4h-1.4zM244.4 251.8h1.4v1.4h-1.4zM227.6 275.1h1.4v1.4h-1.4zM231.5 266.2h1.4v1.4h-1.4zM241.8 253.4h1.4v1.4h-1.4zM233.8 254.9h1.4v1.4h-1.4zM244.8 271.3h1.4v1.4h-1.4zM249.1 268.1h1.4v1.4h-1.4zM257.0 238.3h1.4v1.4h-1.4zM233.0 279.1h1.4v1.4h-1.4zM247.4 272.9h1.4v1.4h-1.4zM231.7 244.4h1.4v1.4h-1.4zM250.0 241.8h1.4v1.4h-1.4zM228.9 273.7h1.4v1.4h-1.4zM253.0 255.0h1.4v1.4h-1.4zM254.6 247.7h1.4v1.4h-1.4zM239.0 267.0h1.4v1.4h-1.4zM233.2 268.9h1.4v1.4h-1.4zM251.5 247.8h1.4v1.4h-1.4zM223.2 266.0h1.4v1.4h-1.4zM232.8 263.1h1.4v1.4h-1.4zM247.1 261.2h1.4v1.4h-1.4zM264.5 253.2h1.4v1.4h-1.4zM234.6 270.1h1.4v1.4h-1.4zM246.5 265.4h1.4v1.4h-1.4zM244.6 270.4h1.4v1.4h-1.4zM255.4 256.9h1.4v1.4h-1.4zM223.4 264.7h1.4v1.4h-1.4zM228.0 270.3h1.4v1.4h-1.4zM255.0 252.8h1.4v1.4h-1.4zM222.8 254.0h1.4v1.4h-1.4zM256.6 262.3h1.4v1.4h-1.4zM244.4 274.6h1.4v1.4h-1.4zM233.8 262.0h1.4v1.4h-1.4zM253.4 256.7h1.4v1.4h-1.4zM226.3 257.0h1.4v1.4h-1.4zM227.5 263.0h1.4v1.4h-1.4zM242.3 272.1h1.4v1.4h-1.4zM244.4 250.0h1.4v1.4h-1.4zM244.9 274.8h1.4v1.4h-1.4zM260.8 250.0h1.4v1.4h-1.4zM227.6 246.8h1.4v1.4h-1.4zM247.5 255.0h1.4v1.4h-1.4zM224.0 258.1h1.4v1.4h-1.4zM235.7 268.5h1.4v1.4h-1.4zM220.7 277.3h1.4v1.4h-1.4zM246.3 263.7h1.4v1.4h-1.4zM232.4 268.9h1.4v1.4h-1.4zM258.1 247.1h1.4v1.4h-1.4zM249.1 264.9h1.4v1.4h-1.4zM235.5 259.5h1.4v1.4h-1.4zM239.8 257.8h1.4v1.4h-1.4zM234.0 263.7h1.4v1.4h-1.4zM226.6 273.1h1.4v1.4h-1.4zM250.8 251.6h1.4v1.4h-1.4zM240.2 269.3h1.4v1.4h-1.4zM230.7 268.7h1.4v1.4h-1.4zM252.9 246.0h1.4v1.4h-1.4zM232.9 258.6h1.4v1.4h-1.4zM246.7 255.0h1.4v1.4h-1.4zM236.0 276.8h1.4v1.4h-1.4zM244.8 267.8h1.4v1.4h-1.4zM257.8 258.3h1.4v1.4h-1.4zM248.1 254.6h1.4v1.4h-1.4zM234.4 264.5h1.4v1.4h-1.4zM231.5 270.2h1.4v1.4h-1.4zM220.3 254.3h1.4v1.4h-1.4zM227.1 267.0h1.4v1.4h-1.4zM220.8 273.5h1.4v1.4h-1.4zM253.5 254.4h1.4v1.4h-1.4zM241.0 256.1h1.4v1.4h-1.4zM232.7 278.2h1.4v1.4h-1.4zM221.3 279.5h1.4v1.4h-1.4zM244.4 277.3h1.4v1.4h-1.4zM250.4 271.9h1.4v1.4h-1.4zM228.9 263.1h1.4v1.4h-1.4zM249.1 271.5h1.4v1.4h-1.4zM242.7 266.9h1.4v1.4h-1.4zM229.3 267.4h1.4v1.4h-1.4zM232.2 259.9h1.4v1.4h-1.4zM244.9 256.5h1.4v1.4h-1.4zM238.6 271.5h1.4v1.4h-1.4zM269.6 240.8h1.4v1.4h-1.4zM235.2 257.5h1.4v1.4h-1.4zM248.0 245.2h1.4v1.4h-1.4zM222.6 270.2h1.4v1.4h-1.4zM224.9 257.7h1.4v1.4h-1.4zM246.0 246.3h1.4v1.4h-1.4zM259.3 262.0h1.4v1.4h-1.4zM226.8 268.1h1.4v1.4h-1.4zM228.0 271.1h1.4v1.4h-1.4zM244.5 256.9h1.4v1.4h-1.4zM250.8 250.7h1.4v1.4h-1.4zM219.8 264.7h1.4v1.4h-1.4zM232.0 278.6h1.4v1.4h-1.4zM231.3 268.2h1.4v1.4h-1.4zM229.7 251.3h1.4v1.4h-1.4zM232.3 278.7h1.4v1.4h-1.4zM252.0 255.2h1.4v1.4h-1.4zM243.9 249.6h1.4v1.4h-1.4zM232.0 279.1h1.4v1.4h-1.4zM229.7 260.1h1.4v1.4h-1.4zM236.2 229.0h1.4v1.4h-1.4zM240.9 255.9h1.4v1.4h-1.4zM239.4 270.2h1.4v1.4h-1.4zM231.0 274.4h1.4v1.4h-1.4zM232.6 268.3h1.4v1.4h-1.4zM237.5 267.2h1.4v1.4h-1.4zM244.5 255.6h1.4v1.4h-1.4zM228.0 272.0h1.4v1.4h-1.4zM250.7 255.4h1.4v1.4h-1.4zM246.8 249.1h1.4v1.4h-1.4zM237.5 268.8h1.4v1.4h-1.4zM230.6 263.9h1.4v1.4h-1.4zM233.8 264.0h1.4v1.4h-1.4zM236.7 259.5h1.4v1.4h-1.4zM241.3 256.3h1.4v1.4h-1.4zM243.3 261.4h1.4v1.4h-1.4zM253.2 260.5h1.4v1.4h-1.4zM244.5 265.9h1.4v1.4h-1.4zM239.7 255.3h1.4v1.4h-1.4zM247.7 268.5h1.4v1.4h-1.4zM220.5 257.7h1.4v1.4h-1.4zM222.3 276.9h1.4v1.4h-1.4zM232.2 277.7h1.4v1.4h-1.4zM253.8 240.8h1.4v1.4h-1.4zM240.8 252.0h1.4v1.4h-1.4zM231.9 259.2h1.4v1.4h-1.4zM253.8 263.3h1.4v1.4h-1.4zM255.9 246.7h1.4v1.4h-1.4zM233.5 256.4h1.4v1.4h-1.4zM262.1 251.9h1.4v1.4h-1.4zM245.6 251.9h1.4v1.4h-1.4zM244.9 266.5h1.4v1.4h-1.4zM228.8 271.9h1.4v1.4h-1.4zM235.8 274.0h1.4v1.4h-1.4zM227.9 265.1h1.4v1.4h-1.4zM253.8 260.0h1.4v1.4h-1.4zM247.5 263.4h1.4v1.4h-1.4zM236.7 280.7h1.4v1.4h-1.4zM241.6 266.5h1.4v1.4h-1.4zM256.9 264.7h1.4v1.4h-1.4zM239.2 265.4h1.4v1.4h-1.4zM253.1 256.1h1.4v1.4h-1.4zM232.7 268.0h1.4v1.4h-1.4zM251.4 269.2h1.4v1.4h-1.4zM247.3 257.4h1.4v1.4h-1.4zM266.7 247.2h1.4v1.4h-1.4zM242.1 256.2h1.4v1.4h-1.4zM249.6 258.4h1.4v1.4h-1.4zM237.5 252.3h1.4v1.4h-1.4zM241.6 260.6h1.4v1.4h-1.4zM250.8 270.2h1.4v1.4h-1.4zM238.8 277.8h1.4v1.4h-1.4zM242.2 262.2h1.4v1.4h-1.4zM226.8 258.1h1.4v1.4h-1.4zM241.5 276.0h1.4v1.4h-1.4zM241.7 267.4h1.4v1.4h-1.4zM231.8 258.0h1.4v1.4h-1.4zM228.3 257.5h1.4v1.4h-1.4zM243.1 265.0h1.4v1.4h-1.4zM222.5 248.2h1.4v1.4h-1.4zM251.8 265.7h1.4v1.4h-1.4zM237.9 260.8h1.4v1.4h-1.4zM245.4 263.1h1.4v1.4h-1.4zM237.0 263.4h1.4v1.4h-1.4zM254.6 255.0h1.4v1.4h-1.4zM229.9 261.2h1.4v1.4h-1.4zM236.9 252.6h1.4v1.4h-1.4zM224.7 243.7h1.4v1.4h-1.4zM242.7 260.1h1.4v1.4h-1.4zM234.6 267.5h1.4v1.4h-1.4zM242.0 264.3h1.4v1.4h-1.4zM249.4 259.6h1.4v1.4h-1.4zM247.6 272.5h1.4v1.4h-1.4zM242.8 270.8h1.4v1.4h-1.4zM253.5 241.9h1.4v1.4h-1.4zM228.9 266.8h1.4v1.4h-1.4zM244.6 243.6h1.4v1.4h-1.4zM252.0 255.8h1.4v1.4h-1.4zM227.1 274.1h1.4v1.4h-1.4zM224.0 253.3h1.4v1.4h-1.4zM231.6 276.0h1.4v1.4h-1.4zM231.7 249.7h1.4v1.4h-1.4zM247.0 255.8h1.4v1.4h-1.4zM244.1 245.0h1.4v1.4h-1.4zM236.2 256.0h1.4v1.4h-1.4zM241.7 254.1h1.4v1.4h-1.4zM233.3 255.3h1.4v1.4h-1.4zM242.4 240.0h1.4v1.4h-1.4zM226.4 273.8h1.4v1.4h-1.4zM230.3 258.9h1.4v1.4h-1.4zM230.2 253.2h1.4v1.4h-1.4zM248.2 270.6h1.4v1.4h-1.4zM242.3 273.2h1.4v1.4h-1.4zM242.3 265.7h1.4v1.4h-1.4zM248.4 255.6h1.4v1.4h-1.4zM220.3 265.9h1.4v1.4h-1.4zM222.7 267.0h1.4v1.4h-1.4zM254.9 255.3h1.4v1.4h-1.4zM221.9 266.6h1.4v1.4h-1.4zM235.8 268.8h1.4v1.4h-1.4zM251.1 245.4h1.4v1.4h-1.4zM225.7 255.2h1.4v1.4h-1.4zM246.0 268.2h1.4v1.4h-1.4zM238.7 270.1h1.4v1.4h-1.4zM233.6 261.4h1.4v1.4h-1.4zM231.7 267.3h1.4v1.4h-1.4zM250.6 266.1h1.4v1.4h-1.4zM234.0 274.6h1.4v1.4h-1.4zM261.4 244.4h1.4v1.4h-1.4zM243.3 242.8h1.4v1.4h-1.4zM237.2 255.2h1.4v1.4h-1.4zM244.5 266.6h1.4v1.4h-1.4zM223.4 246.4h1.4v1.4h-1.4zM249.4 257.8h1.4v1.4h-1.4zM248.7 259.0h1.4v1.4h-1.4zM244.2 265.7h1.4v1.4h-1.4zM220.3 243.7h1.4v1.4h-1.4zM244.4 274.5h1.4v1.4h-1.4zM233.3 246.8h1.4v1.4h-1.4zM270.6 245.3h1.4v1.4h-1.4zM234.6 262.6h1.4v1.4h-1.4zM222.2 271.4h1.4v1.4h-1.4zM237.0 265.9h1.4v1.4h-1.4zM244.3 266.6h1.4v1.4h-1.4zM239.0 269.0h1.4v1.4h-1.4zM252.7 270.7h1.4v1.4h-1.4zM225.9 248.5h1.4v1.4h-1.4zM249.5 275.5h1.4v1.4h-1.4zM248.2 275.0h1.4v1.4h-1.4zM228.4 250.0h1.4v1.4h-1.4zM247.9 246.6h1.4v1.4h-1.4zM226.1 245.9h1.4v1.4h-1.4zM272.1 244.5h1.4v1.4h-1.4zM220.3 270.0h1.4v1.4h-1.4zM225.4 266.8h1.4v1.4h-1.4zM242.7 250.0h1.4v1.4h-1.4zM224.2 272.1h1.4v1.4h-1.4zM227.7 252.9h1.4v1.4h-1.4zM259.7 256.1h1.4v1.4h-1.4zM236.7 254.5h1.4v1.4h-1.4zM229.9 276.4h1.4v1.4h-1.4zM226.2 260.1h1.4v1.4h-1.4zM244.3 256.6h1.4v1.4h-1.4zM254.0 267.1h1.4v1.4h-1.4zM235.6 242.9h1.4v1.4h-1.4zM256.8 252.5h1.4v1.4h-1.4zM225.4 266.1h1.4v1.4h-1.4zM251.5 270.5h1.4v1.4h-1.4zM239.4 248.3h1.4v1.4h-1.4zM235.3 251.5h1.4v1.4h-1.4zM230.1 262.9h1.4v1.4h-1.4zM251.5 249.0h1.4v1.4h-1.4zM243.0 273.6h1.4v1.4h-1.4zM230.1 264.1h1.4v1.4h-1.4zM233.2 262.6h1.4v1.4h-1.4zM233.0 273.2h1.4v1.4h-1.4zM260.6 249.3h1.4v1.4h-1.4zM259.2 250.1h1.4v1.4h-1.4zM235.4 244.8h1.4v1.4h-1.4zM247.8 242.8h1.4v1.4h-1.4zM235.8 263.9h1.4v1.4h-1.4zM253.7 259.0h1.4v1.4h-1.4zM248.1 264.2h1.4v1.4h-1.4zM233.8 258.4h1.4v1.4h-1.4zM225.7 263.7h1.4v1.4h-1.4zM227.2 265.9h1.4v1.4h-1.4zM267.7 246.0h1.4v1.4h-1.4zM236.6 254.6h1.4v1.4h-1.4zM254.0 260.7h1.4v1.4h-1.4zM260.5 251.6h1.4v1.4h-1.4zM246.0 249.0h1.4v1.4h-1.4zM251.0 256.1h1.4v1.4h-1.4zM227.3 275.6h1.4v1.4h-1.4zM271.3 243.5h1.4v1.4h-1.4zM97.1 355.6h1.4v1.4h-1.4zM89.6 352.6h1.4v1.4h-1.4zM88.3 359.9h1.4v1.4h-1.4zM94.1 355.0h1.4v1.4h-1.4zM94.7 358.9h1.4v1.4h-1.4zM55.0 357.9h1.4v1.4h-1.4zM94.4 357.4h1.4v1.4h-1.4zM94.6 354.6h1.4v1.4h-1.4zM84.9 352.1h1.4v1.4h-1.4zM89.4 360.1h1.4v1.4h-1.4zM68.2 352.8h1.4v1.4h-1.4zM54.3 353.2h1.4v1.4h-1.4zM52.0 355.8h1.4v1.4h-1.4zM55.6 358.9h1.4v1.4h-1.4zM68.4 359.8h1.4v1.4h-1.4zM72.7 361.2h1.4v1.4h-1.4zM92.1 354.7h1.4v1.4h-1.4zM64.0 359.9h1.4v1.4h-1.4zM76.1 353.4h1.4v1.4h-1.4zM71.6 360.8h1.4v1.4h-1.4zM91.4 357.9h1.4v1.4h-1.4zM52.4 357.4h1.4v1.4h-1.4zM90.9 354.4h1.4v1.4h-1.4zM60.0 352.7h1.4v1.4h-1.4zM56.9 359.1h1.4v1.4h-1.4zM50.8 358.3h1.4v1.4h-1.4zM68.0 353.7h1.4v1.4h-1.4zM60.3 353.1h1.4v1.4h-1.4zM69.5 352.4h1.4v1.4h-1.4zM53.1 354.7h1.4v1.4h-1.4zM92.7 354.1h1.4v1.4h-1.4zM60.6 353.1h1.4v1.4h-1.4zM86.7 353.5h1.4v1.4h-1.4zM89.5 359.5h1.4v1.4h-1.4zM57.3 359.1h1.4v1.4h-1.4zM94.9 355.0h1.4v1.4h-1.4zM82.3 352.4h1.4v1.4h-1.4zM74.8 359.4h1.4v1.4h-1.4zM58.7 353.1h1.4v1.4h-1.4zM84.2 353.4h1.4v1.4h-1.4zM68.8 352.1h1.4v1.4h-1.4zM65.1 359.9h1.4v1.4h-1.4zM74.1 359.5h1.4v1.4h-1.4zM86.7 359.0h1.4v1.4h-1.4zM87.4 353.0h1.4v1.4h-1.4zM54.9 359.3h1.4v1.4h-1.4zM95.6 356.0h1.4v1.4h-1.4zM92.8 358.7h1.4v1.4h-1.4zM78.8 352.9h1.4v1.4h-1.4zM53.8 354.5h1.4v1.4h-1.4zM52.3 356.6h1.4v1.4h-1.4zM67.9 352.8h1.4v1.4h-1.4zM54.7 355.3h1.4v1.4h-1.4zM93.2 358.6h1.4v1.4h-1.4zM55.3 354.5h1.4v1.4h-1.4zM59.3 359.8h1.4v1.4h-1.4zM89.8 358.6h1.4v1.4h-1.4zM68.9 352.9h1.4v1.4h-1.4zM93.2 358.9h1.4v1.4h-1.4zM95.7 357.7h1.4v1.4h-1.4zM55.3 354.5h1.4v1.4h-1.4zM76.7 361.6h1.4v1.4h-1.4zM95.9 356.7h1.4v1.4h-1.4zM51.7 356.3h1.4v1.4h-1.4zM77.0 361.0h1.4v1.4h-1.4zM51.7 357.2h1.4v1.4h-1.4zM57.0 354.6h1.4v1.4h-1.4zM70.6 360.4h1.4v1.4h-1.4zM54.4 354.5h1.4v1.4h-1.4zM56.8 359.2h1.4v1.4h-1.4zM62.7 360.6h1.4v1.4h-1.4zM85.4 353.2h1.4v1.4h-1.4zM70.5 359.7h1.4v1.4h-1.4zM80.8 354.0h1.4v1.4h-1.4zM66.4 353.5h1.4v1.4h-1.4zM89.5 359.9h1.4v1.4h-1.4zM67.7 359.9h1.4v1.4h-1.4zM52.4 358.2h1.4v1.4h-1.4zM85.3 352.7h1.4v1.4h-1.4zM81.0 353.5h1.4v1.4h-1.4zM72.2 353.3h1.4v1.4h-1.4zM87.2 358.9h1.4v1.4h-1.4zM93.5 357.5h1.4v1.4h-1.4zM93.7 357.4h1.4v1.4h-1.4zM92.9 354.9h1.4v1.4h-1.4zM61.7 353.7h1.4v1.4h-1.4zM53.4 357.9h1.4v1.4h-1.4zM62.5 359.7h1.4v1.4h-1.4zM57.6 359.5h1.4v1.4h-1.4zM87.0 358.9h1.4v1.4h-1.4zM87.2 360.7h1.4v1.4h-1.4zM81.6 352.7h1.4v1.4h-1.4zM79.9 353.0h1.4v1.4h-1.4zM70.8 360.8h1.4v1.4h-1.4zM50.7 356.9h1.4v1.4h-1.4zM62.7 359.7h1.4v1.4h-1.4zM55.8 354.1h1.4v1.4h-1.4zM53.1 355.3h1.4v1.4h-1.4zM86.5 352.7h1.4v1.4h-1.4zM96.0 357.2h1.4v1.4h-1.4zM52.1 355.5h1.4v1.4h-1.4zM82.9 352.9h1.4v1.4h-1.4zM52.2 354.7h1.4v1.4h-1.4zM64.8 361.0h1.4v1.4h-1.4zM55.5 359.1h1.4v1.4h-1.4zM88.7 353.6h1.4v1.4h-1.4zM88.2 360.3h1.4v1.4h-1.4zM55.3 357.4h1.4v1.4h-1.4zM93.9 358.4h1.4v1.4h-1.4zM94.5 357.6h1.4v1.4h-1.4zM82.3 353.9h1.4v1.4h-1.4zM75.3 360.6h1.4v1.4h-1.4zM61.4 352.3h1.4v1.4h-1.4zM51.1 357.4h1.4v1.4h-1.4zM52.0 354.6h1.4v1.4h-1.4zM92.5 358.5h1.4v1.4h-1.4zM86.4 353.7h1.4v1.4h-1.4zM87.2 354.2h1.4v1.4h-1.4zM87.1 360.2h1.4v1.4h-1.4zM78.0 360.1h1.4v1.4h-1.4zM61.4 352.4h1.4v1.4h-1.4zM75.3 352.5h1.4v1.4h-1.4zM73.4 360.4h1.4v1.4h-1.4zM53.4 358.2h1.4v1.4h-1.4zM62.2 353.9h1.4v1.4h-1.4zM68.5 359.9h1.4v1.4h-1.4zM96.4 357.6h1.4v1.4h-1.4zM75.2 352.8h1.4v1.4h-1.4zM67.3 352.1h1.4v1.4h-1.4zM73.2 352.2h1.4v1.4h-1.4zM89.3 360.0h1.4v1.4h-1.4zM93.7 357.0h1.4v1.4h-1.4zM55.8 357.7h1.4v1.4h-1.4zM54.4 359.0h1.4v1.4h-1.4zM58.5 358.9h1.4v1.4h-1.4zM97.5 356.3h1.4v1.4h-1.4zM51.3 357.2h1.4v1.4h-1.4zM90.4 353.3h1.4v1.4h-1.4zM65.9 360.9h1.4v1.4h-1.4zM68.5 360.4h1.4v1.4h-1.4zM62.4 354.2h1.4v1.4h-1.4zM96.3 355.2h1.4v1.4h-1.4zM52.5 358.6h1.4v1.4h-1.4zM68.5 353.2h1.4v1.4h-1.4zM95.8 357.5h1.4v1.4h-1.4zM58.7 358.9h1.4v1.4h-1.4zM95.8 357.9h1.4v1.4h-1.4zM69.2 360.6h1.4v1.4h-1.4zM89.3 359.6h1.4v1.4h-1.4zM95.5 355.8h1.4v1.4h-1.4zM86.2 359.6h1.4v1.4h-1.4zM94.1 356.8h1.4v1.4h-1.4zM52.7 355.0h1.4v1.4h-1.4zM52.8 354.4h1.4v1.4h-1.4zM78.3 360.1h1.4v1.4h-1.4zM84.0 359.7h1.4v1.4h-1.4zM50.5 357.2h1.4v1.4h-1.4zM72.6 353.4h1.4v1.4h-1.4zM50.5 355.2h1.4v1.4h-1.4zM50.8 356.7h1.4v1.4h-1.4zM92.2 355.1h1.4v1.4h-1.4zM91.7 355.7h1.4v1.4h-1.4zM89.8 358.9h1.4v1.4h-1.4zM84.4 353.7h1.4v1.4h-1.4zM62.2 361.1h1.4v1.4h-1.4zM91.6 355.8h1.4v1.4h-1.4zM65.7 360.6h1.4v1.4h-1.4zM87.0 354.4h1.4v1.4h-1.4zM77.1 360.4h1.4v1.4h-1.4zM77.4 360.1h1.4v1.4h-1.4zM88.5 353.3h1.4v1.4h-1.4zM53.7 354.8h1.4v1.4h-1.4zM53.4 359.2h1.4v1.4h-1.4zM93.2 355.3h1.4v1.4h-1.4zM75.5 352.9h1.4v1.4h-1.4zM85.4 353.2h1.4v1.4h-1.4zM89.5 359.5h1.4v1.4h-1.4zM85.4 353.6h1.4v1.4h-1.4zM84.8 360.8h1.4v1.4h-1.4zM86.2 359.4h1.4v1.4h-1.4zM57.7 354.6h1.4v1.4h-1.4zM82.3 353.5h1.4v1.4h-1.4zM82.9 353.6h1.4v1.4h-1.4zM89.1 353.7h1.4v1.4h-1.4zM51.6 357.0h1.4v1.4h-1.4zM56.0 354.5h1.4v1.4h-1.4zM95.4 355.7h1.4v1.4h-1.4zM80.3 352.5h1.4v1.4h-1.4zM61.0 360.0h1.4v1.4h-1.4zM86.2 359.5h1.4v1.4h-1.4zM94.6 354.3h1.4v1.4h-1.4zM62.6 354.5h1.4v1.4h-1.4zM93.1 356.0h1.4v1.4h-1.4zM97.0 357.1h1.4v1.4h-1.4zM69.0 359.9h1.4v1.4h-1.4zM93.0 359.0h1.4v1.4h-1.4zM85.1 354.1h1.4v1.4h-1.4zM82.3 361.3h1.4v1.4h-1.4zM78.7 353.1h1.4v1.4h-1.4zM81.2 360.7h1.4v1.4h-1.4zM59.3 358.9h1.4v1.4h-1.4zM95.1 355.5h1.4v1.4h-1.4zM53.3 354.7h1.4v1.4h-1.4zM93.6 354.0h1.4v1.4h-1.4zM64.6 359.6h1.4v1.4h-1.4zM95.7 355.9h1.4v1.4h-1.4zM89.0 357.9h1.4v1.4h-1.4zM85.8 359.4h1.4v1.4h-1.4zM88.2 352.3h1.4v1.4h-1.4zM83.8 359.3h1.4v1.4h-1.4zM59.3 359.2h1.4v1.4h-1.4zM53.7 354.3h1.4v1.4h-1.4zM51.6 359.2h1.4v1.4h-1.4zM60.5 353.9h1.4v1.4h-1.4zM56.6 353.8h1.4v1.4h-1.4zM64.9 360.9h1.4v1.4h-1.4zM86.5 353.5h1.4v1.4h-1.4zM53.6 354.0h1.4v1.4h-1.4zM87.1 354.6h1.4v1.4h-1.4zM70.8 353.7h1.4v1.4h-1.4zM57.6 359.7h1.4v1.4h-1.4zM94.9 356.1h1.4v1.4h-1.4zM51.1 357.3h1.4v1.4h-1.4zM58.2 359.5h1.4v1.4h-1.4zM66.0 354.0h1.4v1.4h-1.4zM70.1 352.1h1.4v1.4h-1.4zM55.6 355.4h1.4v1.4h-1.4zM55.1 358.6h1.4v1.4h-1.4zM64.5 360.3h1.4v1.4h-1.4zM53.5 358.3h1.4v1.4h-1.4zM62.5 353.1h1.4v1.4h-1.4zM52.2 356.4h1.4v1.4h-1.4zM73.8 361.3h1.4v1.4h-1.4zM58.2 360.7h1.4v1.4h-1.4zM55.9 353.7h1.4v1.4h-1.4zM76.4 360.4h1.4v1.4h-1.4zM53.5 357.2h1.4v1.4h-1.4zM86.1 353.2h1.4v1.4h-1.4zM95.3 357.4h1.4v1.4h-1.4zM85.4 352.9h1.4v1.4h-1.4zM50.3 355.5h1.4v1.4h-1.4zM66.0 353.6h1.4v1.4h-1.4zM84.6 353.7h1.4v1.4h-1.4zM63.0 353.2h1.4v1.4h-1.4zM93.2 358.4h1.4v1.4h-1.4zM73.8 360.7h1.4v1.4h-1.4zM52.2 356.7h1.4v1.4h-1.4zM89.8 357.4h1.4v1.4h-1.4zM87.5 359.5h1.4v1.4h-1.4zM96.9 356.9h1.4v1.4h-1.4zM94.3 356.7h1.4v1.4h-1.4zM96.3 355.6h1.4v1.4h-1.4zM75.7 353.0h1.4v1.4h-1.4zM87.0 353.3h1.4v1.4h-1.4zM83.4 353.2h1.4v1.4h-1.4zM91.7 354.3h1.4v1.4h-1.4zM66.8 361.2h1.4v1.4h-1.4zM53.0 355.1h1.4v1.4h-1.4zM58.5 353.6h1.4v1.4h-1.4zM95.8 357.4h1.4v1.4h-1.4zM52.5 356.7h1.4v1.4h-1.4zM86.4 350.7h1.4v1.4h-1.4zM88.3 354.5h1.4v1.4h-1.4zM54.5 356.7h1.4v1.4h-1.4zM92.4 359.8h1.4v1.4h-1.4zM96.0 358.1h1.4v1.4h-1.4zM89.7 354.4h1.4v1.4h-1.4zM101.2 357.1h1.4v1.4h-1.4zM94.4 357.7h1.4v1.4h-1.4zM93.6 355.8h1.4v1.4h-1.4zM88.4 359.6h1.4v1.4h-1.4zM53.0 358.5h1.4v1.4h-1.4zM50.0 359.5h1.4v1.4h-1.4zM55.2 358.7h1.4v1.4h-1.4zM108.8 355.6h1.4v1.4h-1.4zM50.9 357.8h1.4v1.4h-1.4zM94.0 354.6h1.4v1.4h-1.4zM49.8 353.5h1.4v1.4h-1.4zM52.1 353.0h1.4v1.4h-1.4zM56.8 358.1h1.4v1.4h-1.4zM53.3 354.8h1.4v1.4h-1.4zM49.1 356.3h1.4v1.4h-1.4zM93.0 353.3h1.4v1.4h-1.4zM95.1 354.4h1.4v1.4h-1.4zM92.8 357.5h1.4v1.4h-1.4zM90.9 356.5h1.4v1.4h-1.4zM49.1 358.1h1.4v1.4h-1.4zM90.2 356.0h1.4v1.4h-1.4zM52.1 355.0h1.4v1.4h-1.4zM100.1 359.4h1.4v1.4h-1.4zM95.8 356.5h1.4v1.4h-1.4zM97.8 355.6h1.4v1.4h-1.4zM91.1 353.9h1.4v1.4h-1.4zM84.1 360.1h1.4v1.4h-1.4zM53.9 356.0h1.4v1.4h-1.4zM54.9 354.9h1.4v1.4h-1.4zM86.5 354.7h1.4v1.4h-1.4zM99.4 360.4h1.4v1.4h-1.4zM54.6 354.2h1.4v1.4h-1.4zM90.5 353.8h1.4v1.4h-1.4zM55.4 358.1h1.4v1.4h-1.4zM48.9 357.1h1.4v1.4h-1.4zM98.8 356.3h1.4v1.4h-1.4zM93.3 359.9h1.4v1.4h-1.4zM52.4 360.1h1.4v1.4h-1.4zM90.7 357.1h1.4v1.4h-1.4zM98.5 357.2h1.4v1.4h-1.4zM91.6 359.1h1.4v1.4h-1.4zM99.4 357.0h1.4v1.4h-1.4zM51.8 357.7h1.4v1.4h-1.4zM50.3 354.2h1.4v1.4h-1.4zM94.2 357.8h1.4v1.4h-1.4zM100.1 359.7h1.4v1.4h-1.4zM100.8 355.5h1.4v1.4h-1.4zM87.9 355.6h1.4v1.4h-1.4zM91.8 360.1h1.4v1.4h-1.4zM99.2 353.2h1.4v1.4h-1.4zM52.8 356.1h1.4v1.4h-1.4zM48.3 355.3h1.4v1.4h-1.4zM94.0 354.9h1.4v1.4h-1.4zM92.2 356.1h1.4v1.4h-1.4zM85.6 354.0h1.4v1.4h-1.4zM50.3 359.7h1.4v1.4h-1.4zM92.9 357.6h1.4v1.4h-1.4zM93.2 356.7h1.4v1.4h-1.4zM50.2 355.4h1.4v1.4h-1.4zM93.9 357.9h1.4v1.4h-1.4zM92.8 360.9h1.4v1.4h-1.4zM97.3 357.3h1.4v1.4h-1.4zM91.6 353.8h1.4v1.4h-1.4zM94.8 354.0h1.4v1.4h-1.4zM86.4 354.4h1.4v1.4h-1.4zM51.9 354.1h1.4v1.4h-1.4zM87.2 358.3h1.4v1.4h-1.4zM91.7 357.5h1.4v1.4h-1.4zM50.9 355.6h1.4v1.4h-1.4zM89.6 355.0h1.4v1.4h-1.4zM97.8 359.9h1.4v1.4h-1.4zM89.3 361.0h1.4v1.4h-1.4zM56.2 358.5h1.4v1.4h-1.4zM87.2 358.5h1.4v1.4h-1.4zM52.4 357.7h1.4v1.4h-1.4zM54.0 357.6h1.4v1.4h-1.4zM51.7 353.5h1.4v1.4h-1.4zM52.3 353.8h1.4v1.4h-1.4zM90.5 359.2h1.4v1.4h-1.4zM89.2 356.2h1.4v1.4h-1.4zM98.5 360.2h1.4v1.4h-1.4zM93.8 354.1h1.4v1.4h-1.4zM90.2 357.7h1.4v1.4h-1.4zM92.9 358.0h1.4v1.4h-1.4zM91.7 359.2h1.4v1.4h-1.4zM52.3 357.7h1.4v1.4h-1.4zM98.9 357.0h1.4v1.4h-1.4zM87.9 353.8h1.4v1.4h-1.4zM54.6 359.2h1.4v1.4h-1.4zM94.4 359.5h1.4v1.4h-1.4zM91.7 354.3h1.4v1.4h-1.4zM90.6 357.2h1.4v1.4h-1.4zM94.3 355.3h1.4v1.4h-1.4zM52.1 356.6h1.4v1.4h-1.4zM91.1 353.5h1.4v1.4h-1.4zM53.2 356.4h1.4v1.4h-1.4zM54.0 355.9h1.4v1.4h-1.4zM93.5 357.7h1.4v1.4h-1.4zM53.5 355.9h1.4v1.4h-1.4zM89.7 357.1h1.4v1.4h-1.4zM51.7 358.6h1.4v1.4h-1.4zM78.7 354.2h1.4v1.4h-1.4zM91.2 355.9h1.4v1.4h-1.4zM84.6 358.8h1.4v1.4h-1.4zM90.5 358.4h1.4v1.4h-1.4zM89.3 359.4h1.4v1.4h-1.4zM52.3 357.8h1.4v1.4h-1.4zM93.6 356.3h1.4v1.4h-1.4zM91.2 354.3h1.4v1.4h-1.4zM55.9 360.5h1.4v1.4h-1.4zM94.8 357.6h1.4v1.4h-1.4zM55.8 357.9h1.4v1.4h-1.4zM89.5 356.9h1.4v1.4h-1.4zM53.5 357.9h1.4v1.4h-1.4zM84.8 359.5h1.4v1.4h-1.4zM53.2 354.0h1.4v1.4h-1.4zM93.2 356.4h1.4v1.4h-1.4zM90.1 354.3h1.4v1.4h-1.4zM50.8 359.0h1.4v1.4h-1.4zM52.1 359.7h1.4v1.4h-1.4zM96.6 356.8h1.4v1.4h-1.4zM53.9 356.4h1.4v1.4h-1.4zM94.0 359.4h1.4v1.4h-1.4zM90.5 357.3h1.4v1.4h-1.4zM101.1 356.0h1.4v1.4h-1.4zM87.1 352.5h1.4v1.4h-1.4zM54.1 360.5h1.4v1.4h-1.4zM85.0 358.6h1.4v1.4h-1.4zM88.6 355.6h1.4v1.4h-1.4zM95.4 359.1h1.4v1.4h-1.4zM96.4 357.0h1.4v1.4h-1.4zM56.2 360.2h1.4v1.4h-1.4zM97.3 357.2h1.4v1.4h-1.4zM51.6 358.5h1.4v1.4h-1.4zM53.7 356.8h1.4v1.4h-1.4zM94.5 355.5h1.4v1.4h-1.4zM88.8 355.9h1.4v1.4h-1.4zM95.2 354.9h1.4v1.4h-1.4zM94.0 354.0h1.4v1.4h-1.4zM99.4 351.9h1.4v1.4h-1.4zM60.3 358.9h1.4v1.4h-1.4zM86.3 353.9h1.4v1.4h-1.4zM77.2 357.9h1.4v1.4h-1.4zM86.5 360.3h1.4v1.4h-1.4zM95.3 355.0h1.4v1.4h-1.4zM68.1 352.8h1.4v1.4h-1.4zM70.8 353.8h1.4v1.4h-1.4zM96.3 355.3h1.4v1.4h-1.4zM74.8 359.2h1.4v1.4h-1.4zM61.5 360.4h1.4v1.4h-1.4zM70.4 354.3h1.4v1.4h-1.4zM70.5 359.6h1.4v1.4h-1.4zM85.0 358.5h1.4v1.4h-1.4zM85.6 359.3h1.4v1.4h-1.4zM61.8 354.2h1.4v1.4h-1.4zM55.3 359.1h1.4v1.4h-1.4zM80.9 360.4h1.4v1.4h-1.4zM71.7 354.0h1.4v1.4h-1.4zM82.7 359.5h1.4v1.4h-1.4zM98.0 356.6h1.4v1.4h-1.4zM101.4 352.9h1.4v1.4h-1.4zM100.7 358.2h1.4v1.4h-1.4zM100.0 359.4h1.4v1.4h-1.4zM100.0 354.5h1.4v1.4h-1.4zM105.1 357.6h1.4v1.4h-1.4zM98.5 360.5h1.4v1.4h-1.4zM102.1 360.3h1.4v1.4h-1.4zM98.0 355.4h1.4v1.4h-1.4zM103.2 358.0h1.4v1.4h-1.4zM102.3 360.6h1.4v1.4h-1.4zM105.3 356.3h1.4v1.4h-1.4zM144.2 339.7h1.4v1.4h-1.4zM165.9 336.4h1.4v1.4h-1.4zM142.3 331.2h1.4v1.4h-1.4zM168.5 320.3h1.4v1.4h-1.4zM146.5 334.4h1.4v1.4h-1.4zM177.2 336.7h1.4v1.4h-1.4zM172.9 332.3h1.4v1.4h-1.4zM151.4 329.4h1.4v1.4h-1.4zM141.6 330.9h1.4v1.4h-1.4zM144.8 333.0h1.4v1.4h-1.4zM180.1 335.3h1.4v1.4h-1.4zM160.9 330.2h1.4v1.4h-1.4zM167.8 337.3h1.4v1.4h-1.4zM157.9 332.8h1.4v1.4h-1.4zM143.8 334.4h1.4v1.4h-1.4zM149.7 334.7h1.4v1.4h-1.4zM155.3 335.0h1.4v1.4h-1.4zM136.3 331.7h1.4v1.4h-1.4zM142.4 334.6h1.4v1.4h-1.4zM152.1 329.3h1.4v1.4h-1.4zM163.7 330.3h1.4v1.4h-1.4zM161.9 336.2h1.4v1.4h-1.4zM151.6 331.8h1.4v1.4h-1.4zM150.7 336.4h1.4v1.4h-1.4zM143.0 331.4h1.4v1.4h-1.4zM143.1 329.3h1.4v1.4h-1.4zM168.1 334.7h1.4v1.4h-1.4zM150.0 335.2h1.4v1.4h-1.4zM153.6 326.7h1.4v1.4h-1.4zM149.5 328.8h1.4v1.4h-1.4zM149.8 332.0h1.4v1.4h-1.4zM149.2 327.2h1.4v1.4h-1.4zM155.9 329.0h1.4v1.4h-1.4zM160.0 331.7h1.4v1.4h-1.4zM159.5 335.3h1.4v1.4h-1.4zM169.9 336.7h1.4v1.4h-1.4zM153.9 335.1h1.4v1.4h-1.4zM161.1 329.8h1.4v1.4h-1.4zM159.6 330.3h1.4v1.4h-1.4zM162.7 329.8h1.4v1.4h-1.4zM158.5 329.2h1.4v1.4h-1.4zM150.7 331.0h1.4v1.4h-1.4zM143.7 330.4h1.4v1.4h-1.4zM163.0 334.6h1.4v1.4h-1.4zM156.8 335.7h1.4v1.4h-1.4zM142.7 332.3h1.4v1.4h-1.4zM150.5 332.1h1.4v1.4h-1.4zM150.2 328.3h1.4v1.4h-1.4zM159.2 341.2h1.4v1.4h-1.4zM138.4 333.8h1.4v1.4h-1.4zM157.7 334.3h1.4v1.4h-1.4zM154.1 338.7h1.4v1.4h-1.4zM171.1 333.2h1.4v1.4h-1.4zM164.5 335.9h1.4v1.4h-1.4zM146.2 334.9h1.4v1.4h-1.4zM145.4 330.5h1.4v1.4h-1.4zM143.6 334.5h1.4v1.4h-1.4zM171.9 333.1h1.4v1.4h-1.4zM155.9 328.9h1.4v1.4h-1.4zM160.9 341.3h1.4v1.4h-1.4zM157.7 323.9h1.4v1.4h-1.4zM169.9 336.0h1.4v1.4h-1.4zM175.0 331.4h1.4v1.4h-1.4zM147.4 330.3h1.4v1.4h-1.4zM137.1 327.8h1.4v1.4h-1.4zM141.4 337.4h1.4v1.4h-1.4zM170.0 339.2h1.4v1.4h-1.4zM166.4 326.2h1.4v1.4h-1.4zM147.4 330.5h1.4v1.4h-1.4zM147.3 337.1h1.4v1.4h-1.4zM143.2 332.3h1.4v1.4h-1.4zM163.3 343.9h1.4v1.4h-1.4zM160.2 329.1h1.4v1.4h-1.4zM155.5 327.2h1.4v1.4h-1.4zM136.1 335.3h1.4v1.4h-1.4zM166.6 330.0h1.4v1.4h-1.4zM171.0 332.2h1.4v1.4h-1.4zM168.4 334.2h1.4v1.4h-1.4zM150.2 332.1h1.4v1.4h-1.4zM160.9 333.4h1.4v1.4h-1.4zM194.3 333.6h1.4v1.4h-1.4zM139.1 329.5h1.4v1.4h-1.4zM169.1 340.6h1.4v1.4h-1.4zM149.1 325.2h1.4v1.4h-1.4zM163.4 338.6h1.4v1.4h-1.4zM144.6 339.8h1.4v1.4h-1.4zM165.5 328.7h1.4v1.4h-1.4zM157.1 335.8h1.4v1.4h-1.4zM162.3 333.5h1.4v1.4h-1.4zM173.5 327.3h1.4v1.4h-1.4zM164.4 336.8h1.4v1.4h-1.4zM147.1 332.7h1.4v1.4h-1.4zM154.8 336.1h1.4v1.4h-1.4zM157.6 335.2h1.4v1.4h-1.4zM135.7 331.3h1.4v1.4h-1.4zM164.6 329.3h1.4v1.4h-1.4zM171.6 335.2h1.4v1.4h-1.4zM175.0 334.2h1.4v1.4h-1.4zM146.6 333.6h1.4v1.4h-1.4zM175.8 336.3h1.4v1.4h-1.4zM138.8 338.8h1.4v1.4h-1.4zM180.8 338.1h1.4v1.4h-1.4zM160.4 328.7h1.4v1.4h-1.4zM174.7 332.8h1.4v1.4h-1.4zM187.0 332.3h1.4v1.4h-1.4zM145.9 334.7h1.4v1.4h-1.4zM159.8 335.6h1.4v1.4h-1.4zM145.0 333.8h1.4v1.4h-1.4zM165.8 335.6h1.4v1.4h-1.4zM155.9 330.7h1.4v1.4h-1.4zM146.4 337.5h1.4v1.4h-1.4zM143.7 331.0h1.4v1.4h-1.4zM154.9 338.4h1.4v1.4h-1.4zM152.0 324.0h1.4v1.4h-1.4zM154.0 327.5h1.4v1.4h-1.4zM160.7 328.7h1.4v1.4h-1.4zM149.5 330.4h1.4v1.4h-1.4zM182.1 336.2h1.4v1.4h-1.4zM156.8 328.7h1.4v1.4h-1.4zM140.9 330.5h1.4v1.4h-1.4zM153.5 334.2h1.4v1.4h-1.4zM159.5 333.5h1.4v1.4h-1.4zM149.5 324.6h1.4v1.4h-1.4zM146.5 335.2h1.4v1.4h-1.4zM148.1 333.4h1.4v1.4h-1.4zM152.2 339.2h1.4v1.4h-1.4zM165.3 334.6h1.4v1.4h-1.4zM144.7 330.2h1.4v1.4h-1.4zM160.9 331.3h1.4v1.4h-1.4zM146.9 328.7h1.4v1.4h-1.4zM151.9 334.0h1.4v1.4h-1.4zM168.3 330.2h1.4v1.4h-1.4zM167.5 335.2h1.4v1.4h-1.4zM166.5 339.1h1.4v1.4h-1.4zM155.4 326.5h1.4v1.4h-1.4zM182.3 339.8h1.4v1.4h-1.4zM159.4 330.4h1.4v1.4h-1.4zM154.4 338.6h1.4v1.4h-1.4zM146.3 334.2h1.4v1.4h-1.4zM152.6 329.5h1.4v1.4h-1.4zM146.7 334.5h1.4v1.4h-1.4zM185.5 330.4h1.4v1.4h-1.4zM182.1 334.4h1.4v1.4h-1.4zM138.7 337.0h1.4v1.4h-1.4zM161.5 332.7h1.4v1.4h-1.4zM187.9 335.6h1.4v1.4h-1.4zM173.5 329.8h1.4v1.4h-1.4zM155.3 328.7h1.4v1.4h-1.4zM174.5 336.3h1.4v1.4h-1.4zM156.7 328.0h1.4v1.4h-1.4zM153.6 329.7h1.4v1.4h-1.4zM150.6 336.7h1.4v1.4h-1.4zM184.3 330.1h1.4v1.4h-1.4zM138.6 328.8h1.4v1.4h-1.4zM161.2 327.4h1.4v1.4h-1.4zM148.4 336.2h1.4v1.4h-1.4zM135.6 335.5h1.4v1.4h-1.4zM149.9 338.2h1.4v1.4h-1.4zM160.4 336.6h1.4v1.4h-1.4zM168.8 333.4h1.4v1.4h-1.4zM149.1 328.7h1.4v1.4h-1.4zM160.9 330.0h1.4v1.4h-1.4zM149.7 335.7h1.4v1.4h-1.4zM140.2 337.2h1.4v1.4h-1.4zM136.6 328.1h1.4v1.4h-1.4zM171.2 332.8h1.4v1.4h-1.4zM166.2 333.9h1.4v1.4h-1.4zM166.9 333.2h1.4v1.4h-1.4zM157.8 330.0h1.4v1.4h-1.4zM181.0 334.9h1.4v1.4h-1.4zM167.0 337.7h1.4v1.4h-1.4zM151.3 333.3h1.4v1.4h-1.4zM151.6 331.8h1.4v1.4h-1.4zM176.0 335.9h1.4v1.4h-1.4zM149.9 334.6h1.4v1.4h-1.4zM162.4 338.9h1.4v1.4h-1.4zM167.3 336.4h1.4v1.4h-1.4zM145.1 328.9h1.4v1.4h-1.4zM143.6 324.2h1.4v1.4h-1.4zM152.6 335.1h1.4v1.4h-1.4zM156.6 337.7h1.4v1.4h-1.4zM160.5 333.5h1.4v1.4h-1.4zM146.8 329.9h1.4v1.4h-1.4zM148.4 332.7h1.4v1.4h-1.4zM155.7 330.8h1.4v1.4h-1.4zM166.0 338.0h1.4v1.4h-1.4zM169.1 330.6h1.4v1.4h-1.4zM150.4 334.6h1.4v1.4h-1.4zM148.3 339.4h1.4v1.4h-1.4zM146.3 341.4h1.4v1.4h-1.4zM151.4 330.7h1.4v1.4h-1.4zM138.3 330.6h1.4v1.4h-1.4zM142.4 334.5h1.4v1.4h-1.4zM166.6 333.1h1.4v1.4h-1.4zM147.8 332.9h1.4v1.4h-1.4zM147.0 337.7h1.4v1.4h-1.4zM172.3 337.5h1.4v1.4h-1.4zM136.0 328.9h1.4v1.4h-1.4zM156.4 333.6h1.4v1.4h-1.4zM152.7 333.1h1.4v1.4h-1.4zM170.3 337.5h1.4v1.4h-1.4zM163.0 336.1h1.4v1.4h-1.4zM147.2 334.7h1.4v1.4h-1.4zM178.0 329.3h1.4v1.4h-1.4zM155.9 338.0h1.4v1.4h-1.4zM169.7 333.4h1.4v1.4h-1.4zM147.3 332.9h1.4v1.4h-1.4zM163.9 331.8h1.4v1.4h-1.4zM178.8 340.3h1.4v1.4h-1.4zM171.9 335.3h1.4v1.4h-1.4zM138.3 338.4h1.4v1.4h-1.4zM147.4 330.7h1.4v1.4h-1.4zM154.5 334.6h1.4v1.4h-1.4zM156.0 335.8h1.4v1.4h-1.4zM179.0 332.4h1.4v1.4h-1.4zM159.1 335.5h1.4v1.4h-1.4zM139.4 339.7h1.4v1.4h-1.4zM150.3 331.5h1.4v1.4h-1.4zM134.8 328.4h1.4v1.4h-1.4zM170.7 332.8h1.4v1.4h-1.4zM168.4 332.1h1.4v1.4h-1.4zM157.9 330.5h1.4v1.4h-1.4zM174.6 333.1h1.4v1.4h-1.4zM163.5 331.8h1.4v1.4h-1.4zM164.8 337.4h1.4v1.4h-1.4zM159.5 331.1h1.4v1.4h-1.4zM146.9 332.2h1.4v1.4h-1.4zM151.6 327.1h1.4v1.4h-1.4zM150.0 333.0h1.4v1.4h-1.4zM150.1 332.9h1.4v1.4h-1.4zM141.6 339.8h1.4v1.4h-1.4zM148.3 332.1h1.4v1.4h-1.4zM154.0 333.3h1.4v1.4h-1.4zM166.4 333.0h1.4v1.4h-1.4zM157.5 331.8h1.4v1.4h-1.4zM146.6 332.8h1.4v1.4h-1.4zM137.2 333.4h1.4v1.4h-1.4zM161.2 326.8h1.4v1.4h-1.4zM141.6 335.4h1.4v1.4h-1.4zM164.2 343.4h1.4v1.4h-1.4zM165.2 338.2h1.4v1.4h-1.4zM159.6 332.9h1.4v1.4h-1.4zM158.6 332.0h1.4v1.4h-1.4zM146.7 334.0h1.4v1.4h-1.4zM141.8 331.8h1.4v1.4h-1.4zM139.0 333.1h1.4v1.4h-1.4zM160.1 333.9h1.4v1.4h-1.4zM150.5 334.9h1.4v1.4h-1.4zM168.9 328.1h1.4v1.4h-1.4zM151.3 335.2h1.4v1.4h-1.4zM161.3 330.0h1.4v1.4h-1.4zM173.6 338.2h1.4v1.4h-1.4zM194.4 334.7h1.4v1.4h-1.4zM160.2 337.5h1.4v1.4h-1.4zM157.7 334.8h1.4v1.4h-1.4zM171.1 337.0h1.4v1.4h-1.4zM159.2 332.4h1.4v1.4h-1.4zM150.5 331.2h1.4v1.4h-1.4zM153.3 335.2h1.4v1.4h-1.4zM146.1 335.0h1.4v1.4h-1.4zM172.7 332.8h1.4v1.4h-1.4zM150.6 339.1h1.4v1.4h-1.4zM169.7 331.0h1.4v1.4h-1.4zM151.4 334.7h1.4v1.4h-1.4zM173.2 330.8h1.4v1.4h-1.4zM150.8 337.3h1.4v1.4h-1.4zM177.1 332.5h1.4v1.4h-1.4zM185.2 336.8h1.4v1.4h-1.4zM154.5 332.4h1.4v1.4h-1.4zM150.6 327.6h1.4v1.4h-1.4zM177.1 334.9h1.4v1.4h-1.4zM149.4 333.7h1.4v1.4h-1.4zM153.9 327.7h1.4v1.4h-1.4zM141.3 332.1h1.4v1.4h-1.4zM159.5 331.1h1.4v1.4h-1.4zM151.4 334.3h1.4v1.4h-1.4zM161.5 335.4h1.4v1.4h-1.4zM183.3 332.5h1.4v1.4h-1.4zM146.4 337.1h1.4v1.4h-1.4zM143.9 337.1h1.4v1.4h-1.4zM154.7 334.8h1.4v1.4h-1.4zM156.3 335.3h1.4v1.4h-1.4zM142.4 336.5h1.4v1.4h-1.4zM166.7 331.2h1.4v1.4h-1.4zM140.9 331.7h1.4v1.4h-1.4zM162.2 329.2h1.4v1.4h-1.4zM164.3 331.3h1.4v1.4h-1.4zM147.1 329.2h1.4v1.4h-1.4zM148.7 334.1h1.4v1.4h-1.4zM157.3 330.1h1.4v1.4h-1.4zM154.4 336.1h1.4v1.4h-1.4zM157.0 335.9h1.4v1.4h-1.4zM147.4 332.2h1.4v1.4h-1.4zM170.6 338.6h1.4v1.4h-1.4zM155.7 337.5h1.4v1.4h-1.4zM168.6 335.1h1.4v1.4h-1.4zM143.2 333.6h1.4v1.4h-1.4zM139.3 332.7h1.4v1.4h-1.4zM162.5 329.4h1.4v1.4h-1.4zM152.4 339.3h1.4v1.4h-1.4zM160.7 330.7h1.4v1.4h-1.4zM144.0 333.0h1.4v1.4h-1.4zM155.1 335.4h1.4v1.4h-1.4zM173.5 339.1h1.4v1.4h-1.4zM157.5 328.2h1.4v1.4h-1.4zM157.7 329.4h1.4v1.4h-1.4zM155.4 335.1h1.4v1.4h-1.4zM181.6 329.4h1.4v1.4h-1.4zM157.1 334.5h1.4v1.4h-1.4zM167.7 337.5h1.4v1.4h-1.4zM168.7 329.0h1.4v1.4h-1.4zM163.0 333.7h1.4v1.4h-1.4zM164.5 327.3h1.4v1.4h-1.4zM145.1 333.7h1.4v1.4h-1.4zM173.1 333.5h1.4v1.4h-1.4zM168.5 341.6h1.4v1.4h-1.4zM180.8 334.4h1.4v1.4h-1.4zM144.1 330.8h1.4v1.4h-1.4zM158.7 333.5h1.4v1.4h-1.4zM185.4 329.0h1.4v1.4h-1.4zM147.9 335.0h1.4v1.4h-1.4zM171.6 330.0h1.4v1.4h-1.4zM153.6 333.2h1.4v1.4h-1.4zM145.8 330.3h1.4v1.4h-1.4zM168.5 329.8h1.4v1.4h-1.4zM166.6 334.1h1.4v1.4h-1.4zM162.2 335.2h1.4v1.4h-1.4zM151.3 326.1h1.4v1.4h-1.4zM170.9 334.8h1.4v1.4h-1.4zM160.7 329.8h1.4v1.4h-1.4zM177.0 335.0h1.4v1.4h-1.4zM149.4 334.7h1.4v1.4h-1.4zM153.4 329.7h1.4v1.4h-1.4zM147.7 333.2h1.4v1.4h-1.4zM138.1 335.0h1.4v1.4h-1.4zM163.2 336.7h1.4v1.4h-1.4zM163.1 330.1h1.4v1.4h-1.4zM164.4 339.5h1.4v1.4h-1.4zM153.7 334.5h1.4v1.4h-1.4zM165.7 336.2h1.4v1.4h-1.4zM148.2 339.5h1.4v1.4h-1.4zM158.2 336.3h1.4v1.4h-1.4zM173.4 331.0h1.4v1.4h-1.4zM148.3 335.0h1.4v1.4h-1.4zM157.0 335.1h1.4v1.4h-1.4zM190.6 333.8h1.4v1.4h-1.4zM174.4 324.7h1.4v1.4h-1.4zM138.2 339.2h1.4v1.4h-1.4zM147.4 334.9h1.4v1.4h-1.4zM151.0 329.1h1.4v1.4h-1.4zM184.7 335.8h1.4v1.4h-1.4zM150.3 335.0h1.4v1.4h-1.4zM176.6 334.6h1.4v1.4h-1.4zM160.5 329.1h1.4v1.4h-1.4zM153.2 338.7h1.4v1.4h-1.4zM168.9 337.9h1.4v1.4h-1.4zM144.3 329.1h1.4v1.4h-1.4zM149.6 333.0h1.4v1.4h-1.4zM156.8 328.6h1.4v1.4h-1.4zM170.2 333.2h1.4v1.4h-1.4zM163.1 333.2h1.4v1.4h-1.4zM151.7 329.8h1.4v1.4h-1.4zM138.5 334.5h1.4v1.4h-1.4zM161.2 325.4h1.4v1.4h-1.4zM188.8 336.3h1.4v1.4h-1.4zM146.6 329.5h1.4v1.4h-1.4zM147.6 335.1h1.4v1.4h-1.4zM166.0 341.8h1.4v1.4h-1.4zM146.5 336.0h1.4v1.4h-1.4zM160.1 332.3h1.4v1.4h-1.4zM176.7 334.7h1.4v1.4h-1.4zM152.1 338.6h1.4v1.4h-1.4zM151.5 336.8h1.4v1.4h-1.4zM142.3 328.4h1.4v1.4h-1.4zM163.8 334.7h1.4v1.4h-1.4zM134.8 337.6h1.4v1.4h-1.4zM156.2 330.5h1.4v1.4h-1.4zM157.7 331.8h1.4v1.4h-1.4zM148.8 328.5h1.4v1.4h-1.4zM169.5 331.3h1.4v1.4h-1.4zM157.4 338.0h1.4v1.4h-1.4zM171.7 329.5h1.4v1.4h-1.4zM172.7 336.1h1.4v1.4h-1.4zM173.5 329.9h1.4v1.4h-1.4zM151.8 336.8h1.4v1.4h-1.4zM156.0 335.1h1.4v1.4h-1.4zM183.1 329.5h1.4v1.4h-1.4zM155.6 334.8h1.4v1.4h-1.4zM153.4 330.0h1.4v1.4h-1.4zM169.2 333.2h1.4v1.4h-1.4zM168.6 337.9h1.4v1.4h-1.4zM149.1 336.8h1.4v1.4h-1.4zM155.5 327.8h1.4v1.4h-1.4zM165.0 329.3h1.4v1.4h-1.4zM142.3 332.3h1.4v1.4h-1.4zM161.8 330.9h1.4v1.4h-1.4zM147.2 334.6h1.4v1.4h-1.4zM146.6 327.2h1.4v1.4h-1.4zM156.3 336.5h1.4v1.4h-1.4zM165.0 330.2h1.4v1.4h-1.4zM148.5 333.3h1.4v1.4h-1.4zM165.2 335.8h1.4v1.4h-1.4zM158.6 335.8h1.4v1.4h-1.4zM175.0 333.0h1.4v1.4h-1.4zM152.1 335.4h1.4v1.4h-1.4zM158.1 330.8h1.4v1.4h-1.4zM167.3 327.1h1.4v1.4h-1.4zM158.0 329.6h1.4v1.4h-1.4zM155.0 331.1h1.4v1.4h-1.4zM162.5 328.6h1.4v1.4h-1.4zM153.2 330.4h1.4v1.4h-1.4zM150.8 335.4h1.4v1.4h-1.4zM135.5 332.6h1.4v1.4h-1.4zM147.3 327.5h1.4v1.4h-1.4zM171.0 335.3h1.4v1.4h-1.4zM149.9 326.9h1.4v1.4h-1.4zM165.4 335.3h1.4v1.4h-1.4zM159.9 336.0h1.4v1.4h-1.4zM158.2 335.3h1.4v1.4h-1.4zM146.2 332.5h1.4v1.4h-1.4zM173.6 329.3h1.4v1.4h-1.4zM180.3 329.5h1.4v1.4h-1.4zM142.6 332.6h1.4v1.4h-1.4zM165.6 329.6h1.4v1.4h-1.4zM164.7 338.8h1.4v1.4h-1.4zM169.2 332.5h1.4v1.4h-1.4zM143.3 332.5h1.4v1.4h-1.4zM136.5 327.5h1.4v1.4h-1.4zM161.2 336.7h1.4v1.4h-1.4zM136.4 325.7h1.4v1.4h-1.4zM145.0 333.6h1.4v1.4h-1.4zM160.3 335.0h1.4v1.4h-1.4zM138.0 341.8h1.4v1.4h-1.4zM150.4 328.0h1.4v1.4h-1.4zM141.6 331.1h1.4v1.4h-1.4zM142.9 334.7h1.4v1.4h-1.4zM170.7 333.2h1.4v1.4h-1.4zM134.7 329.6h1.4v1.4h-1.4zM161.6 328.4h1.4v1.4h-1.4zM151.9 328.8h1.4v1.4h-1.4zM173.2 336.2h1.4v1.4h-1.4zM172.2 330.7h1.4v1.4h-1.4zM153.1 334.8h1.4v1.4h-1.4zM154.4 331.9h1.4v1.4h-1.4zM152.8 329.4h1.4v1.4h-1.4zM160.0 328.0h1.4v1.4h-1.4zM166.2 335.4h1.4v1.4h-1.4zM170.9 333.2h1.4v1.4h-1.4zM172.6 336.6h1.4v1.4h-1.4zM143.8 334.7h1.4v1.4h-1.4zM168.7 334.1h1.4v1.4h-1.4zM149.0 338.6h1.4v1.4h-1.4zM157.3 333.5h1.4v1.4h-1.4zM146.5 332.2h1.4v1.4h-1.4zM166.2 333.3h1.4v1.4h-1.4zM160.7 330.1h1.4v1.4h-1.4zM144.3 339.1h1.4v1.4h-1.4zM159.2 331.1h1.4v1.4h-1.4zM161.3 335.2h1.4v1.4h-1.4zM158.0 324.7h1.4v1.4h-1.4zM148.5 332.8h1.4v1.4h-1.4zM168.8 335.8h1.4v1.4h-1.4zM152.3 336.4h1.4v1.4h-1.4zM173.4 337.9h1.4v1.4h-1.4zM146.5 330.1h1.4v1.4h-1.4zM144.1 334.8h1.4v1.4h-1.4zM155.8 327.9h1.4v1.4h-1.4zM145.6 333.0h1.4v1.4h-1.4zM146.1 331.5h1.4v1.4h-1.4zM147.4 331.1h1.4v1.4h-1.4zM168.2 329.2h1.4v1.4h-1.4zM162.0 331.2h1.4v1.4h-1.4zM151.5 336.9h1.4v1.4h-1.4zM161.4 333.0h1.4v1.4h-1.4zM151.6 336.7h1.4v1.4h-1.4zM163.1 331.2h1.4v1.4h-1.4zM163.8 337.6h1.4v1.4h-1.4zM153.2 340.4h1.4v1.4h-1.4zM169.4 324.3h1.4v1.4h-1.4zM154.5 330.3h1.4v1.4h-1.4zM145.2 337.5h1.4v1.4h-1.4zM158.0 336.2h1.4v1.4h-1.4zM138.2 338.1h1.4v1.4h-1.4zM167.0 330.7h1.4v1.4h-1.4zM156.1 338.4h1.4v1.4h-1.4zM136.0 332.4h1.4v1.4h-1.4zM156.5 330.8h1.4v1.4h-1.4zM169.7 334.2h1.4v1.4h-1.4zM138.2 332.2h1.4v1.4h-1.4zM157.0 330.7h1.4v1.4h-1.4zM154.2 327.4h1.4v1.4h-1.4zM135.0 328.5h1.4v1.4h-1.4zM139.4 331.5h1.4v1.4h-1.4zM163.8 335.0h1.4v1.4h-1.4zM168.7 334.3h1.4v1.4h-1.4zM158.8 331.2h1.4v1.4h-1.4zM144.2 330.1h1.4v1.4h-1.4zM145.8 339.9h1.4v1.4h-1.4zM156.3 328.3h1.4v1.4h-1.4zM148.7 332.7h1.4v1.4h-1.4zM138.8 339.8h1.4v1.4h-1.4zM156.1 338.6h1.4v1.4h-1.4zM164.6 334.4h1.4v1.4h-1.4zM161.7 337.4h1.4v1.4h-1.4zM160.5 331.4h1.4v1.4h-1.4zM145.3 330.0h1.4v1.4h-1.4zM160.3 331.6h1.4v1.4h-1.4zM173.2 327.5h1.4v1.4h-1.4zM159.0 330.9h1.4v1.4h-1.4zM155.1 335.7h1.4v1.4h-1.4zM157.8 335.8h1.4v1.4h-1.4zM168.4 335.0h1.4v1.4h-1.4zM160.1 331.2h1.4v1.4h-1.4zM162.8 331.0h1.4v1.4h-1.4zM160.5 331.4h1.4v1.4h-1.4zM147.2 334.8h1.4v1.4h-1.4zM158.4 335.9h1.4v1.4h-1.4zM146.5 344.9h1.4v1.4h-1.4zM153.1 333.4h1.4v1.4h-1.4zM170.9 335.0h1.4v1.4h-1.4zM173.7 335.4h1.4v1.4h-1.4zM151.3 328.6h1.4v1.4h-1.4zM142.2 331.4h1.4v1.4h-1.4zM155.5 334.9h1.4v1.4h-1.4zM159.5 330.0h1.4v1.4h-1.4zM167.1 331.7h1.4v1.4h-1.4zM171.5 337.3h1.4v1.4h-1.4zM146.4 334.3h1.4v1.4h-1.4zM155.1 331.0h1.4v1.4h-1.4zM146.4 334.0h1.4v1.4h-1.4zM142.8 337.2h1.4v1.4h-1.4zM148.1 331.3h1.4v1.4h-1.4zM141.8 332.0h1.4v1.4h-1.4zM164.0 335.7h1.4v1.4h-1.4zM171.2 336.2h1.4v1.4h-1.4zM158.4 345.3h1.4v1.4h-1.4zM161.3 347.3h1.4v1.4h-1.4zM164.0 345.9h1.4v1.4h-1.4zM159.7 356.6h1.4v1.4h-1.4zM163.6 344.4h1.4v1.4h-1.4zM163.9 348.7h1.4v1.4h-1.4zM157.4 356.4h1.4v1.4h-1.4zM159.4 345.5h1.4v1.4h-1.4zM161.5 345.7h1.4v1.4h-1.4zM164.9 354.4h1.4v1.4h-1.4zM163.4 350.6h1.4v1.4h-1.4zM161.9 341.8h1.4v1.4h-1.4zM161.4 347.9h1.4v1.4h-1.4zM166.5 353.7h1.4v1.4h-1.4zM162.0 351.5h1.4v1.4h-1.4zM158.0 352.3h1.4v1.4h-1.4zM160.4 344.6h1.4v1.4h-1.4zM158.6 349.5h1.4v1.4h-1.4zM162.1 346.1h1.4v1.4h-1.4zM166.0 349.0h1.4v1.4h-1.4zM163.8 350.8h1.4v1.4h-1.4zM158.3 347.6h1.4v1.4h-1.4zM161.4 339.6h1.4v1.4h-1.4zM167.5 339.8h1.4v1.4h-1.4zM158.7 345.2h1.4v1.4h-1.4zM152.3 348.9h1.4v1.4h-1.4zM154.0 339.2h1.4v1.4h-1.4zM156.3 354.8h1.4v1.4h-1.4zM157.2 354.6h1.4v1.4h-1.4zM158.1 346.3h1.4v1.4h-1.4zM159.7 345.2h1.4v1.4h-1.4zM164.2 348.0h1.4v1.4h-1.4zM156.3 344.9h1.4v1.4h-1.4zM159.1 354.3h1.4v1.4h-1.4zM156.8 351.2h1.4v1.4h-1.4zM164.8 340.2h1.4v1.4h-1.4zM158.1 344.1h1.4v1.4h-1.4zM167.1 336.3h1.4v1.4h-1.4zM157.0 349.8h1.4v1.4h-1.4zM162.7 357.2h1.4v1.4h-1.4zM164.3 349.2h1.4v1.4h-1.4zM162.2 350.1h1.4v1.4h-1.4zM158.4 340.3h1.4v1.4h-1.4zM167.4 347.9h1.4v1.4h-1.4zM150.5 348.6h1.4v1.4h-1.4zM158.6 353.3h1.4v1.4h-1.4zM172.0 354.6h1.4v1.4h-1.4zM155.8 347.3h1.4v1.4h-1.4zM157.5 348.8h1.4v1.4h-1.4zM153.0 353.7h1.4v1.4h-1.4zM149.4 352.4h1.4v1.4h-1.4zM158.9 347.6h1.4v1.4h-1.4zM160.3 345.1h1.4v1.4h-1.4zM157.8 356.4h1.4v1.4h-1.4zM153.8 348.0h1.4v1.4h-1.4zM162.1 350.1h1.4v1.4h-1.4zM154.0 353.8h1.4v1.4h-1.4zM161.0 356.9h1.4v1.4h-1.4zM166.2 352.3h1.4v1.4h-1.4zM160.9 346.8h1.4v1.4h-1.4zM162.8 350.0h1.4v1.4h-1.4zM158.2 351.5h1.4v1.4h-1.4zM165.5 345.5h1.4v1.4h-1.4zM163.8 343.3h1.4v1.4h-1.4zM162.1 344.5h1.4v1.4h-1.4zM153.9 351.4h1.4v1.4h-1.4zM154.2 357.4h1.4v1.4h-1.4zM164.5 343.8h1.4v1.4h-1.4zM165.5 350.8h1.4v1.4h-1.4zM153.5 350.5h1.4v1.4h-1.4zM166.9 353.0h1.4v1.4h-1.4zM162.6 356.2h1.4v1.4h-1.4zM169.6 359.0h1.4v1.4h-1.4zM151.5 364.2h1.4v1.4h-1.4zM143.2 363.4h1.4v1.4h-1.4zM159.3 365.4h1.4v1.4h-1.4zM181.1 365.2h1.4v1.4h-1.4zM154.5 361.9h1.4v1.4h-1.4zM164.5 363.5h1.4v1.4h-1.4zM164.2 356.5h1.4v1.4h-1.4zM162.6 353.3h1.4v1.4h-1.4zM151.0 361.5h1.4v1.4h-1.4zM175.5 358.0h1.4v1.4h-1.4zM169.0 369.5h1.4v1.4h-1.4zM164.6 358.2h1.4v1.4h-1.4zM150.4 359.6h1.4v1.4h-1.4zM166.9 367.2h1.4v1.4h-1.4zM168.9 363.5h1.4v1.4h-1.4zM158.7 358.4h1.4v1.4h-1.4zM159.8 362.6h1.4v1.4h-1.4zM172.6 362.4h1.4v1.4h-1.4zM152.5 364.9h1.4v1.4h-1.4zM162.1 360.7h1.4v1.4h-1.4zM149.7 354.3h1.4v1.4h-1.4zM155.6 363.2h1.4v1.4h-1.4zM159.7 358.6h1.4v1.4h-1.4zM154.1 367.2h1.4v1.4h-1.4zM157.2 354.9h1.4v1.4h-1.4zM148.4 353.5h1.4v1.4h-1.4zM146.2 358.4h1.4v1.4h-1.4zM171.1 356.7h1.4v1.4h-1.4zM158.9 362.0h1.4v1.4h-1.4zM156.1 355.2h1.4v1.4h-1.4zM158.8 359.3h1.4v1.4h-1.4zM175.5 355.9h1.4v1.4h-1.4zM145.0 366.9h1.4v1.4h-1.4zM145.9 363.0h1.4v1.4h-1.4zM142.6 360.2h1.4v1.4h-1.4zM146.7 359.2h1.4v1.4h-1.4zM146.4 364.5h1.4v1.4h-1.4zM152.7 366.7h1.4v1.4h-1.4zM165.2 359.2h1.4v1.4h-1.4zM154.5 359.9h1.4v1.4h-1.4zM166.2 352.1h1.4v1.4h-1.4zM145.3 366.0h1.4v1.4h-1.4zM165.5 360.9h1.4v1.4h-1.4zM164.8 356.4h1.4v1.4h-1.4zM142.5 355.6h1.4v1.4h-1.4zM153.0 352.3h1.4v1.4h-1.4zM146.6 360.8h1.4v1.4h-1.4zM154.3 366.2h1.4v1.4h-1.4zM158.4 369.0h1.4v1.4h-1.4zM160.1 367.6h1.4v1.4h-1.4zM152.7 354.6h1.4v1.4h-1.4zM171.9 364.7h1.4v1.4h-1.4zM146.7 363.7h1.4v1.4h-1.4zM150.0 361.3h1.4v1.4h-1.4zM152.6 358.7h1.4v1.4h-1.4zM151.6 362.9h1.4v1.4h-1.4zM157.0 355.9h1.4v1.4h-1.4zM156.8 364.4h1.4v1.4h-1.4zM150.8 360.0h1.4v1.4h-1.4zM157.9 366.7h1.4v1.4h-1.4zM166.5 366.4h1.4v1.4h-1.4zM157.7 358.1h1.4v1.4h-1.4zM161.3 354.5h1.4v1.4h-1.4zM161.9 355.0h1.4v1.4h-1.4zM156.3 368.0h1.4v1.4h-1.4zM160.0 362.9h1.4v1.4h-1.4zM149.4 361.8h1.4v1.4h-1.4zM153.9 355.8h1.4v1.4h-1.4zM154.0 357.2h1.4v1.4h-1.4zM167.8 364.3h1.4v1.4h-1.4zM155.1 360.5h1.4v1.4h-1.4zM156.5 362.6h1.4v1.4h-1.4zM165.2 350.7h1.4v1.4h-1.4zM171.8 361.2h1.4v1.4h-1.4zM167.2 365.3h1.4v1.4h-1.4zM149.8 362.5h1.4v1.4h-1.4zM163.5 356.3h1.4v1.4h-1.4zM175.5 359.0h1.4v1.4h-1.4zM151.3 363.4h1.4v1.4h-1.4zM157.5 367.7h1.4v1.4h-1.4zM168.0 362.1h1.4v1.4h-1.4zM155.7 365.6h1.4v1.4h-1.4zM160.0 356.4h1.4v1.4h-1.4zM162.5 363.8h1.4v1.4h-1.4zM149.8 349.8h1.4v1.4h-1.4zM161.2 356.1h1.4v1.4h-1.4zM151.4 349.1h1.4v1.4h-1.4zM158.8 355.2h1.4v1.4h-1.4zM153.0 356.8h1.4v1.4h-1.4zM154.5 360.4h1.4v1.4h-1.4zM164.5 358.5h1.4v1.4h-1.4zM173.9 365.7h1.4v1.4h-1.4zM153.8 367.5h1.4v1.4h-1.4zM146.2 368.3h1.4v1.4h-1.4zM155.9 357.3h1.4v1.4h-1.4zM161.3 369.5h1.4v1.4h-1.4zM162.5 359.8h1.4v1.4h-1.4zM148.5 369.7h1.4v1.4h-1.4zM164.9 361.5h1.4v1.4h-1.4zM160.8 358.6h1.4v1.4h-1.4zM165.6 364.0h1.4v1.4h-1.4zM162.9 365.7h1.4v1.4h-1.4zM155.1 368.7h1.4v1.4h-1.4zM167.6 358.8h1.4v1.4h-1.4zM146.3 366.7h1.4v1.4h-1.4zM156.7 355.1h1.4v1.4h-1.4zM156.6 354.7h1.4v1.4h-1.4zM149.4 355.5h1.4v1.4h-1.4zM151.9 364.9h1.4v1.4h-1.4zM148.6 354.4h1.4v1.4h-1.4zM171.1 359.7h1.4v1.4h-1.4zM171.6 362.6h1.4v1.4h-1.4zM150.2 359.1h1.4v1.4h-1.4zM173.4 358.1h1.4v1.4h-1.4zM171.7 364.7h1.4v1.4h-1.4zM151.5 362.1h1.4v1.4h-1.4zM156.9 370.1h1.4v1.4h-1.4zM153.6 363.7h1.4v1.4h-1.4zM168.0 367.9h1.4v1.4h-1.4zM153.3 364.8h1.4v1.4h-1.4zM171.4 364.5h1.4v1.4h-1.4zM151.9 363.2h1.4v1.4h-1.4zM165.1 360.1h1.4v1.4h-1.4zM181.1 358.4h1.4v1.4h-1.4zM164.8 356.7h1.4v1.4h-1.4zM161.7 358.5h1.4v1.4h-1.4zM159.5 367.8h1.4v1.4h-1.4zM158.2 360.5h1.4v1.4h-1.4zM172.8 362.6h1.4v1.4h-1.4zM152.4 359.9h1.4v1.4h-1.4zM143.9 369.5h1.4v1.4h-1.4zM180.7 357.0h1.4v1.4h-1.4zM146.9 359.6h1.4v1.4h-1.4zM170.2 364.8h1.4v1.4h-1.4zM176.1 351.9h1.4v1.4h-1.4zM152.5 360.5h1.4v1.4h-1.4zM145.8 349.9h1.4v1.4h-1.4zM155.8 360.8h1.4v1.4h-1.4zM149.5 363.2h1.4v1.4h-1.4zM140.3 359.2h1.4v1.4h-1.4zM148.7 357.1h1.4v1.4h-1.4zM168.5 356.2h1.4v1.4h-1.4zM157.6 366.6h1.4v1.4h-1.4zM148.1 354.6h1.4v1.4h-1.4zM149.4 353.4h1.4v1.4h-1.4zM154.6 362.2h1.4v1.4h-1.4zM156.1 367.1h1.4v1.4h-1.4zM166.7 358.4h1.4v1.4h-1.4zM155.0 368.0h1.4v1.4h-1.4zM171.6 359.7h1.4v1.4h-1.4zM166.3 350.6h1.4v1.4h-1.4zM148.9 367.8h1.4v1.4h-1.4zM138.5 352.7h1.4v1.4h-1.4zM162.1 356.9h1.4v1.4h-1.4zM169.9 366.7h1.4v1.4h-1.4zM157.3 360.8h1.4v1.4h-1.4zM145.9 350.3h1.4v1.4h-1.4zM170.2 362.8h1.4v1.4h-1.4zM180.1 352.5h1.4v1.4h-1.4zM160.5 367.8h1.4v1.4h-1.4zM142.3 367.9h1.4v1.4h-1.4zM161.4 367.8h1.4v1.4h-1.4zM157.3 356.8h1.4v1.4h-1.4zM144.1 353.8h1.4v1.4h-1.4zM139.2 360.5h1.4v1.4h-1.4zM154.6 357.5h1.4v1.4h-1.4zM166.0 368.9h1.4v1.4h-1.4zM144.1 364.4h1.4v1.4h-1.4zM173.1 342.4h1.4v1.4h-1.4zM164.9 366.4h1.4v1.4h-1.4zM151.5 361.9h1.4v1.4h-1.4zM156.5 361.4h1.4v1.4h-1.4zM162.4 361.4h1.4v1.4h-1.4zM162.6 369.6h1.4v1.4h-1.4zM146.2 365.3h1.4v1.4h-1.4zM136.4 353.6h1.4v1.4h-1.4zM175.0 366.3h1.4v1.4h-1.4zM152.0 363.0h1.4v1.4h-1.4zM149.7 360.2h1.4v1.4h-1.4zM169.8 360.3h1.4v1.4h-1.4zM157.2 354.2h1.4v1.4h-1.4zM160.7 356.3h1.4v1.4h-1.4zM180.6 366.3h1.4v1.4h-1.4zM138.6 357.5h1.4v1.4h-1.4zM160.7 355.4h1.4v1.4h-1.4zM166.1 352.9h1.4v1.4h-1.4zM151.2 361.4h1.4v1.4h-1.4zM155.2 368.3h1.4v1.4h-1.4zM164.9 359.5h1.4v1.4h-1.4zM157.2 370.4h1.4v1.4h-1.4zM141.0 358.8h1.4v1.4h-1.4zM156.8 359.3h1.4v1.4h-1.4zM150.4 362.0h1.4v1.4h-1.4zM171.2 358.3h1.4v1.4h-1.4zM159.2 369.1h1.4v1.4h-1.4zM166.2 365.9h1.4v1.4h-1.4zM139.2 364.8h1.4v1.4h-1.4zM166.5 365.9h1.4v1.4h-1.4zM161.4 359.8h1.4v1.4h-1.4zM155.1 361.1h1.4v1.4h-1.4zM159.4 368.1h1.4v1.4h-1.4zM154.6 356.2h1.4v1.4h-1.4zM145.7 363.0h1.4v1.4h-1.4zM159.7 356.8h1.4v1.4h-1.4zM166.1 351.2h1.4v1.4h-1.4zM149.6 363.1h1.4v1.4h-1.4zM159.6 368.4h1.4v1.4h-1.4zM158.8 369.8h1.4v1.4h-1.4zM157.3 358.9h1.4v1.4h-1.4zM158.8 358.9h1.4v1.4h-1.4zM158.7 369.5h1.4v1.4h-1.4zM157.8 357.7h1.4v1.4h-1.4zM164.2 367.2h1.4v1.4h-1.4zM162.5 358.7h1.4v1.4h-1.4zM152.9 363.5h1.4v1.4h-1.4zM141.9 353.2h1.4v1.4h-1.4zM158.9 365.1h1.4v1.4h-1.4zM164.2 364.3h1.4v1.4h-1.4zM144.6 365.6h1.4v1.4h-1.4zM152.1 359.8h1.4v1.4h-1.4zM144.6 363.3h1.4v1.4h-1.4zM145.9 362.6h1.4v1.4h-1.4zM152.8 360.0h1.4v1.4h-1.4zM144.2 358.1h1.4v1.4h-1.4zM168.8 364.9h1.4v1.4h-1.4zM167.9 368.8h1.4v1.4h-1.4zM149.3 360.3h1.4v1.4h-1.4zM166.0 353.4h1.4v1.4h-1.4zM145.1 364.0h1.4v1.4h-1.4zM158.4 354.6h1.4v1.4h-1.4zM158.8 353.9h1.4v1.4h-1.4zM169.2 356.5h1.4v1.4h-1.4zM172.3 368.7h1.4v1.4h-1.4zM164.3 353.4h1.4v1.4h-1.4zM169.4 352.3h1.4v1.4h-1.4zM163.2 357.9h1.4v1.4h-1.4zM163.5 361.8h1.4v1.4h-1.4zM144.1 366.0h1.4v1.4h-1.4zM142.5 361.0h1.4v1.4h-1.4zM178.5 370.0h1.4v1.4h-1.4zM168.4 366.6h1.4v1.4h-1.4zM176.2 354.9h1.4v1.4h-1.4zM150.0 356.5h1.4v1.4h-1.4zM160.3 351.8h1.4v1.4h-1.4zM155.9 363.2h1.4v1.4h-1.4zM155.1 368.4h1.4v1.4h-1.4zM140.1 353.4h1.4v1.4h-1.4zM158.5 356.3h1.4v1.4h-1.4zM169.0 364.0h1.4v1.4h-1.4zM150.3 362.4h1.4v1.4h-1.4zM146.1 364.7h1.4v1.4h-1.4zM150.6 365.2h1.4v1.4h-1.4zM146.3 357.6h1.4v1.4h-1.4zM165.6 365.8h1.4v1.4h-1.4zM169.9 366.7h1.4v1.4h-1.4zM169.0 355.1h1.4v1.4h-1.4zM163.8 362.5h1.4v1.4h-1.4zM153.8 359.7h1.4v1.4h-1.4zM147.6 359.8h1.4v1.4h-1.4zM146.6 358.5h1.4v1.4h-1.4zM157.5 359.0h1.4v1.4h-1.4zM156.6 367.9h1.4v1.4h-1.4zM149.4 358.8h1.4v1.4h-1.4zM173.2 364.0h1.4v1.4h-1.4zM149.4 360.7h1.4v1.4h-1.4zM160.3 355.2h1.4v1.4h-1.4zM159.8 355.5h1.4v1.4h-1.4zM161.8 360.1h1.4v1.4h-1.4zM146.5 362.7h1.4v1.4h-1.4zM148.3 365.0h1.4v1.4h-1.4zM165.1 354.6h1.4v1.4h-1.4zM159.0 366.1h1.4v1.4h-1.4zM164.8 358.6h1.4v1.4h-1.4zM143.5 355.6h1.4v1.4h-1.4zM151.0 364.9h1.4v1.4h-1.4zM164.4 355.9h1.4v1.4h-1.4zM161.2 363.9h1.4v1.4h-1.4zM149.2 363.5h1.4v1.4h-1.4zM172.1 360.1h1.4v1.4h-1.4zM135.9 354.1h1.4v1.4h-1.4zM162.7 361.9h1.4v1.4h-1.4zM171.2 356.7h1.4v1.4h-1.4zM149.6 361.5h1.4v1.4h-1.4zM143.9 364.3h1.4v1.4h-1.4zM152.0 361.5h1.4v1.4h-1.4zM147.2 365.6h1.4v1.4h-1.4zM141.7 359.6h1.4v1.4h-1.4zM161.3 359.3h1.4v1.4h-1.4zM171.5 359.1h1.4v1.4h-1.4zM151.5 368.9h1.4v1.4h-1.4zM145.5 361.8h1.4v1.4h-1.4zM165.4 364.7h1.4v1.4h-1.4zM161.5 369.6h1.4v1.4h-1.4zM163.9 354.9h1.4v1.4h-1.4zM174.0 357.1h1.4v1.4h-1.4zM183.9 361.2h1.4v1.4h-1.4zM160.7 354.8h1.4v1.4h-1.4zM149.3 361.4h1.4v1.4h-1.4zM170.9 363.3h1.4v1.4h-1.4zM165.3 355.5h1.4v1.4h-1.4zM150.6 361.2h1.4v1.4h-1.4zM146.1 359.2h1.4v1.4h-1.4zM143.6 369.3h1.4v1.4h-1.4zM162.4 359.9h1.4v1.4h-1.4zM166.4 365.6h1.4v1.4h-1.4zM155.4 370.0h1.4v1.4h-1.4zM153.4 360.1h1.4v1.4h-1.4zM165.8 369.7h1.4v1.4h-1.4zM169.8 364.9h1.4v1.4h-1.4zM149.3 363.7h1.4v1.4h-1.4zM157.0 366.5h1.4v1.4h-1.4zM166.5 367.4h1.4v1.4h-1.4zM150.2 351.1h1.4v1.4h-1.4zM153.9 348.7h1.4v1.4h-1.4zM134.1 360.8h1.4v1.4h-1.4zM173.4 345.5h1.4v1.4h-1.4zM162.1 366.2h1.4v1.4h-1.4zM153.0 369.5h1.4v1.4h-1.4zM167.8 367.7h1.4v1.4h-1.4zM156.1 366.3h1.4v1.4h-1.4zM168.8 364.7h1.4v1.4h-1.4zM157.4 358.2h1.4v1.4h-1.4zM163.1 364.5h1.4v1.4h-1.4zM160.0 356.7h1.4v1.4h-1.4zM160.1 356.9h1.4v1.4h-1.4zM174.2 364.2h1.4v1.4h-1.4zM144.5 366.6h1.4v1.4h-1.4zM164.2 367.4h1.4v1.4h-1.4zM147.6 362.5h1.4v1.4h-1.4zM166.5 363.2h1.4v1.4h-1.4zM144.0 353.9h1.4v1.4h-1.4zM163.4 365.0h1.4v1.4h-1.4zM165.9 352.7h1.4v1.4h-1.4zM169.1 359.9h1.4v1.4h-1.4zM178.8 368.5h1.4v1.4h-1.4zM146.7 359.5h1.4v1.4h-1.4zM151.1 357.8h1.4v1.4h-1.4zM164.1 359.8h1.4v1.4h-1.4zM164.3 367.4h1.4v1.4h-1.4zM171.1 365.5h1.4v1.4h-1.4zM171.1 357.6h1.4v1.4h-1.4zM167.6 367.9h1.4v1.4h-1.4zM158.9 353.2h1.4v1.4h-1.4zM174.5 361.9h1.4v1.4h-1.4zM149.0 366.0h1.4v1.4h-1.4zM155.8 366.6h1.4v1.4h-1.4zM167.1 356.1h1.4v1.4h-1.4zM159.0 368.1h1.4v1.4h-1.4zM161.7 366.4h1.4v1.4h-1.4zM164.9 367.8h1.4v1.4h-1.4zM145.1 360.5h1.4v1.4h-1.4zM172.3 364.5h1.4v1.4h-1.4zM164.7 361.3h1.4v1.4h-1.4zM165.3 367.5h1.4v1.4h-1.4zM166.8 363.1h1.4v1.4h-1.4zM144.9 359.4h1.4v1.4h-1.4zM171.2 366.5h1.4v1.4h-1.4zM166.4 364.4h1.4v1.4h-1.4zM169.2 360.0h1.4v1.4h-1.4zM139.7 369.3h1.4v1.4h-1.4zM153.9 361.5h1.4v1.4h-1.4zM165.3 360.6h1.4v1.4h-1.4zM156.1 370.2h1.4v1.4h-1.4zM169.2 363.8h1.4v1.4h-1.4zM165.2 367.1h1.4v1.4h-1.4zM156.1 353.2h1.4v1.4h-1.4zM162.6 356.0h1.4v1.4h-1.4zM158.1 358.7h1.4v1.4h-1.4zM191.5 361.3h1.4v1.4h-1.4zM165.0 358.1h1.4v1.4h-1.4zM184.4 366.4h1.4v1.4h-1.4zM151.1 367.9h1.4v1.4h-1.4zM159.0 360.1h1.4v1.4h-1.4zM164.8 362.2h1.4v1.4h-1.4zM145.3 354.6h1.4v1.4h-1.4zM149.7 362.0h1.4v1.4h-1.4zM160.1 359.2h1.4v1.4h-1.4zM173.9 358.1h1.4v1.4h-1.4zM148.9 364.2h1.4v1.4h-1.4zM159.2 365.2h1.4v1.4h-1.4zM146.7 346.2h1.4v1.4h-1.4zM154.8 352.3h1.4v1.4h-1.4zM161.0 359.7h1.4v1.4h-1.4zM149.5 352.2h1.4v1.4h-1.4zM164.1 355.7h1.4v1.4h-1.4zM176.5 351.0h1.4v1.4h-1.4zM147.9 355.2h1.4v1.4h-1.4zM163.0 358.3h1.4v1.4h-1.4zM155.1 355.9h1.4v1.4h-1.4zM147.3 359.9h1.4v1.4h-1.4zM157.0 366.2h1.4v1.4h-1.4zM165.9 356.3h1.4v1.4h-1.4zM166.0 354.2h1.4v1.4h-1.4zM156.2 354.1h1.4v1.4h-1.4zM152.1 358.1h1.4v1.4h-1.4zM169.1 363.2h1.4v1.4h-1.4zM173.0 359.0h1.4v1.4h-1.4zM171.9 369.3h1.4v1.4h-1.4zM171.1 368.5h1.4v1.4h-1.4zM174.1 359.7h1.4v1.4h-1.4zM153.6 359.5h1.4v1.4h-1.4zM143.1 347.7h1.4v1.4h-1.4zM149.0 361.4h1.4v1.4h-1.4zM152.1 349.7h1.4v1.4h-1.4zM158.5 363.4h1.4v1.4h-1.4zM149.3 364.9h1.4v1.4h-1.4zM147.2 362.9h1.4v1.4h-1.4zM141.3 363.5h1.4v1.4h-1.4zM141.1 363.9h1.4v1.4h-1.4zM156.0 356.5h1.4v1.4h-1.4zM155.1 368.9h1.4v1.4h-1.4zM138.1 368.8h1.4v1.4h-1.4zM167.6 370.3h1.4v1.4h-1.4zM173.1 366.0h1.4v1.4h-1.4zM170.6 363.2h1.4v1.4h-1.4zM155.7 360.3h1.4v1.4h-1.4zM170.5 368.1h1.4v1.4h-1.4zM158.0 365.2h1.4v1.4h-1.4zM164.0 351.6h1.4v1.4h-1.4zM142.4 367.3h1.4v1.4h-1.4zM138.0 358.0h1.4v1.4h-1.4zM152.8 361.3h1.4v1.4h-1.4zM181.1 363.6h1.4v1.4h-1.4zM183.6 358.8h1.4v1.4h-1.4zM165.1 361.0h1.4v1.4h-1.4zM147.5 360.1h1.4v1.4h-1.4zM166.5 360.3h1.4v1.4h-1.4zM144.4 358.3h1.4v1.4h-1.4zM152.0 361.0h1.4v1.4h-1.4zM152.9 364.6h1.4v1.4h-1.4zM170.9 364.9h1.4v1.4h-1.4zM141.6 351.4h1.4v1.4h-1.4zM165.6 366.1h1.4v1.4h-1.4zM161.2 365.7h1.4v1.4h-1.4zM169.9 356.4h1.4v1.4h-1.4zM166.9 367.5h1.4v1.4h-1.4zM149.0 359.7h1.4v1.4h-1.4zM169.8 360.9h1.4v1.4h-1.4zM157.6 362.0h1.4v1.4h-1.4zM161.6 361.5h1.4v1.4h-1.4zM157.0 366.4h1.4v1.4h-1.4zM146.2 359.3h1.4v1.4h-1.4zM155.6 359.0h1.4v1.4h-1.4zM152.6 364.2h1.4v1.4h-1.4zM172.5 360.7h1.4v1.4h-1.4zM152.7 361.4h1.4v1.4h-1.4zM157.2 354.8h1.4v1.4h-1.4zM172.7 370.1h1.4v1.4h-1.4zM179.8 369.3h1.4v1.4h-1.4zM136.9 358.0h1.4v1.4h-1.4zM143.0 369.2h1.4v1.4h-1.4zM160.7 356.2h1.4v1.4h-1.4zM166.9 366.6h1.4v1.4h-1.4zM169.5 362.7h1.4v1.4h-1.4zM149.1 368.5h1.4v1.4h-1.4zM152.3 364.0h1.4v1.4h-1.4zM159.7 365.0h1.4v1.4h-1.4zM153.2 352.8h1.4v1.4h-1.4zM177.3 361.6h1.4v1.4h-1.4zM137.8 358.6h1.4v1.4h-1.4zM156.2 369.2h1.4v1.4h-1.4zM146.1 365.1h1.4v1.4h-1.4zM149.3 359.2h1.4v1.4h-1.4zM175.4 361.1h1.4v1.4h-1.4zM141.0 361.2h1.4v1.4h-1.4zM164.5 359.4h1.4v1.4h-1.4zM166.1 364.0h1.4v1.4h-1.4zM150.6 366.5h1.4v1.4h-1.4zM157.2 359.0h1.4v1.4h-1.4zM160.2 356.4h1.4v1.4h-1.4zM172.6 355.7h1.4v1.4h-1.4zM143.6 364.7h1.4v1.4h-1.4zM153.8 360.2h1.4v1.4h-1.4zM158.0 352.7h1.4v1.4h-1.4zM150.4 365.4h1.4v1.4h-1.4zM155.8 358.4h1.4v1.4h-1.4zM163.5 358.1h1.4v1.4h-1.4zM155.3 357.9h1.4v1.4h-1.4zM157.4 369.7h1.4v1.4h-1.4zM161.6 361.3h1.4v1.4h-1.4zM150.5 354.0h1.4v1.4h-1.4zM158.9 353.4h1.4v1.4h-1.4zM179.1 359.2h1.4v1.4h-1.4zM138.2 362.1h1.4v1.4h-1.4zM145.5 364.8h1.4v1.4h-1.4zM163.1 362.0h1.4v1.4h-1.4zM165.4 367.7h1.4v1.4h-1.4zM152.9 369.1h1.4v1.4h-1.4zM170.9 361.3h1.4v1.4h-1.4zM159.2 359.7h1.4v1.4h-1.4zM147.5 360.7h1.4v1.4h-1.4zM170.5 366.4h1.4v1.4h-1.4zM162.5 366.6h1.4v1.4h-1.4zM174.9 356.0h1.4v1.4h-1.4zM155.6 352.3h1.4v1.4h-1.4zM149.8 363.7h1.4v1.4h-1.4zM161.9 363.0h1.4v1.4h-1.4zM154.2 368.3h1.4v1.4h-1.4zM151.5 356.3h1.4v1.4h-1.4zM160.3 356.9h1.4v1.4h-1.4zM162.2 369.6h1.4v1.4h-1.4zM143.0 358.8h1.4v1.4h-1.4zM153.0 359.9h1.4v1.4h-1.4zM164.1 352.4h1.4v1.4h-1.4zM155.1 359.3h1.4v1.4h-1.4zM154.7 370.0h1.4v1.4h-1.4zM157.1 364.7h1.4v1.4h-1.4zM158.2 361.0h1.4v1.4h-1.4zM146.9 367.8h1.4v1.4h-1.4zM153.7 367.4h1.4v1.4h-1.4zM148.5 361.8h1.4v1.4h-1.4zM174.7 341.3h1.4v1.4h-1.4zM166.9 347.9h1.4v1.4h-1.4zM174.0 365.9h1.4v1.4h-1.4zM177.2 343.1h1.4v1.4h-1.4zM170.6 367.9h1.4v1.4h-1.4zM152.9 352.3h1.4v1.4h-1.4zM181.3 357.9h1.4v1.4h-1.4zM149.5 338.5h1.4v1.4h-1.4zM139.3 370.6h1.4v1.4h-1.4zM152.2 369.8h1.4v1.4h-1.4zM148.5 344.7h1.4v1.4h-1.4zM163.8 362.6h1.4v1.4h-1.4zM170.8 352.0h1.4v1.4h-1.4zM148.0 338.7h1.4v1.4h-1.4zM173.6 342.6h1.4v1.4h-1.4zM146.1 341.7h1.4v1.4h-1.4zM151.7 340.2h1.4v1.4h-1.4zM145.6 344.3h1.4v1.4h-1.4zM146.3 368.1h1.4v1.4h-1.4zM177.1 346.0h1.4v1.4h-1.4zM151.8 338.2h1.4v1.4h-1.4zM166.0 353.8h1.4v1.4h-1.4zM144.2 339.7h1.4v1.4h-1.4zM180.2 347.1h1.4v1.4h-1.4zM145.1 358.7h1.4v1.4h-1.4zM186.0 345.3h1.4v1.4h-1.4zM189.1 346.8h1.4v1.4h-1.4zM188.7 348.0h1.4v1.4h-1.4zM183.9 347.4h1.4v1.4h-1.4zM185.3 347.2h1.4v1.4h-1.4zM186.1 345.8h1.4v1.4h-1.4zM184.3 345.5h1.4v1.4h-1.4zM184.0 348.2h1.4v1.4h-1.4zM189.5 346.3h1.4v1.4h-1.4zM187.8 348.0h1.4v1.4h-1.4zM190.3 346.5h1.4v1.4h-1.4zM186.2 346.8h1.4v1.4h-1.4zM230.4 315.8h1.4v1.4h-1.4zM255.0 311.2h1.4v1.4h-1.4zM241.6 315.6h1.4v1.4h-1.4zM255.7 311.0h1.4v1.4h-1.4zM228.4 310.3h1.4v1.4h-1.4zM220.5 315.9h1.4v1.4h-1.4zM231.5 314.0h1.4v1.4h-1.4zM218.9 324.0h1.4v1.4h-1.4zM231.8 311.1h1.4v1.4h-1.4zM250.5 312.6h1.4v1.4h-1.4zM225.6 313.0h1.4v1.4h-1.4zM219.8 312.1h1.4v1.4h-1.4zM249.0 308.0h1.4v1.4h-1.4zM246.3 311.4h1.4v1.4h-1.4zM240.1 314.0h1.4v1.4h-1.4zM232.1 309.0h1.4v1.4h-1.4zM240.0 313.1h1.4v1.4h-1.4zM233.7 311.4h1.4v1.4h-1.4zM228.3 309.0h1.4v1.4h-1.4zM250.3 310.5h1.4v1.4h-1.4zM218.4 311.6h1.4v1.4h-1.4zM251.2 309.7h1.4v1.4h-1.4zM235.7 310.1h1.4v1.4h-1.4zM220.7 319.6h1.4v1.4h-1.4zM272.3 312.9h1.4v1.4h-1.4zM221.1 311.4h1.4v1.4h-1.4zM227.5 315.5h1.4v1.4h-1.4zM247.4 314.5h1.4v1.4h-1.4zM220.3 309.1h1.4v1.4h-1.4zM247.0 309.7h1.4v1.4h-1.4zM224.9 314.7h1.4v1.4h-1.4zM244.9 313.7h1.4v1.4h-1.4zM243.4 313.8h1.4v1.4h-1.4zM230.9 317.1h1.4v1.4h-1.4zM249.4 312.2h1.4v1.4h-1.4zM230.4 313.6h1.4v1.4h-1.4zM224.9 308.5h1.4v1.4h-1.4zM220.3 309.0h1.4v1.4h-1.4zM230.2 315.6h1.4v1.4h-1.4zM230.3 317.0h1.4v1.4h-1.4zM233.9 308.8h1.4v1.4h-1.4zM233.3 314.2h1.4v1.4h-1.4zM230.9 308.0h1.4v1.4h-1.4zM233.2 309.9h1.4v1.4h-1.4zM254.7 311.7h1.4v1.4h-1.4zM234.3 310.2h1.4v1.4h-1.4zM261.2 312.0h1.4v1.4h-1.4zM253.6 314.7h1.4v1.4h-1.4zM241.7 311.7h1.4v1.4h-1.4zM224.2 313.3h1.4v1.4h-1.4zM245.1 312.3h1.4v1.4h-1.4zM237.3 308.0h1.4v1.4h-1.4zM233.8 318.5h1.4v1.4h-1.4zM228.0 311.9h1.4v1.4h-1.4zM236.1 312.7h1.4v1.4h-1.4zM250.7 312.0h1.4v1.4h-1.4zM243.8 315.2h1.4v1.4h-1.4zM226.8 320.8h1.4v1.4h-1.4zM218.0 310.4h1.4v1.4h-1.4zM222.0 311.3h1.4v1.4h-1.4zM257.7 312.7h1.4v1.4h-1.4zM235.8 314.8h1.4v1.4h-1.4zM234.9 312.2h1.4v1.4h-1.4zM231.7 310.5h1.4v1.4h-1.4zM253.8 310.3h1.4v1.4h-1.4zM245.6 308.7h1.4v1.4h-1.4zM240.4 309.5h1.4v1.4h-1.4zM237.0 309.4h1.4v1.4h-1.4zM220.5 317.0h1.4v1.4h-1.4zM239.8 310.7h1.4v1.4h-1.4zM250.7 315.8h1.4v1.4h-1.4zM238.8 314.2h1.4v1.4h-1.4zM239.2 313.3h1.4v1.4h-1.4zM229.2 309.1h1.4v1.4h-1.4zM238.3 309.4h1.4v1.4h-1.4zM220.6 318.1h1.4v1.4h-1.4zM258.9 314.1h1.4v1.4h-1.4zM252.5 314.3h1.4v1.4h-1.4zM243.5 308.6h1.4v1.4h-1.4zM231.2 311.8h1.4v1.4h-1.4zM219.3 323.2h1.4v1.4h-1.4zM241.3 312.1h1.4v1.4h-1.4zM240.2 308.8h1.4v1.4h-1.4zM227.7 311.8h1.4v1.4h-1.4zM233.5 308.5h1.4v1.4h-1.4zM241.7 312.2h1.4v1.4h-1.4zM235.5 311.7h1.4v1.4h-1.4zM240.4 316.4h1.4v1.4h-1.4zM239.1 309.2h1.4v1.4h-1.4zM258.8 317.7h1.4v1.4h-1.4zM235.6 309.9h1.4v1.4h-1.4zM230.7 310.8h1.4v1.4h-1.4zM228.5 313.6h1.4v1.4h-1.4zM250.0 312.3h1.4v1.4h-1.4zM248.5 310.2h1.4v1.4h-1.4zM240.1 315.4h1.4v1.4h-1.4zM246.5 313.5h1.4v1.4h-1.4zM244.2 309.2h1.4v1.4h-1.4zM236.7 309.2h1.4v1.4h-1.4zM229.6 310.3h1.4v1.4h-1.4zM231.8 309.1h1.4v1.4h-1.4zM230.8 308.5h1.4v1.4h-1.4zM242.3 314.1h1.4v1.4h-1.4zM245.0 317.1h1.4v1.4h-1.4zM247.2 310.4h1.4v1.4h-1.4zM235.4 313.1h1.4v1.4h-1.4zM248.9 318.2h1.4v1.4h-1.4zM247.2 311.9h1.4v1.4h-1.4zM236.2 313.7h1.4v1.4h-1.4zM235.0 313.1h1.4v1.4h-1.4zM225.3 315.0h1.4v1.4h-1.4zM232.0 314.4h1.4v1.4h-1.4zM234.1 309.4h1.4v1.4h-1.4zM246.2 312.4h1.4v1.4h-1.4zM220.2 312.8h1.4v1.4h-1.4zM228.5 311.7h1.4v1.4h-1.4zM217.7 310.7h1.4v1.4h-1.4zM236.0 307.9h1.4v1.4h-1.4zM226.4 316.6h1.4v1.4h-1.4zM233.0 310.3h1.4v1.4h-1.4zM226.2 314.3h1.4v1.4h-1.4zM263.9 314.8h1.4v1.4h-1.4zM240.7 316.6h1.4v1.4h-1.4zM218.1 316.7h1.4v1.4h-1.4zM223.8 316.0h1.4v1.4h-1.4zM247.4 312.6h1.4v1.4h-1.4zM247.1 313.1h1.4v1.4h-1.4zM229.8 309.9h1.4v1.4h-1.4zM245.6 309.0h1.4v1.4h-1.4zM229.7 313.7h1.4v1.4h-1.4zM243.8 320.6h1.4v1.4h-1.4zM224.2 312.3h1.4v1.4h-1.4zM236.3 312.2h1.4v1.4h-1.4zM220.2 313.3h1.4v1.4h-1.4zM233.9 316.0h1.4v1.4h-1.4zM239.9 313.9h1.4v1.4h-1.4zM223.8 310.5h1.4v1.4h-1.4zM244.8 310.8h1.4v1.4h-1.4zM226.2 309.4h1.4v1.4h-1.4zM236.5 316.7h1.4v1.4h-1.4zM237.6 313.9h1.4v1.4h-1.4zM245.5 311.0h1.4v1.4h-1.4zM237.6 311.6h1.4v1.4h-1.4zM259.8 316.5h1.4v1.4h-1.4zM234.7 310.4h1.4v1.4h-1.4zM234.8 309.8h1.4v1.4h-1.4zM248.5 312.3h1.4v1.4h-1.4zM228.3 313.9h1.4v1.4h-1.4zM234.4 309.9h1.4v1.4h-1.4zM238.3 310.9h1.4v1.4h-1.4zM238.2 308.7h1.4v1.4h-1.4zM239.5 310.0h1.4v1.4h-1.4zM225.2 311.2h1.4v1.4h-1.4zM236.9 308.6h1.4v1.4h-1.4zM222.3 309.9h1.4v1.4h-1.4zM246.8 310.4h1.4v1.4h-1.4zM248.7 314.3h1.4v1.4h-1.4zM248.1 309.7h1.4v1.4h-1.4zM231.2 308.4h1.4v1.4h-1.4zM253.7 311.6h1.4v1.4h-1.4zM250.2 314.1h1.4v1.4h-1.4zM223.3 319.1h1.4v1.4h-1.4zM231.0 310.8h1.4v1.4h-1.4zM227.8 311.6h1.4v1.4h-1.4zM223.3 309.9h1.4v1.4h-1.4zM231.1 310.3h1.4v1.4h-1.4zM240.4 310.9h1.4v1.4h-1.4zM247.1 312.2h1.4v1.4h-1.4zM224.7 309.5h1.4v1.4h-1.4zM234.5 311.8h1.4v1.4h-1.4zM238.0 309.4h1.4v1.4h-1.4zM232.9 311.8h1.4v1.4h-1.4zM261.2 311.6h1.4v1.4h-1.4zM230.8 311.2h1.4v1.4h-1.4zM225.9 311.3h1.4v1.4h-1.4zM240.4 321.3h1.4v1.4h-1.4zM230.2 315.5h1.4v1.4h-1.4zM226.1 309.8h1.4v1.4h-1.4zM239.7 316.7h1.4v1.4h-1.4zM237.3 313.6h1.4v1.4h-1.4zM247.8 312.2h1.4v1.4h-1.4zM235.4 311.3h1.4v1.4h-1.4zM227.7 315.1h1.4v1.4h-1.4zM245.7 308.6h1.4v1.4h-1.4zM237.4 309.8h1.4v1.4h-1.4zM233.1 312.7h1.4v1.4h-1.4zM223.8 314.1h1.4v1.4h-1.4zM224.8 310.8h1.4v1.4h-1.4zM240.9 314.8h1.4v1.4h-1.4zM241.3 311.4h1.4v1.4h-1.4zM264.0 313.4h1.4v1.4h-1.4zM257.5 308.5h1.4v1.4h-1.4zM237.6 312.9h1.4v1.4h-1.4zM235.4 309.2h1.4v1.4h-1.4zM257.7 313.1h1.4v1.4h-1.4zM220.3 314.7h1.4v1.4h-1.4zM242.5 319.2h1.4v1.4h-1.4zM241.3 308.8h1.4v1.4h-1.4zM224.7 317.9h1.4v1.4h-1.4zM237.1 314.4h1.4v1.4h-1.4zM242.9 309.1h1.4v1.4h-1.4zM237.1 309.5h1.4v1.4h-1.4zM247.1 317.8h1.4v1.4h-1.4zM231.3 311.7h1.4v1.4h-1.4zM222.5 312.2h1.4v1.4h-1.4zM232.8 318.3h1.4v1.4h-1.4zM238.1 316.7h1.4v1.4h-1.4zM237.2 309.9h1.4v1.4h-1.4zM239.8 309.1h1.4v1.4h-1.4zM223.1 317.8h1.4v1.4h-1.4zM232.2 309.8h1.4v1.4h-1.4zM219.7 310.0h1.4v1.4h-1.4zM230.2 308.1h1.4v1.4h-1.4zM227.1 313.5h1.4v1.4h-1.4zM265.5 314.9h1.4v1.4h-1.4zM244.2 308.4h1.4v1.4h-1.4zM246.5 312.4h1.4v1.4h-1.4zM239.3 310.7h1.4v1.4h-1.4zM242.3 318.9h1.4v1.4h-1.4zM250.5 311.4h1.4v1.4h-1.4zM231.2 317.3h1.4v1.4h-1.4zM234.9 312.1h1.4v1.4h-1.4zM237.9 310.6h1.4v1.4h-1.4zM249.7 311.5h1.4v1.4h-1.4zM236.2 310.4h1.4v1.4h-1.4zM241.2 309.2h1.4v1.4h-1.4zM242.6 320.2h1.4v1.4h-1.4zM238.5 314.7h1.4v1.4h-1.4zM225.4 307.8h1.4v1.4h-1.4zM232.0 310.0h1.4v1.4h-1.4zM244.1 307.9h1.4v1.4h-1.4zM225.8 310.0h1.4v1.4h-1.4zM247.1 310.7h1.4v1.4h-1.4zM244.1 308.0h1.4v1.4h-1.4zM217.9 320.0h1.4v1.4h-1.4zM240.8 317.5h1.4v1.4h-1.4zM222.2 310.4h1.4v1.4h-1.4zM240.0 311.4h1.4v1.4h-1.4zM254.5 312.7h1.4v1.4h-1.4zM238.8 311.6h1.4v1.4h-1.4zM219.3 311.3h1.4v1.4h-1.4zM235.9 314.7h1.4v1.4h-1.4zM234.8 314.0h1.4v1.4h-1.4zM250.8 312.4h1.4v1.4h-1.4zM243.4 309.6h1.4v1.4h-1.4zM222.5 310.5h1.4v1.4h-1.4zM216.9 314.5h1.4v1.4h-1.4zM243.9 316.1h1.4v1.4h-1.4zM238.5 314.6h1.4v1.4h-1.4zM256.0 309.0h1.4v1.4h-1.4zM228.9 315.0h1.4v1.4h-1.4zM230.4 312.9h1.4v1.4h-1.4zM217.5 320.7h1.4v1.4h-1.4zM237.8 307.5h1.4v1.4h-1.4zM241.2 313.5h1.4v1.4h-1.4zM259.7 318.0h1.4v1.4h-1.4zM250.3 312.1h1.4v1.4h-1.4zM258.0 312.8h1.4v1.4h-1.4zM256.3 310.6h1.4v1.4h-1.4zM238.3 312.8h1.4v1.4h-1.4zM237.7 315.1h1.4v1.4h-1.4zM230.4 308.2h1.4v1.4h-1.4zM223.6 312.4h1.4v1.4h-1.4zM237.9 311.3h1.4v1.4h-1.4zM242.0 322.0h1.4v1.4h-1.4zM264.1 311.9h1.4v1.4h-1.4zM235.7 308.6h1.4v1.4h-1.4zM246.1 312.0h1.4v1.4h-1.4zM239.3 309.0h1.4v1.4h-1.4zM231.6 314.8h1.4v1.4h-1.4zM239.8 317.5h1.4v1.4h-1.4zM240.0 308.0h1.4v1.4h-1.4zM240.5 315.4h1.4v1.4h-1.4zM230.6 310.6h1.4v1.4h-1.4zM231.4 308.4h1.4v1.4h-1.4zM227.1 312.6h1.4v1.4h-1.4zM249.7 309.4h1.4v1.4h-1.4zM221.8 327.2h1.4v1.4h-1.4zM245.2 315.9h1.4v1.4h-1.4zM224.7 310.7h1.4v1.4h-1.4zM224.1 310.6h1.4v1.4h-1.4zM236.0 313.5h1.4v1.4h-1.4zM233.1 310.2h1.4v1.4h-1.4zM244.6 311.8h1.4v1.4h-1.4zM226.7 314.7h1.4v1.4h-1.4zM237.8 313.6h1.4v1.4h-1.4zM228.6 315.3h1.4v1.4h-1.4zM246.1 310.0h1.4v1.4h-1.4zM223.1 309.7h1.4v1.4h-1.4zM230.8 307.7h1.4v1.4h-1.4zM227.2 309.7h1.4v1.4h-1.4zM245.6 311.4h1.4v1.4h-1.4zM237.4 310.8h1.4v1.4h-1.4zM243.6 311.0h1.4v1.4h-1.4zM236.6 311.5h1.4v1.4h-1.4zM230.7 324.4h1.4v1.4h-1.4zM234.8 320.1h1.4v1.4h-1.4zM253.1 327.1h1.4v1.4h-1.4zM226.8 313.4h1.4v1.4h-1.4zM218.0 315.7h1.4v1.4h-1.4zM253.7 319.1h1.4v1.4h-1.4zM233.6 320.3h1.4v1.4h-1.4zM223.4 327.2h1.4v1.4h-1.4zM227.6 310.3h1.4v1.4h-1.4zM243.8 326.6h1.4v1.4h-1.4zM248.7 328.9h1.4v1.4h-1.4zM240.3 314.7h1.4v1.4h-1.4zM249.4 328.0h1.4v1.4h-1.4zM251.2 325.2h1.4v1.4h-1.4zM239.9 326.2h1.4v1.4h-1.4zM234.4 310.5h1.4v1.4h-1.4zM226.4 329.2h1.4v1.4h-1.4zM235.6 325.2h1.4v1.4h-1.4zM221.2 321.7h1.4v1.4h-1.4zM252.3 322.0h1.4v1.4h-1.4zM243.3 326.8h1.4v1.4h-1.4zM217.3 309.9h1.4v1.4h-1.4zM272.0 319.0h1.4v1.4h-1.4zM243.0 321.8h1.4v1.4h-1.4zM222.6 318.3h1.4v1.4h-1.4zM224.1 323.7h1.4v1.4h-1.4zM256.9 326.3h1.4v1.4h-1.4zM220.2 329.0h1.4v1.4h-1.4zM237.5 323.8h1.4v1.4h-1.4zM232.5 315.1h1.4v1.4h-1.4zM240.8 314.4h1.4v1.4h-1.4zM221.4 316.4h1.4v1.4h-1.4zM240.5 328.8h1.4v1.4h-1.4zM258.6 325.2h1.4v1.4h-1.4zM255.8 329.6h1.4v1.4h-1.4zM228.1 316.3h1.4v1.4h-1.4zM218.5 324.2h1.4v1.4h-1.4zM217.7 313.3h1.4v1.4h-1.4zM239.6 328.6h1.4v1.4h-1.4zM238.0 329.3h1.4v1.4h-1.4zM227.8 323.8h1.4v1.4h-1.4zM265.4 320.3h1.4v1.4h-1.4zM242.3 316.0h1.4v1.4h-1.4zM234.9 310.3h1.4v1.4h-1.4zM220.9 322.8h1.4v1.4h-1.4zM228.7 352.2h1.4v1.4h-1.4zM234.4 365.1h1.4v1.4h-1.4zM227.3 352.6h1.4v1.4h-1.4zM235.5 348.4h1.4v1.4h-1.4zM238.0 366.9h1.4v1.4h-1.4zM235.7 358.3h1.4v1.4h-1.4zM244.4 341.0h1.4v1.4h-1.4zM247.9 353.0h1.4v1.4h-1.4zM238.6 362.0h1.4v1.4h-1.4zM238.4 346.9h1.4v1.4h-1.4zM223.6 358.3h1.4v1.4h-1.4zM247.7 350.1h1.4v1.4h-1.4zM231.7 342.9h1.4v1.4h-1.4zM232.3 364.7h1.4v1.4h-1.4zM225.3 360.4h1.4v1.4h-1.4zM242.0 359.4h1.4v1.4h-1.4zM239.9 348.7h1.4v1.4h-1.4zM230.2 353.2h1.4v1.4h-1.4zM239.2 366.3h1.4v1.4h-1.4zM252.7 358.9h1.4v1.4h-1.4zM247.5 344.0h1.4v1.4h-1.4zM217.7 364.6h1.4v1.4h-1.4zM231.3 361.4h1.4v1.4h-1.4zM252.7 353.6h1.4v1.4h-1.4zM239.8 360.7h1.4v1.4h-1.4zM245.3 361.4h1.4v1.4h-1.4zM228.6 357.0h1.4v1.4h-1.4zM219.3 353.8h1.4v1.4h-1.4zM237.0 366.2h1.4v1.4h-1.4zM245.9 360.7h1.4v1.4h-1.4zM246.5 345.1h1.4v1.4h-1.4zM218.9 359.7h1.4v1.4h-1.4zM232.1 369.1h1.4v1.4h-1.4zM235.9 334.2h1.4v1.4h-1.4zM262.1 338.7h1.4v1.4h-1.4zM251.4 352.8h1.4v1.4h-1.4zM233.6 356.1h1.4v1.4h-1.4zM232.6 341.5h1.4v1.4h-1.4zM245.0 356.7h1.4v1.4h-1.4zM241.9 346.4h1.4v1.4h-1.4zM230.9 356.8h1.4v1.4h-1.4zM260.0 341.2h1.4v1.4h-1.4zM237.8 359.5h1.4v1.4h-1.4zM236.4 358.3h1.4v1.4h-1.4zM226.3 365.8h1.4v1.4h-1.4zM242.4 345.8h1.4v1.4h-1.4zM255.1 355.7h1.4v1.4h-1.4zM236.6 330.3h1.4v1.4h-1.4zM254.9 356.1h1.4v1.4h-1.4zM231.4 351.4h1.4v1.4h-1.4zM245.9 350.4h1.4v1.4h-1.4zM240.3 348.9h1.4v1.4h-1.4zM227.8 358.1h1.4v1.4h-1.4zM231.1 357.7h1.4v1.4h-1.4zM242.2 356.5h1.4v1.4h-1.4zM228.0 349.7h1.4v1.4h-1.4zM241.8 362.7h1.4v1.4h-1.4zM247.9 341.2h1.4v1.4h-1.4zM237.8 340.2h1.4v1.4h-1.4zM254.7 327.6h1.4v1.4h-1.4zM239.5 357.2h1.4v1.4h-1.4zM242.4 353.0h1.4v1.4h-1.4zM250.3 362.8h1.4v1.4h-1.4zM245.4 349.2h1.4v1.4h-1.4zM227.6 359.1h1.4v1.4h-1.4zM249.1 349.4h1.4v1.4h-1.4zM248.8 352.1h1.4v1.4h-1.4zM219.8 355.4h1.4v1.4h-1.4zM226.0 335.5h1.4v1.4h-1.4zM224.7 342.2h1.4v1.4h-1.4zM248.5 364.4h1.4v1.4h-1.4zM228.2 347.6h1.4v1.4h-1.4zM257.4 351.7h1.4v1.4h-1.4zM249.3 346.3h1.4v1.4h-1.4zM231.1 356.4h1.4v1.4h-1.4zM241.0 367.8h1.4v1.4h-1.4zM235.2 346.4h1.4v1.4h-1.4zM227.6 350.6h1.4v1.4h-1.4zM233.7 332.2h1.4v1.4h-1.4zM237.9 368.7h1.4v1.4h-1.4zM232.6 347.8h1.4v1.4h-1.4zM246.2 334.5h1.4v1.4h-1.4zM244.2 336.7h1.4v1.4h-1.4zM248.9 354.5h1.4v1.4h-1.4zM237.0 350.5h1.4v1.4h-1.4zM244.9 349.1h1.4v1.4h-1.4zM227.6 352.0h1.4v1.4h-1.4zM262.8 342.6h1.4v1.4h-1.4zM224.6 354.5h1.4v1.4h-1.4zM241.8 345.8h1.4v1.4h-1.4zM254.0 343.8h1.4v1.4h-1.4zM259.0 341.2h1.4v1.4h-1.4zM236.9 348.1h1.4v1.4h-1.4zM236.3 357.5h1.4v1.4h-1.4zM242.9 364.4h1.4v1.4h-1.4zM242.8 346.3h1.4v1.4h-1.4zM238.9 361.8h1.4v1.4h-1.4zM229.8 345.8h1.4v1.4h-1.4zM252.7 350.9h1.4v1.4h-1.4zM218.3 358.1h1.4v1.4h-1.4zM238.1 360.8h1.4v1.4h-1.4zM235.8 345.6h1.4v1.4h-1.4zM234.3 370.1h1.4v1.4h-1.4zM253.3 354.3h1.4v1.4h-1.4zM236.3 352.5h1.4v1.4h-1.4zM226.4 333.0h1.4v1.4h-1.4zM227.2 362.5h1.4v1.4h-1.4zM228.5 345.8h1.4v1.4h-1.4zM241.5 339.6h1.4v1.4h-1.4zM263.3 334.8h1.4v1.4h-1.4zM253.7 329.4h1.4v1.4h-1.4zM244.4 356.1h1.4v1.4h-1.4zM231.8 349.1h1.4v1.4h-1.4zM243.3 345.7h1.4v1.4h-1.4zM238.5 342.5h1.4v1.4h-1.4zM235.7 345.8h1.4v1.4h-1.4zM240.3 358.6h1.4v1.4h-1.4zM245.5 355.1h1.4v1.4h-1.4zM241.2 367.0h1.4v1.4h-1.4zM235.3 351.2h1.4v1.4h-1.4zM251.2 349.7h1.4v1.4h-1.4zM245.6 330.0h1.4v1.4h-1.4zM218.7 331.9h1.4v1.4h-1.4zM226.5 360.5h1.4v1.4h-1.4zM243.0 357.0h1.4v1.4h-1.4zM226.1 369.6h1.4v1.4h-1.4zM249.9 352.7h1.4v1.4h-1.4zM236.5 335.9h1.4v1.4h-1.4zM233.2 364.2h1.4v1.4h-1.4zM240.9 357.4h1.4v1.4h-1.4zM248.1 341.0h1.4v1.4h-1.4zM241.5 358.5h1.4v1.4h-1.4zM217.3 365.8h1.4v1.4h-1.4zM221.8 354.8h1.4v1.4h-1.4zM234.1 360.0h1.4v1.4h-1.4zM233.5 357.2h1.4v1.4h-1.4zM231.3 347.1h1.4v1.4h-1.4zM217.3 362.3h1.4v1.4h-1.4zM246.7 356.3h1.4v1.4h-1.4zM247.5 357.7h1.4v1.4h-1.4zM236.5 347.0h1.4v1.4h-1.4zM235.1 345.5h1.4v1.4h-1.4zM242.3 353.1h1.4v1.4h-1.4zM225.5 367.4h1.4v1.4h-1.4zM221.6 358.0h1.4v1.4h-1.4zM230.7 355.7h1.4v1.4h-1.4zM228.3 354.3h1.4v1.4h-1.4zM253.0 354.0h1.4v1.4h-1.4zM244.6 358.6h1.4v1.4h-1.4zM236.1 364.0h1.4v1.4h-1.4zM236.9 364.6h1.4v1.4h-1.4zM230.0 369.6h1.4v1.4h-1.4zM232.2 352.7h1.4v1.4h-1.4zM232.7 362.7h1.4v1.4h-1.4zM234.2 358.0h1.4v1.4h-1.4zM252.1 354.8h1.4v1.4h-1.4zM250.7 353.8h1.4v1.4h-1.4zM248.0 367.4h1.4v1.4h-1.4zM243.0 333.6h1.4v1.4h-1.4zM237.4 347.9h1.4v1.4h-1.4zM237.2 343.2h1.4v1.4h-1.4zM244.9 337.9h1.4v1.4h-1.4zM235.6 351.3h1.4v1.4h-1.4zM227.9 361.4h1.4v1.4h-1.4zM253.0 348.8h1.4v1.4h-1.4zM247.1 354.9h1.4v1.4h-1.4zM254.6 339.5h1.4v1.4h-1.4zM254.4 346.8h1.4v1.4h-1.4zM240.1 354.4h1.4v1.4h-1.4zM234.5 362.2h1.4v1.4h-1.4zM256.8 343.1h1.4v1.4h-1.4zM238.1 367.4h1.4v1.4h-1.4zM236.6 348.3h1.4v1.4h-1.4zM242.8 350.2h1.4v1.4h-1.4zM226.3 361.0h1.4v1.4h-1.4zM238.6 361.7h1.4v1.4h-1.4zM244.3 350.4h1.4v1.4h-1.4zM224.9 354.2h1.4v1.4h-1.4zM232.6 351.2h1.4v1.4h-1.4zM235.0 351.4h1.4v1.4h-1.4zM219.5 353.8h1.4v1.4h-1.4zM234.5 361.8h1.4v1.4h-1.4zM227.5 362.7h1.4v1.4h-1.4zM234.3 366.3h1.4v1.4h-1.4zM252.2 360.7h1.4v1.4h-1.4zM231.5 359.9h1.4v1.4h-1.4zM234.6 351.1h1.4v1.4h-1.4zM223.3 353.6h1.4v1.4h-1.4zM247.7 348.5h1.4v1.4h-1.4zM248.5 353.7h1.4v1.4h-1.4zM235.3 357.1h1.4v1.4h-1.4zM250.2 360.4h1.4v1.4h-1.4zM242.3 350.9h1.4v1.4h-1.4zM228.5 336.4h1.4v1.4h-1.4zM236.6 363.4h1.4v1.4h-1.4zM230.2 362.7h1.4v1.4h-1.4zM228.2 331.7h1.4v1.4h-1.4zM231.8 350.5h1.4v1.4h-1.4zM252.9 342.2h1.4v1.4h-1.4zM245.9 355.0h1.4v1.4h-1.4zM245.2 333.6h1.4v1.4h-1.4zM224.1 349.6h1.4v1.4h-1.4zM245.9 337.3h1.4v1.4h-1.4zM234.4 356.1h1.4v1.4h-1.4zM228.0 329.3h1.4v1.4h-1.4zM230.9 350.7h1.4v1.4h-1.4zM227.6 362.0h1.4v1.4h-1.4zM261.6 340.4h1.4v1.4h-1.4zM248.9 340.5h1.4v1.4h-1.4zM229.7 366.5h1.4v1.4h-1.4zM235.6 348.9h1.4v1.4h-1.4zM261.9 337.3h1.4v1.4h-1.4zM228.3 356.8h1.4v1.4h-1.4zM250.0 351.7h1.4v1.4h-1.4zM251.5 356.7h1.4v1.4h-1.4zM244.4 359.5h1.4v1.4h-1.4zM247.0 359.4h1.4v1.4h-1.4zM234.6 361.3h1.4v1.4h-1.4zM233.6 358.3h1.4v1.4h-1.4zM247.3 361.1h1.4v1.4h-1.4zM236.2 349.7h1.4v1.4h-1.4zM237.6 358.6h1.4v1.4h-1.4zM249.2 339.2h1.4v1.4h-1.4zM219.2 355.4h1.4v1.4h-1.4zM235.9 351.7h1.4v1.4h-1.4zM242.0 345.2h1.4v1.4h-1.4zM227.8 357.3h1.4v1.4h-1.4zM244.2 360.0h1.4v1.4h-1.4zM249.7 343.7h1.4v1.4h-1.4zM227.8 357.3h1.4v1.4h-1.4zM240.3 363.2h1.4v1.4h-1.4zM242.1 361.0h1.4v1.4h-1.4zM242.6 337.0h1.4v1.4h-1.4zM234.0 346.6h1.4v1.4h-1.4zM224.1 358.7h1.4v1.4h-1.4zM235.6 354.7h1.4v1.4h-1.4zM247.4 357.6h1.4v1.4h-1.4zM238.5 364.9h1.4v1.4h-1.4zM239.8 362.2h1.4v1.4h-1.4zM251.6 338.2h1.4v1.4h-1.4zM245.4 343.5h1.4v1.4h-1.4zM238.4 363.9h1.4v1.4h-1.4zM219.0 346.3h1.4v1.4h-1.4zM230.1 364.7h1.4v1.4h-1.4zM238.5 354.0h1.4v1.4h-1.4zM234.6 349.3h1.4v1.4h-1.4zM247.7 348.0h1.4v1.4h-1.4zM255.7 343.7h1.4v1.4h-1.4zM249.5 337.1h1.4v1.4h-1.4zM223.9 344.2h1.4v1.4h-1.4zM230.8 350.2h1.4v1.4h-1.4zM236.0 357.0h1.4v1.4h-1.4zM247.3 356.8h1.4v1.4h-1.4zM258.0 340.6h1.4v1.4h-1.4zM237.0 349.4h1.4v1.4h-1.4zM241.0 365.7h1.4v1.4h-1.4zM243.5 340.5h1.4v1.4h-1.4zM225.1 356.8h1.4v1.4h-1.4zM233.3 350.5h1.4v1.4h-1.4zM250.0 338.2h1.4v1.4h-1.4zM219.4 356.4h1.4v1.4h-1.4zM237.6 338.0h1.4v1.4h-1.4zM230.7 340.3h1.4v1.4h-1.4zM256.8 345.3h1.4v1.4h-1.4zM247.1 344.0h1.4v1.4h-1.4zM247.4 346.5h1.4v1.4h-1.4zM226.2 361.7h1.4v1.4h-1.4zM248.3 353.7h1.4v1.4h-1.4zM258.1 352.2h1.4v1.4h-1.4zM219.2 353.9h1.4v1.4h-1.4zM246.7 363.0h1.4v1.4h-1.4zM244.3 343.9h1.4v1.4h-1.4zM245.8 366.3h1.4v1.4h-1.4zM230.3 347.1h1.4v1.4h-1.4zM234.3 346.5h1.4v1.4h-1.4zM241.5 356.9h1.4v1.4h-1.4zM256.4 330.0h1.4v1.4h-1.4zM257.8 352.0h1.4v1.4h-1.4zM242.5 365.9h1.4v1.4h-1.4zM237.8 344.3h1.4v1.4h-1.4zM249.4 349.2h1.4v1.4h-1.4zM230.2 353.4h1.4v1.4h-1.4zM255.1 352.2h1.4v1.4h-1.4zM232.3 364.1h1.4v1.4h-1.4zM236.4 345.6h1.4v1.4h-1.4zM246.3 355.7h1.4v1.4h-1.4zM221.7 355.9h1.4v1.4h-1.4zM239.3 348.7h1.4v1.4h-1.4zM246.7 359.2h1.4v1.4h-1.4zM242.6 355.1h1.4v1.4h-1.4zM252.1 341.4h1.4v1.4h-1.4zM227.8 362.7h1.4v1.4h-1.4zM239.4 355.8h1.4v1.4h-1.4zM227.7 351.5h1.4v1.4h-1.4zM234.1 352.0h1.4v1.4h-1.4zM247.2 344.4h1.4v1.4h-1.4zM243.5 367.4h1.4v1.4h-1.4zM238.1 361.2h1.4v1.4h-1.4zM228.3 354.2h1.4v1.4h-1.4zM231.4 350.6h1.4v1.4h-1.4zM239.7 344.3h1.4v1.4h-1.4zM234.7 370.5h1.4v1.4h-1.4zM233.4 349.1h1.4v1.4h-1.4zM244.1 365.3h1.4v1.4h-1.4zM251.0 343.5h1.4v1.4h-1.4zM222.1 364.9h1.4v1.4h-1.4zM234.9 360.0h1.4v1.4h-1.4zM226.9 359.6h1.4v1.4h-1.4zM248.0 346.9h1.4v1.4h-1.4zM237.5 368.8h1.4v1.4h-1.4zM233.6 362.1h1.4v1.4h-1.4zM247.9 338.7h1.4v1.4h-1.4zM249.9 354.4h1.4v1.4h-1.4zM251.2 354.8h1.4v1.4h-1.4zM229.4 358.2h1.4v1.4h-1.4zM245.7 357.4h1.4v1.4h-1.4zM245.6 362.0h1.4v1.4h-1.4zM233.0 349.3h1.4v1.4h-1.4zM221.5 346.9h1.4v1.4h-1.4zM261.1 341.1h1.4v1.4h-1.4zM237.3 354.9h1.4v1.4h-1.4zM247.0 328.3h1.4v1.4h-1.4zM249.3 356.0h1.4v1.4h-1.4zM249.1 351.4h1.4v1.4h-1.4zM243.6 363.2h1.4v1.4h-1.4zM250.0 353.2h1.4v1.4h-1.4zM255.9 343.7h1.4v1.4h-1.4zM256.0 352.3h1.4v1.4h-1.4zM232.2 336.3h1.4v1.4h-1.4zM239.7 349.4h1.4v1.4h-1.4zM235.7 352.8h1.4v1.4h-1.4zM234.2 367.3h1.4v1.4h-1.4zM240.5 357.8h1.4v1.4h-1.4zM240.6 355.2h1.4v1.4h-1.4zM233.6 351.4h1.4v1.4h-1.4zM251.1 355.6h1.4v1.4h-1.4zM246.1 345.5h1.4v1.4h-1.4zM229.9 353.6h1.4v1.4h-1.4zM236.8 359.6h1.4v1.4h-1.4zM232.9 370.0h1.4v1.4h-1.4zM240.3 345.9h1.4v1.4h-1.4zM240.8 361.7h1.4v1.4h-1.4zM252.2 336.6h1.4v1.4h-1.4zM235.5 351.7h1.4v1.4h-1.4zM235.4 362.0h1.4v1.4h-1.4zM236.6 354.6h1.4v1.4h-1.4zM248.9 353.0h1.4v1.4h-1.4zM233.5 350.8h1.4v1.4h-1.4zM256.1 337.0h1.4v1.4h-1.4zM236.4 346.1h1.4v1.4h-1.4zM227.2 352.9h1.4v1.4h-1.4zM245.7 348.0h1.4v1.4h-1.4zM233.3 369.4h1.4v1.4h-1.4zM250.3 345.3h1.4v1.4h-1.4zM246.6 362.7h1.4v1.4h-1.4zM233.0 357.1h1.4v1.4h-1.4zM233.9 357.3h1.4v1.4h-1.4zM222.8 361.9h1.4v1.4h-1.4zM231.4 330.8h1.4v1.4h-1.4zM237.6 347.5h1.4v1.4h-1.4zM236.3 369.2h1.4v1.4h-1.4zM244.7 364.7h1.4v1.4h-1.4zM234.4 354.0h1.4v1.4h-1.4zM234.1 341.2h1.4v1.4h-1.4zM237.8 350.9h1.4v1.4h-1.4zM247.7 338.6h1.4v1.4h-1.4zM235.2 359.9h1.4v1.4h-1.4zM220.6 353.2h1.4v1.4h-1.4zM244.4 346.1h1.4v1.4h-1.4zM218.0 350.5h1.4v1.4h-1.4zM234.4 367.4h1.4v1.4h-1.4zM230.9 344.1h1.4v1.4h-1.4zM245.4 346.6h1.4v1.4h-1.4zM229.7 369.0h1.4v1.4h-1.4zM259.9 344.2h1.4v1.4h-1.4zM221.4 346.7h1.4v1.4h-1.4zM248.4 346.1h1.4v1.4h-1.4zM247.9 345.0h1.4v1.4h-1.4zM241.8 358.7h1.4v1.4h-1.4zM233.8 356.4h1.4v1.4h-1.4zM241.1 342.0h1.4v1.4h-1.4zM229.2 348.2h1.4v1.4h-1.4zM232.4 346.1h1.4v1.4h-1.4zM265.4 341.0h1.4v1.4h-1.4zM250.2 364.0h1.4v1.4h-1.4zM234.0 363.3h1.4v1.4h-1.4zM234.6 360.1h1.4v1.4h-1.4zM255.2 335.8h1.4v1.4h-1.4zM248.7 351.6h1.4v1.4h-1.4zM225.8 358.6h1.4v1.4h-1.4zM228.5 349.9h1.4v1.4h-1.4zM223.5 368.0h1.4v1.4h-1.4zM228.1 344.1h1.4v1.4h-1.4zM238.9 352.5h1.4v1.4h-1.4zM244.1 357.6h1.4v1.4h-1.4zM257.8 352.4h1.4v1.4h-1.4zM255.1 348.8h1.4v1.4h-1.4zM262.9 336.1h1.4v1.4h-1.4zM247.1 357.2h1.4v1.4h-1.4zM221.0 350.8h1.4v1.4h-1.4zM234.2 347.8h1.4v1.4h-1.4zM229.4 361.2h1.4v1.4h-1.4zM217.3 369.1h1.4v1.4h-1.4zM243.2 365.8h1.4v1.4h-1.4zM228.4 361.4h1.4v1.4h-1.4zM220.2 353.9h1.4v1.4h-1.4zM221.9 333.7h1.4v1.4h-1.4zM237.3 330.6h1.4v1.4h-1.4zM233.4 366.8h1.4v1.4h-1.4zM245.9 354.0h1.4v1.4h-1.4zM227.8 368.2h1.4v1.4h-1.4zM251.2 342.7h1.4v1.4h-1.4zM232.2 347.0h1.4v1.4h-1.4zM254.6 346.3h1.4v1.4h-1.4zM252.1 351.2h1.4v1.4h-1.4zM244.9 360.9h1.4v1.4h-1.4zM234.3 348.2h1.4v1.4h-1.4zM247.2 352.5h1.4v1.4h-1.4zM248.3 348.4h1.4v1.4h-1.4zM230.9 360.5h1.4v1.4h-1.4zM236.5 360.7h1.4v1.4h-1.4zM236.5 332.6h1.4v1.4h-1.4zM249.5 345.8h1.4v1.4h-1.4zM233.0 348.3h1.4v1.4h-1.4zM239.9 343.4h1.4v1.4h-1.4zM246.4 342.2h1.4v1.4h-1.4zM228.4 355.9h1.4v1.4h-1.4zM240.7 344.6h1.4v1.4h-1.4zM218.8 343.4h1.4v1.4h-1.4zM253.8 340.7h1.4v1.4h-1.4zM246.2 343.8h1.4v1.4h-1.4zM235.2 347.0h1.4v1.4h-1.4zM239.9 347.3h1.4v1.4h-1.4zM239.9 349.6h1.4v1.4h-1.4zM225.8 367.5h1.4v1.4h-1.4zM240.5 347.7h1.4v1.4h-1.4zM256.9 347.6h1.4v1.4h-1.4zM253.3 331.7h1.4v1.4h-1.4zM229.8 367.1h1.4v1.4h-1.4zM248.2 347.5h1.4v1.4h-1.4zM230.1 355.0h1.4v1.4h-1.4zM247.2 339.7h1.4v1.4h-1.4zM244.6 366.9h1.4v1.4h-1.4zM233.2 347.5h1.4v1.4h-1.4zM244.1 357.4h1.4v1.4h-1.4zM249.9 350.2h1.4v1.4h-1.4zM242.5 360.3h1.4v1.4h-1.4zM234.0 344.1h1.4v1.4h-1.4zM236.2 359.0h1.4v1.4h-1.4zM252.7 333.7h1.4v1.4h-1.4zM233.2 347.1h1.4v1.4h-1.4zM239.0 348.4h1.4v1.4h-1.4zM254.0 343.3h1.4v1.4h-1.4zM234.9 363.0h1.4v1.4h-1.4zM250.7 346.1h1.4v1.4h-1.4zM244.0 347.5h1.4v1.4h-1.4zM256.7 350.0h1.4v1.4h-1.4zM252.0 333.0h1.4v1.4h-1.4zM227.1 351.5h1.4v1.4h-1.4zM221.9 367.5h1.4v1.4h-1.4zM221.9 366.2h1.4v1.4h-1.4zM246.3 350.7h1.4v1.4h-1.4zM221.9 360.6h1.4v1.4h-1.4zM246.3 367.5h1.4v1.4h-1.4zM250.7 339.6h1.4v1.4h-1.4zM254.9 341.1h1.4v1.4h-1.4zM235.4 358.3h1.4v1.4h-1.4zM238.0 365.2h1.4v1.4h-1.4zM249.5 344.3h1.4v1.4h-1.4zM230.6 358.7h1.4v1.4h-1.4zM248.7 357.3h1.4v1.4h-1.4zM236.4 339.5h1.4v1.4h-1.4zM252.2 359.8h1.4v1.4h-1.4zM228.5 352.4h1.4v1.4h-1.4zM241.9 342.3h1.4v1.4h-1.4zM227.0 356.7h1.4v1.4h-1.4zM229.4 366.7h1.4v1.4h-1.4zM229.3 352.2h1.4v1.4h-1.4zM248.3 350.4h1.4v1.4h-1.4zM235.7 351.7h1.4v1.4h-1.4zM250.0 328.8h1.4v1.4h-1.4zM236.1 348.8h1.4v1.4h-1.4zM238.1 347.1h1.4v1.4h-1.4zM237.6 349.2h1.4v1.4h-1.4zM234.2 352.1h1.4v1.4h-1.4zM226.2 356.3h1.4v1.4h-1.4zM240.0 359.7h1.4v1.4h-1.4zM254.6 340.7h1.4v1.4h-1.4zM226.5 365.1h1.4v1.4h-1.4zM228.4 362.6h1.4v1.4h-1.4zM242.2 346.7h1.4v1.4h-1.4zM220.2 362.2h1.4v1.4h-1.4zM246.4 363.0h1.4v1.4h-1.4zM227.4 363.1h1.4v1.4h-1.4zM241.7 347.7h1.4v1.4h-1.4zM226.6 356.1h1.4v1.4h-1.4zM244.7 344.3h1.4v1.4h-1.4zM222.2 356.8h1.4v1.4h-1.4zM229.5 364.1h1.4v1.4h-1.4zM248.9 344.8h1.4v1.4h-1.4zM231.7 353.3h1.4v1.4h-1.4zM233.5 361.5h1.4v1.4h-1.4zM226.4 362.1h1.4v1.4h-1.4zM217.0 350.5h1.4v1.4h-1.4zM237.2 363.2h1.4v1.4h-1.4zM230.3 348.7h1.4v1.4h-1.4zM226.3 355.1h1.4v1.4h-1.4zM254.0 336.6h1.4v1.4h-1.4zM224.8 348.3h1.4v1.4h-1.4zM235.8 354.0h1.4v1.4h-1.4zM247.1 338.2h1.4v1.4h-1.4zM245.0 352.3h1.4v1.4h-1.4zM226.6 363.4h1.4v1.4h-1.4zM230.9 358.2h1.4v1.4h-1.4zM256.3 338.1h1.4v1.4h-1.4zM233.9 361.6h1.4v1.4h-1.4zM243.7 365.2h1.4v1.4h-1.4zM242.5 344.9h1.4v1.4h-1.4zM246.4 349.1h1.4v1.4h-1.4zM257.2 352.2h1.4v1.4h-1.4zM247.6 348.4h1.4v1.4h-1.4zM228.9 342.1h1.4v1.4h-1.4zM223.5 359.5h1.4v1.4h-1.4zM225.8 352.9h1.4v1.4h-1.4zM237.5 346.2h1.4v1.4h-1.4zM253.5 349.4h1.4v1.4h-1.4zM231.7 348.0h1.4v1.4h-1.4zM225.8 353.5h1.4v1.4h-1.4zM241.8 335.9h1.4v1.4h-1.4zM245.7 364.9h1.4v1.4h-1.4zM235.2 360.7h1.4v1.4h-1.4zM228.3 364.5h1.4v1.4h-1.4zM235.8 362.9h1.4v1.4h-1.4zM226.2 362.8h1.4v1.4h-1.4zM228.1 336.2h1.4v1.4h-1.4zM247.4 365.2h1.4v1.4h-1.4zM254.4 355.5h1.4v1.4h-1.4zM222.7 351.4h1.4v1.4h-1.4zM245.1 365.3h1.4v1.4h-1.4zM232.4 368.5h1.4v1.4h-1.4zM227.5 355.9h1.4v1.4h-1.4zM247.0 352.7h1.4v1.4h-1.4zM238.1 352.6h1.4v1.4h-1.4zM228.7 361.8h1.4v1.4h-1.4zM232.3 359.3h1.4v1.4h-1.4zM222.4 355.6h1.4v1.4h-1.4zM248.7 353.2h1.4v1.4h-1.4zM232.6 358.7h1.4v1.4h-1.4zM244.5 362.4h1.4v1.4h-1.4zM247.8 352.3h1.4v1.4h-1.4zM243.5 336.2h1.4v1.4h-1.4zM231.1 349.3h1.4v1.4h-1.4zM232.4 359.4h1.4v1.4h-1.4zM236.9 358.6h1.4v1.4h-1.4zM243.2 348.2h1.4v1.4h-1.4zM234.1 332.1h1.4v1.4h-1.4zM245.0 366.4h1.4v1.4h-1.4zM234.9 363.2h1.4v1.4h-1.4zM231.5 356.4h1.4v1.4h-1.4zM244.2 346.2h1.4v1.4h-1.4zM256.2 342.4h1.4v1.4h-1.4zM239.9 339.2h1.4v1.4h-1.4zM236.0 359.9h1.4v1.4h-1.4zM218.5 364.7h1.4v1.4h-1.4zM238.3 357.1h1.4v1.4h-1.4zM222.5 341.4h1.4v1.4h-1.4zM237.5 364.5h1.4v1.4h-1.4zM251.7 352.5h1.4v1.4h-1.4zM246.0 358.1h1.4v1.4h-1.4zM232.4 359.1h1.4v1.4h-1.4zM229.5 356.1h1.4v1.4h-1.4zM220.4 368.8h1.4v1.4h-1.4zM229.2 355.8h1.4v1.4h-1.4zM245.4 353.5h1.4v1.4h-1.4zM230.3 352.7h1.4v1.4h-1.4zM256.2 352.7h1.4v1.4h-1.4zM251.6 335.0h1.4v1.4h-1.4zM229.7 345.2h1.4v1.4h-1.4zM240.7 368.9h1.4v1.4h-1.4zM234.9 351.8h1.4v1.4h-1.4zM219.7 363.7h1.4v1.4h-1.4zM235.4 362.0h1.4v1.4h-1.4zM243.4 361.7h1.4v1.4h-1.4zM223.5 356.1h1.4v1.4h-1.4zM246.6 354.7h1.4v1.4h-1.4zM252.9 335.8h1.4v1.4h-1.4zM239.7 366.9h1.4v1.4h-1.4zM239.1 370.3h1.4v1.4h-1.4zM228.6 362.0h1.4v1.4h-1.4zM227.9 346.1h1.4v1.4h-1.4zM234.7 333.5h1.4v1.4h-1.4zM241.5 359.0h1.4v1.4h-1.4zM242.5 347.5h1.4v1.4h-1.4zM228.8 345.6h1.4v1.4h-1.4zM237.8 360.2h1.4v1.4h-1.4zM246.7 352.1h1.4v1.4h-1.4zM236.3 359.5h1.4v1.4h-1.4zM228.0 358.5h1.4v1.4h-1.4zM239.4 329.9h1.4v1.4h-1.4zM245.4 350.8h1.4v1.4h-1.4zM250.7 339.1h1.4v1.4h-1.4zM239.8 360.2h1.4v1.4h-1.4zM240.6 357.4h1.4v1.4h-1.4zM242.9 348.5h1.4v1.4h-1.4zM235.9 362.6h1.4v1.4h-1.4zM238.4 345.4h1.4v1.4h-1.4zM245.1 343.9h1.4v1.4h-1.4zM233.6 354.1h1.4v1.4h-1.4zM243.4 359.7h1.4v1.4h-1.4zM230.5 351.0h1.4v1.4h-1.4zM237.8 335.0h1.4v1.4h-1.4zM241.9 358.5h1.4v1.4h-1.4zM227.9 360.7h1.4v1.4h-1.4zM232.1 345.3h1.4v1.4h-1.4zM251.7 356.6h1.4v1.4h-1.4zM236.0 335.3h1.4v1.4h-1.4zM232.7 362.6h1.4v1.4h-1.4zM238.1 364.2h1.4v1.4h-1.4zM237.5 353.0h1.4v1.4h-1.4zM257.2 343.5h1.4v1.4h-1.4zM264.7 337.6h1.4v1.4h-1.4zM231.8 357.9h1.4v1.4h-1.4zM252.6 357.8h1.4v1.4h-1.4zM240.7 353.5h1.4v1.4h-1.4zM231.3 351.3h1.4v1.4h-1.4zM221.8 366.9h1.4v1.4h-1.4zM232.6 355.6h1.4v1.4h-1.4zM235.3 349.8h1.4v1.4h-1.4zM240.8 357.7h1.4v1.4h-1.4zM249.0 353.4h1.4v1.4h-1.4zM260.7 345.5h1.4v1.4h-1.4zM219.2 366.2h1.4v1.4h-1.4zM229.9 340.2h1.4v1.4h-1.4zM244.9 369.8h1.4v1.4h-1.4zM245.5 362.1h1.4v1.4h-1.4zM228.6 358.8h1.4v1.4h-1.4zM248.7 353.5h1.4v1.4h-1.4zM225.9 362.1h1.4v1.4h-1.4zM228.5 364.4h1.4v1.4h-1.4zM229.6 344.9h1.4v1.4h-1.4zM244.0 356.3h1.4v1.4h-1.4zM223.1 368.0h1.4v1.4h-1.4zM238.9 362.5h1.4v1.4h-1.4zM245.3 342.7h1.4v1.4h-1.4zM241.4 337.4h1.4v1.4h-1.4zM234.6 362.6h1.4v1.4h-1.4zM229.9 332.3h1.4v1.4h-1.4zM231.3 369.7h1.4v1.4h-1.4zM223.5 342.7h1.4v1.4h-1.4zM234.6 343.7h1.4v1.4h-1.4zM223.9 356.8h1.4v1.4h-1.4zM227.1 358.2h1.4v1.4h-1.4zM226.4 353.9h1.4v1.4h-1.4zM231.0 343.0h1.4v1.4h-1.4zM238.8 358.4h1.4v1.4h-1.4zM243.5 361.8h1.4v1.4h-1.4zM253.1 332.6h1.4v1.4h-1.4zM232.6 366.8h1.4v1.4h-1.4zM242.9 342.7h1.4v1.4h-1.4zM244.8 347.8h1.4v1.4h-1.4zM227.5 356.8h1.4v1.4h-1.4zM219.9 358.5h1.4v1.4h-1.4zM231.1 365.1h1.4v1.4h-1.4zM220.4 368.7h1.4v1.4h-1.4zM217.5 362.4h1.4v1.4h-1.4zM235.2 346.5h1.4v1.4h-1.4zM245.8 338.2h1.4v1.4h-1.4zM244.1 362.1h1.4v1.4h-1.4zM241.5 343.0h1.4v1.4h-1.4zM231.9 341.1h1.4v1.4h-1.4zM233.7 354.6h1.4v1.4h-1.4zM243.3 349.2h1.4v1.4h-1.4zM227.9 365.8h1.4v1.4h-1.4zM239.6 368.6h1.4v1.4h-1.4zM234.1 353.1h1.4v1.4h-1.4zM239.2 351.9h1.4v1.4h-1.4zM242.7 333.4h1.4v1.4h-1.4zM220.3 354.7h1.4v1.4h-1.4zM230.1 358.2h1.4v1.4h-1.4zM242.5 359.1h1.4v1.4h-1.4zM239.3 339.8h1.4v1.4h-1.4zM250.8 358.3h1.4v1.4h-1.4zM231.9 360.3h1.4v1.4h-1.4zM237.5 342.3h1.4v1.4h-1.4zM219.5 365.0h1.4v1.4h-1.4zM238.8 336.3h1.4v1.4h-1.4zM253.5 352.1h1.4v1.4h-1.4zM236.2 365.3h1.4v1.4h-1.4zM237.5 365.5h1.4v1.4h-1.4zM243.5 344.2h1.4v1.4h-1.4zM245.6 362.0h1.4v1.4h-1.4zM236.9 361.6h1.4v1.4h-1.4zM242.0 344.7h1.4v1.4h-1.4zM232.9 360.7h1.4v1.4h-1.4zM230.0 365.2h1.4v1.4h-1.4zM252.5 337.4h1.4v1.4h-1.4zM236.1 348.4h1.4v1.4h-1.4zM241.4 337.2h1.4v1.4h-1.4zM237.7 344.2h1.4v1.4h-1.4zM250.4 351.6h1.4v1.4h-1.4zM262.9 338.2h1.4v1.4h-1.4zM238.5 358.1h1.4v1.4h-1.4zM253.3 353.2h1.4v1.4h-1.4zM229.0 348.3h1.4v1.4h-1.4zM235.6 361.6h1.4v1.4h-1.4zM252.4 343.3h1.4v1.4h-1.4zM250.4 346.6h1.4v1.4h-1.4zM238.4 345.0h1.4v1.4h-1.4zM248.3 336.3h1.4v1.4h-1.4zM243.6 364.0h1.4v1.4h-1.4zM252.2 339.3h1.4v1.4h-1.4zM253.4 338.7h1.4v1.4h-1.4zM241.4 354.8h1.4v1.4h-1.4zM237.2 364.1h1.4v1.4h-1.4zM238.7 338.1h1.4v1.4h-1.4zM247.6 364.9h1.4v1.4h-1.4zM241.8 349.5h1.4v1.4h-1.4zM254.0 338.2h1.4v1.4h-1.4zM228.0 360.8h1.4v1.4h-1.4zM239.2 368.0h1.4v1.4h-1.4zM224.2 351.4h1.4v1.4h-1.4zM233.5 351.7h1.4v1.4h-1.4zM246.1 352.2h1.4v1.4h-1.4zM245.8 358.7h1.4v1.4h-1.4zM227.7 365.2h1.4v1.4h-1.4zM234.0 351.9h1.4v1.4h-1.4zM248.0 340.6h1.4v1.4h-1.4zM249.5 341.9h1.4v1.4h-1.4zM240.3 363.1h1.4v1.4h-1.4zM233.9 354.5h1.4v1.4h-1.4zM234.3 367.5h1.4v1.4h-1.4zM241.2 366.1h1.4v1.4h-1.4zM236.2 369.0h1.4v1.4h-1.4zM225.8 358.9h1.4v1.4h-1.4zM242.9 364.3h1.4v1.4h-1.4zM236.0 359.1h1.4v1.4h-1.4zM240.9 353.9h1.4v1.4h-1.4zM234.3 364.5h1.4v1.4h-1.4zM251.0 360.8h1.4v1.4h-1.4zM244.3 347.2h1.4v1.4h-1.4zM248.8 359.3h1.4v1.4h-1.4zM230.3 352.2h1.4v1.4h-1.4zM235.5 366.6h1.4v1.4h-1.4zM231.8 337.4h1.4v1.4h-1.4zM225.9 348.0h1.4v1.4h-1.4zM233.7 363.6h1.4v1.4h-1.4zM248.4 352.6h1.4v1.4h-1.4zM228.5 366.4h1.4v1.4h-1.4zM249.8 354.3h1.4v1.4h-1.4zM220.5 365.6h1.4v1.4h-1.4zM224.6 348.0h1.4v1.4h-1.4zM235.1 341.9h1.4v1.4h-1.4zM241.2 342.1h1.4v1.4h-1.4zM234.1 355.6h1.4v1.4h-1.4zM247.9 339.5h1.4v1.4h-1.4zM240.1 347.0h1.4v1.4h-1.4zM246.0 353.8h1.4v1.4h-1.4zM232.5 370.4h1.4v1.4h-1.4zM247.8 356.6h1.4v1.4h-1.4zM230.9 348.9h1.4v1.4h-1.4zM229.6 355.6h1.4v1.4h-1.4zM242.0 355.8h1.4v1.4h-1.4zM250.5 342.4h1.4v1.4h-1.4zM260.0 335.0h1.4v1.4h-1.4zM232.1 359.5h1.4v1.4h-1.4zM249.8 344.0h1.4v1.4h-1.4zM227.5 364.0h1.4v1.4h-1.4zM231.4 360.7h1.4v1.4h-1.4zM232.1 353.8h1.4v1.4h-1.4zM248.0 361.2h1.4v1.4h-1.4zM243.4 343.7h1.4v1.4h-1.4zM243.0 338.8h1.4v1.4h-1.4zM230.7 351.1h1.4v1.4h-1.4zM247.6 349.6h1.4v1.4h-1.4zM253.3 349.7h1.4v1.4h-1.4zM245.3 349.5h1.4v1.4h-1.4zM238.9 360.6h1.4v1.4h-1.4zM226.8 355.6h1.4v1.4h-1.4zM253.7 350.0h1.4v1.4h-1.4zM245.6 355.3h1.4v1.4h-1.4zM248.1 358.8h1.4v1.4h-1.4zM247.1 341.7h1.4v1.4h-1.4zM239.2 364.6h1.4v1.4h-1.4zM240.2 357.4h1.4v1.4h-1.4zM259.1 342.4h1.4v1.4h-1.4zM238.4 363.4h1.4v1.4h-1.4zM235.8 338.7h1.4v1.4h-1.4zM235.1 346.7h1.4v1.4h-1.4zM250.0 341.8h1.4v1.4h-1.4zM255.8 336.1h1.4v1.4h-1.4zM224.2 366.0h1.4v1.4h-1.4zM234.1 325.0h1.4v1.4h-1.4zM230.9 358.1h1.4v1.4h-1.4zM231.0 346.8h1.4v1.4h-1.4zM241.3 364.3h1.4v1.4h-1.4zM252.6 341.3h1.4v1.4h-1.4zM225.0 365.5h1.4v1.4h-1.4zM235.0 334.4h1.4v1.4h-1.4zM235.9 348.2h1.4v1.4h-1.4zM235.5 347.9h1.4v1.4h-1.4zM241.4 345.9h1.4v1.4h-1.4zM237.1 356.9h1.4v1.4h-1.4zM234.5 350.6h1.4v1.4h-1.4zM227.0 347.6h1.4v1.4h-1.4zM228.7 350.8h1.4v1.4h-1.4zM227.6 354.0h1.4v1.4h-1.4zM254.7 350.9h1.4v1.4h-1.4zM251.9 353.8h1.4v1.4h-1.4zM228.4 353.5h1.4v1.4h-1.4zM222.9 352.2h1.4v1.4h-1.4zM235.3 348.1h1.4v1.4h-1.4zM230.1 347.4h1.4v1.4h-1.4zM252.3 355.2h1.4v1.4h-1.4zM245.6 337.4h1.4v1.4h-1.4zM259.6 338.0h1.4v1.4h-1.4zM243.8 352.8h1.4v1.4h-1.4zM238.3 360.8h1.4v1.4h-1.4zM232.1 352.9h1.4v1.4h-1.4zM240.2 352.3h1.4v1.4h-1.4zM248.5 359.3h1.4v1.4h-1.4zM255.8 348.9h1.4v1.4h-1.4zM230.2 349.4h1.4v1.4h-1.4zM233.5 355.6h1.4v1.4h-1.4zM243.8 354.1h1.4v1.4h-1.4zM230.6 355.2h1.4v1.4h-1.4zM237.7 339.8h1.4v1.4h-1.4zM229.5 340.6h1.4v1.4h-1.4zM251.2 341.8h1.4v1.4h-1.4zM236.2 338.6h1.4v1.4h-1.4zM229.6 352.6h1.4v1.4h-1.4zM239.1 343.0h1.4v1.4h-1.4zM241.6 343.4h1.4v1.4h-1.4zM248.5 338.4h1.4v1.4h-1.4zM239.3 355.3h1.4v1.4h-1.4zM249.5 340.7h1.4v1.4h-1.4zM235.0 343.3h1.4v1.4h-1.4zM227.7 354.9h1.4v1.4h-1.4zM235.0 350.8h1.4v1.4h-1.4zM223.6 354.8h1.4v1.4h-1.4zM230.8 347.2h1.4v1.4h-1.4zM246.5 351.8h1.4v1.4h-1.4zM225.7 366.2h1.4v1.4h-1.4zM221.1 357.6h1.4v1.4h-1.4zM253.8 338.2h1.4v1.4h-1.4zM259.9 333.6h1.4v1.4h-1.4zM247.9 356.2h1.4v1.4h-1.4zM224.1 364.6h1.4v1.4h-1.4zM229.2 349.7h1.4v1.4h-1.4zM249.6 349.7h1.4v1.4h-1.4zM243.4 347.0h1.4v1.4h-1.4zM247.4 364.7h1.4v1.4h-1.4zM244.5 355.6h1.4v1.4h-1.4zM246.9 362.7h1.4v1.4h-1.4zM231.7 357.6h1.4v1.4h-1.4zM236.0 350.8h1.4v1.4h-1.4zM228.5 356.1h1.4v1.4h-1.4zM250.7 358.3h1.4v1.4h-1.4zM250.0 345.6h1.4v1.4h-1.4zM225.6 350.2h1.4v1.4h-1.4zM232.9 357.0h1.4v1.4h-1.4zM261.0 344.3h1.4v1.4h-1.4zM233.3 344.3h1.4v1.4h-1.4zM235.4 351.6h1.4v1.4h-1.4zM230.3 343.0h1.4v1.4h-1.4zM233.1 362.9h1.4v1.4h-1.4zM243.3 357.4h1.4v1.4h-1.4zM237.4 351.6h1.4v1.4h-1.4zM230.5 357.2h1.4v1.4h-1.4zM233.6 349.5h1.4v1.4h-1.4zM236.8 364.1h1.4v1.4h-1.4zM229.2 355.6h1.4v1.4h-1.4zM232.4 354.5h1.4v1.4h-1.4zM237.1 364.8h1.4v1.4h-1.4zM223.9 341.4h1.4v1.4h-1.4zM254.5 350.7h1.4v1.4h-1.4zM255.0 353.5h1.4v1.4h-1.4zM221.6 356.5h1.4v1.4h-1.4zM236.6 345.4h1.4v1.4h-1.4zM233.5 360.3h1.4v1.4h-1.4zM248.0 348.4h1.4v1.4h-1.4zM231.0 366.5h1.4v1.4h-1.4zM239.8 368.9h1.4v1.4h-1.4zM245.3 353.2h1.4v1.4h-1.4zM242.2 346.4h1.4v1.4h-1.4zM252.3 346.5h1.4v1.4h-1.4zM245.1 347.8h1.4v1.4h-1.4zM220.4 366.1h1.4v1.4h-1.4zM243.6 347.5h1.4v1.4h-1.4zM231.0 361.1h1.4v1.4h-1.4zM237.4 358.7h1.4v1.4h-1.4zM243.0 343.9h1.4v1.4h-1.4zM246.4 346.0h1.4v1.4h-1.4zM255.8 351.9h1.4v1.4h-1.4zM227.3 356.1h1.4v1.4h-1.4zM245.3 362.9h1.4v1.4h-1.4zM229.9 360.3h1.4v1.4h-1.4zM248.7 363.8h1.4v1.4h-1.4zM244.4 347.5h1.4v1.4h-1.4zM228.7 358.8h1.4v1.4h-1.4zM232.0 338.2h1.4v1.4h-1.4zM221.7 359.0h1.4v1.4h-1.4zM223.3 357.3h1.4v1.4h-1.4zM242.5 360.3h1.4v1.4h-1.4zM241.5 347.0h1.4v1.4h-1.4zM226.0 350.6h1.4v1.4h-1.4zM257.5 350.4h1.4v1.4h-1.4zM230.3 349.2h1.4v1.4h-1.4zM242.6 348.3h1.4v1.4h-1.4zM232.5 367.5h1.4v1.4h-1.4zM222.5 361.5h1.4v1.4h-1.4zM244.3 361.2h1.4v1.4h-1.4zM233.4 338.0h1.4v1.4h-1.4zM227.3 344.3h1.4v1.4h-1.4zM248.3 341.3h1.4v1.4h-1.4zM216.9 364.5h1.4v1.4h-1.4zM236.6 360.9h1.4v1.4h-1.4zM246.8 361.3h1.4v1.4h-1.4zM229.0 348.9h1.4v1.4h-1.4zM231.6 349.1h1.4v1.4h-1.4zM237.9 360.8h1.4v1.4h-1.4zM242.5 357.0h1.4v1.4h-1.4zM235.7 353.8h1.4v1.4h-1.4zM234.7 359.1h1.4v1.4h-1.4zM247.2 350.3h1.4v1.4h-1.4zM248.2 363.4h1.4v1.4h-1.4zM244.0 347.3h1.4v1.4h-1.4zM253.0 343.3h1.4v1.4h-1.4zM257.8 349.1h1.4v1.4h-1.4zM221.6 356.8h1.4v1.4h-1.4zM241.0 341.1h1.4v1.4h-1.4zM263.4 334.2h1.4v1.4h-1.4zM254.9 349.8h1.4v1.4h-1.4zM231.2 358.8h1.4v1.4h-1.4zM244.8 346.5h1.4v1.4h-1.4zM253.5 356.6h1.4v1.4h-1.4zM227.0 354.1h1.4v1.4h-1.4zM232.2 359.1h1.4v1.4h-1.4zM233.6 339.5h1.4v1.4h-1.4zM223.4 353.0h1.4v1.4h-1.4zM227.6 358.5h1.4v1.4h-1.4zM236.4 362.5h1.4v1.4h-1.4zM234.8 364.4h1.4v1.4h-1.4zM229.6 356.0h1.4v1.4h-1.4zM262.1 335.0h1.4v1.4h-1.4zM219.8 353.4h1.4v1.4h-1.4zM246.8 367.0h1.4v1.4h-1.4zM248.2 331.4h1.4v1.4h-1.4zM231.9 347.6h1.4v1.4h-1.4zM233.7 343.7h1.4v1.4h-1.4zM236.4 364.9h1.4v1.4h-1.4zM249.9 360.9h1.4v1.4h-1.4zM250.6 331.1h1.4v1.4h-1.4zM217.7 359.3h1.4v1.4h-1.4zM222.0 351.2h1.4v1.4h-1.4zM253.3 343.6h1.4v1.4h-1.4zM254.2 337.8h1.4v1.4h-1.4zM229.0 362.2h1.4v1.4h-1.4zM240.8 349.9h1.4v1.4h-1.4zM226.3 355.6h1.4v1.4h-1.4zM232.9 365.3h1.4v1.4h-1.4zM246.4 354.5h1.4v1.4h-1.4zM229.0 347.6h1.4v1.4h-1.4zM231.2 351.2h1.4v1.4h-1.4zM244.1 361.3h1.4v1.4h-1.4zM225.2 362.4h1.4v1.4h-1.4zM249.3 350.4h1.4v1.4h-1.4zM220.9 353.2h1.4v1.4h-1.4zM249.5 342.9h1.4v1.4h-1.4zM232.7 360.8h1.4v1.4h-1.4zM253.9 347.8h1.4v1.4h-1.4zM223.9 367.9h1.4v1.4h-1.4zM238.6 350.1h1.4v1.4h-1.4zM220.0 362.4h1.4v1.4h-1.4zM226.9 361.7h1.4v1.4h-1.4zM229.3 342.6h1.4v1.4h-1.4zM248.4 335.8h1.4v1.4h-1.4zM228.7 360.4h1.4v1.4h-1.4zM239.7 339.9h1.4v1.4h-1.4zM243.5 348.6h1.4v1.4h-1.4zM250.6 345.8h1.4v1.4h-1.4zM233.2 361.7h1.4v1.4h-1.4zM247.1 360.3h1.4v1.4h-1.4zM238.0 364.4h1.4v1.4h-1.4zM229.6 365.3h1.4v1.4h-1.4zM224.2 349.3h1.4v1.4h-1.4zM232.8 366.1h1.4v1.4h-1.4zM251.6 356.5h1.4v1.4h-1.4zM229.2 358.6h1.4v1.4h-1.4zM225.7 356.0h1.4v1.4h-1.4zM220.7 356.8h1.4v1.4h-1.4zM233.6 356.9h1.4v1.4h-1.4zM231.5 345.3h1.4v1.4h-1.4zM247.3 361.2h1.4v1.4h-1.4zM233.6 356.6h1.4v1.4h-1.4zM236.4 350.0h1.4v1.4h-1.4zM241.1 352.3h1.4v1.4h-1.4zM236.8 365.8h1.4v1.4h-1.4zM237.2 363.7h1.4v1.4h-1.4zM238.5 358.7h1.4v1.4h-1.4zM241.5 361.6h1.4v1.4h-1.4zM216.9 358.5h1.4v1.4h-1.4zM246.1 360.2h1.4v1.4h-1.4zM235.2 352.4h1.4v1.4h-1.4zM221.8 363.2h1.4v1.4h-1.4zM232.3 359.4h1.4v1.4h-1.4zM229.1 358.2h1.4v1.4h-1.4zM232.0 359.6h1.4v1.4h-1.4zM253.6 347.0h1.4v1.4h-1.4zM226.7 354.2h1.4v1.4h-1.4zM218.0 346.5h1.4v1.4h-1.4zM245.1 356.4h1.4v1.4h-1.4zM236.9 351.7h1.4v1.4h-1.4zM223.9 350.3h1.4v1.4h-1.4zM238.3 348.1h1.4v1.4h-1.4zM252.8 331.2h1.4v1.4h-1.4zM244.9 352.4h1.4v1.4h-1.4zM236.3 346.2h1.4v1.4h-1.4zM243.7 363.0h1.4v1.4h-1.4zM244.8 343.6h1.4v1.4h-1.4zM228.7 347.7h1.4v1.4h-1.4zM234.1 338.9h1.4v1.4h-1.4zM219.8 362.2h1.4v1.4h-1.4zM265.2 336.8h1.4v1.4h-1.4zM251.3 341.4h1.4v1.4h-1.4zM246.1 346.9h1.4v1.4h-1.4zM240.9 362.9h1.4v1.4h-1.4zM244.2 363.4h1.4v1.4h-1.4zM232.1 351.9h1.4v1.4h-1.4zM220.2 365.0h1.4v1.4h-1.4zM230.2 362.0h1.4v1.4h-1.4zM222.8 357.2h1.4v1.4h-1.4zM246.8 363.1h1.4v1.4h-1.4zM221.0 330.2h1.4v1.4h-1.4zM243.2 369.7h1.4v1.4h-1.4zM257.0 335.4h1.4v1.4h-1.4zM261.9 337.7h1.4v1.4h-1.4zM239.7 335.3h1.4v1.4h-1.4zM217.4 353.8h1.4v1.4h-1.4zM230.4 343.1h1.4v1.4h-1.4zM223.4 333.3h1.4v1.4h-1.4zM243.1 345.7h1.4v1.4h-1.4zM263.4 336.4h1.4v1.4h-1.4zM240.4 362.0h1.4v1.4h-1.4zM244.8 369.4h1.4v1.4h-1.4zM230.7 342.7h1.4v1.4h-1.4zM221.5 339.5h1.4v1.4h-1.4zM217.8 334.6h1.4v1.4h-1.4zM249.0 359.8h1.4v1.4h-1.4zM250.2 350.4h1.4v1.4h-1.4zM251.7 336.3h1.4v1.4h-1.4zM248.5 343.0h1.4v1.4h-1.4zM253.7 355.5h1.4v1.4h-1.4zM225.8 364.5h1.4v1.4h-1.4zM221.5 361.1h1.4v1.4h-1.4zM267.9 335.6h1.4v1.4h-1.4zM260.6 343.4h1.4v1.4h-1.4zM237.1 352.6h1.4v1.4h-1.4zM222.1 359.4h1.4v1.4h-1.4zM225.5 354.9h1.4v1.4h-1.4zM217.2 344.7h1.4v1.4h-1.4zM229.6 366.3h1.4v1.4h-1.4zM250.7 338.8h1.4v1.4h-1.4zM230.6 350.6h1.4v1.4h-1.4zM252.6 347.9h1.4v1.4h-1.4zM226.9 339.3h1.4v1.4h-1.4zM261.3 336.7h1.4v1.4h-1.4zM260.2 344.8h1.4v1.4h-1.4zM239.0 361.5h1.4v1.4h-1.4zM240.1 347.0h1.4v1.4h-1.4zM219.3 343.1h1.4v1.4h-1.4zM258.8 342.1h1.4v1.4h-1.4zM221.0 349.2h1.4v1.4h-1.4zM252.5 357.8h1.4v1.4h-1.4zM260.1 347.3h1.4v1.4h-1.4zM233.6 340.4h1.4v1.4h-1.4zM240.0 334.9h1.4v1.4h-1.4zM241.8 368.0h1.4v1.4h-1.4zM250.4 339.7h1.4v1.4h-1.4zM249.9 351.8h1.4v1.4h-1.4zM239.8 345.5h1.4v1.4h-1.4zM232.4 335.7h1.4v1.4h-1.4zM249.0 363.4h1.4v1.4h-1.4zM245.6 338.0h1.4v1.4h-1.4zM222.2 344.1h1.4v1.4h-1.4zM232.8 367.5h1.4v1.4h-1.4zM245.4 339.6h1.4v1.4h-1.4zM245.0 345.6h1.4v1.4h-1.4zM226.0 342.4h1.4v1.4h-1.4zM244.5 337.8h1.4v1.4h-1.4zM243.3 344.3h1.4v1.4h-1.4zM220.9 350.1h1.4v1.4h-1.4zM223.6 356.6h1.4v1.4h-1.4zM231.6 339.1h1.4v1.4h-1.4zM234.6 337.7h1.4v1.4h-1.4zM227.2 334.4h1.4v1.4h-1.4zM246.8 340.5h1.4v1.4h-1.4zM244.8 367.6h1.4v1.4h-1.4zM242.8 337.4h1.4v1.4h-1.4zM217.7 352.2h1.4v1.4h-1.4zM235.2 335.1h1.4v1.4h-1.4zM234.6 348.8h1.4v1.4h-1.4zM260.6 338.6h1.4v1.4h-1.4zM268.5 332.7h1.4v1.4h-1.4zM231.1 366.2h1.4v1.4h-1.4z" fill="#101010" fill-opacity="0.85"/>
<rect x="48.5" y="216.6" width="67.5" height="65.79999999999998" fill="none" stroke="#777" stroke-width="0.9"/>
<line x1="80.2" y1="216.6" x2="80.2" y2="282.4" stroke="#888" stroke-width="0.9"/>
<text transform="translate(44.5,230.0) rotate(-90)" font-size="7.6" text-anchor="end">FSC</text>
<path d="M41.3 268.6 V289.1 H62.7 M38.099999999999994 274.0 L41.3 268.6 L44.5 274.0 M56.900000000000006 286.1 L62.7 289.1 L56.900000000000006 292.1" fill="none" stroke="#333" stroke-width="0.95"/>
<text transform="translate(65.30,293.00) scale(0.9,1)" font-size="8.3" text-anchor="start" >CXCR4</text>
<rect x="134.2" y="217.2" width="65.80000000000001" height="65.0" fill="none" stroke="#777" stroke-width="0.9"/>
<line x1="165.0" y1="217.2" x2="165.0" y2="282.2" stroke="#888" stroke-width="0.9"/>
<line x1="134.2" y1="260.0" x2="200.0" y2="260.0" stroke="#888" stroke-width="0.9"/>
<text transform="translate(128.2,229.3) rotate(-90)" font-size="7.6" text-anchor="end">CD4</text>
<path d="M126.2 268.5 V288.6 H147.7 M123.0 273.9 L126.2 268.5 L129.4 273.9 M141.89999999999998 285.6 L147.7 288.6 L141.89999999999998 291.6" fill="none" stroke="#333" stroke-width="0.95"/>
<text transform="translate(152.40,292.90) scale(0.9,1)" font-size="8.3" text-anchor="start" >CXCR4</text>
<rect x="217.8" y="217.2" width="64.80000000000001" height="65.0" fill="none" stroke="#777" stroke-width="0.9"/>
<line x1="246.0" y1="217.2" x2="246.0" y2="282.2" stroke="#888" stroke-width="0.9"/>
<line x1="217.8" y1="241.3" x2="282.6" y2="241.3" stroke="#888" stroke-width="0.9"/>
<text transform="translate(213.0,227.8) rotate(-90)" font-size="7.6" text-anchor="end">CD8</text>
<path d="M210.3 267.8 V288.3 H231.3 M207.10000000000002 273.2 L210.3 267.8 L213.5 273.2 M225.5 285.3 L231.3 288.3 L225.5 291.3" fill="none" stroke="#333" stroke-width="0.95"/>
<text transform="translate(236.90,292.90) scale(0.9,1)" font-size="8.3" text-anchor="start" >CXCR4</text>
<rect x="47.7" y="306.4" width="66.89999999999999" height="65.60000000000002" fill="none" stroke="#777" stroke-width="0.9"/>
<line x1="78.5" y1="306.4" x2="78.5" y2="372.0" stroke="#888" stroke-width="0.9"/>
<text transform="translate(42.6,319.8) rotate(-90)" font-size="7.6" text-anchor="end">FSC</text>
<path d="M40.5 358.8 V379.4 H61.4 M37.3 364.2 L40.5 358.8 L43.7 364.2 M55.6 376.4 L61.4 379.4 L55.6 382.4" fill="none" stroke="#333" stroke-width="0.95"/>
<text transform="translate(63.40,382.60) scale(0.9,1)" font-size="8.3" text-anchor="start" >CXCR4</text>
<rect x="133.4" y="306.4" width="65.4" height="65.60000000000002" fill="none" stroke="#777" stroke-width="0.9"/>
<line x1="164.2" y1="306.4" x2="164.2" y2="372.0" stroke="#888" stroke-width="0.9"/>
<line x1="133.4" y1="349.3" x2="198.8" y2="349.3" stroke="#888" stroke-width="0.9"/>
<text transform="translate(126.8,318.6) rotate(-90)" font-size="7.6" text-anchor="end">CD4</text>
<path d="M124.7 358.2 V378.4 H145.7 M121.5 363.59999999999997 L124.7 358.2 L127.9 363.59999999999997 M139.89999999999998 375.4 L145.7 378.4 L139.89999999999998 381.4" fill="none" stroke="#333" stroke-width="0.95"/>
<text transform="translate(148.60,382.60) scale(0.9,1)" font-size="8.3" text-anchor="start" >CXCR4</text>
<rect x="216.0" y="306.9" width="65.69999999999999" height="65.10000000000002" fill="none" stroke="#777" stroke-width="0.9"/>
<line x1="243.6" y1="306.9" x2="243.6" y2="372.0" stroke="#888" stroke-width="0.9"/>
<line x1="216.0" y1="331.3" x2="281.7" y2="331.3" stroke="#888" stroke-width="0.9"/>
<text transform="translate(210.8,317.4) rotate(-90)" font-size="7.6" text-anchor="end">CD8</text>
<path d="M209.2 358.2 V378.4 H230.3 M206.0 363.59999999999997 L209.2 358.2 L212.39999999999998 363.59999999999997 M224.5 375.4 L230.3 378.4 L224.5 381.4" fill="none" stroke="#333" stroke-width="0.95"/>
<text transform="translate(235.00,382.60) scale(0.9,1)" font-size="8.3" text-anchor="start" >CXCR4</text>
<rect x="327.6" y="213.2" width="77.69999999999999" height="147.60000000000002" fill="none" stroke="#444" stroke-width="0.9"/>
<line x1="325.20000000000005" y1="360.8" x2="327.6" y2="360.8" stroke="#808080" stroke-width="0.9"/>
<text transform="translate(323.40,363.30) scale(0.92,1)" font-size="8.3" text-anchor="end" >0</text>
<line x1="325.20000000000005" y1="333.6" x2="327.6" y2="333.6" stroke="#808080" stroke-width="0.9"/>
<text transform="translate(323.40,336.10) scale(0.92,1)" font-size="8.3" text-anchor="end" >10</text>
<line x1="325.20000000000005" y1="306.4" x2="327.6" y2="306.4" stroke="#808080" stroke-width="0.9"/>
<text transform="translate(323.40,308.90) scale(0.92,1)" font-size="8.3" text-anchor="end" >20</text>
<line x1="325.20000000000005" y1="279.2" x2="327.6" y2="279.2" stroke="#808080" stroke-width="0.9"/>
<text transform="translate(323.40,281.70) scale(0.92,1)" font-size="8.3" text-anchor="end" >30</text>
<line x1="325.20000000000005" y1="252.0" x2="327.6" y2="252.0" stroke="#808080" stroke-width="0.9"/>
<text transform="translate(323.40,254.50) scale(0.92,1)" font-size="8.3" text-anchor="end" >40</text>
<line x1="325.20000000000005" y1="224.8" x2="327.6" y2="224.8" stroke="#808080" stroke-width="0.9"/>
<text transform="translate(323.40,227.30) scale(0.92,1)" font-size="8.3" text-anchor="end" >50</text>
<text transform="translate(312.5,296.7) rotate(-90) scale(1,0.85)" font-size="8.0" text-anchor="middle">MCF of CXCR4</text>
<rect x="332.20000000000005" y="217.3" width="11.2" height="3.4" fill="#000" stroke="none" stroke-width="0.8"/>
<rect x="332.6" y="225.2" width="10.6" height="3.2" fill="#fff" stroke="#555" stroke-width="0.8"/>
<text x="345.8" y="221.0" font-size="7.6" text-anchor="start" font-weight="bold" >Dok+/+</text>
<text x="345.8" y="229.4" font-size="7.6" text-anchor="start" font-weight="bold" >Dok-/-</text>
<line x1="341.5" y1="267.0" x2="341.5" y2="270.3" stroke="#222" stroke-width="0.8"/>
<line x1="339.9" y1="267.0" x2="343.1" y2="267.0" stroke="#222" stroke-width="0.8"/>
<rect x="338.0" y="270.3" width="7.0" height="90.5" fill="#000" stroke="none" stroke-width="0.8"/>
<line x1="348.9" y1="261.4" x2="348.9" y2="263.6" stroke="#333" stroke-width="0.8"/>
<line x1="347.29999999999995" y1="261.4" x2="350.5" y2="261.4" stroke="#333" stroke-width="0.8"/>
<rect x="345.79999999999995" y="263.6" width="6.2" height="97.19999999999999" fill="#fff" stroke="#444" stroke-width="0.8"/>
<line x1="364.3" y1="276.2" x2="364.3" y2="279.1" stroke="#222" stroke-width="0.8"/>
<line x1="362.7" y1="276.2" x2="365.90000000000003" y2="276.2" stroke="#222" stroke-width="0.8"/>
<rect x="360.8" y="279.1" width="7.0" height="81.69999999999999" fill="#000" stroke="none" stroke-width="0.8"/>
<line x1="371.5" y1="270.3" x2="371.5" y2="272.9" stroke="#333" stroke-width="0.8"/>
<line x1="369.9" y1="270.3" x2="373.1" y2="270.3" stroke="#333" stroke-width="0.8"/>
<rect x="368.4" y="272.9" width="6.2" height="87.90000000000003" fill="#fff" stroke="#444" stroke-width="0.8"/>
<line x1="385.4" y1="246.0" x2="385.4" y2="251.0" stroke="#222" stroke-width="0.8"/>
<line x1="383.79999999999995" y1="246.0" x2="387.0" y2="246.0" stroke="#222" stroke-width="0.8"/>
<rect x="381.9" y="251.0" width="7.0" height="109.80000000000001" fill="#000" stroke="none" stroke-width="0.8"/>
<line x1="392.5" y1="243.0" x2="392.5" y2="245.5" stroke="#333" stroke-width="0.8"/>
<line x1="390.9" y1="243.0" x2="394.1" y2="243.0" stroke="#333" stroke-width="0.8"/>
<rect x="389.4" y="245.5" width="6.2" height="115.30000000000001" fill="#fff" stroke="#444" stroke-width="0.8"/>
<text x="344.6" y="248.1" font-size="7.8" text-anchor="middle" >NS</text>
<path d="M341.0 256.3 V250.7 H348.20000000000005 V256.3" fill="none" stroke="#333" stroke-width="0.9"/>
<text x="366.0" y="258.0" font-size="7.8" text-anchor="middle" >NS</text>
<path d="M362.4 266.2 V260.6 H369.6 V266.2" fill="none" stroke="#333" stroke-width="0.9"/>
<text x="388.5" y="231.0" font-size="7.8" text-anchor="middle" >NS</text>
<path d="M384.9 239.2 V233.6 H392.1 V239.2" fill="none" stroke="#333" stroke-width="0.9"/>
<rect x="440.5" y="213.2" width="76.5" height="147.60000000000002" fill="none" stroke="#444" stroke-width="0.9"/>
<line x1="438.1" y1="360.8" x2="440.5" y2="360.8" stroke="#808080" stroke-width="0.9"/>
<text transform="translate(436.30,363.30) scale(0.92,1)" font-size="8.3" text-anchor="end" >0</text>
<line x1="438.1" y1="330.175" x2="440.5" y2="330.175" stroke="#808080" stroke-width="0.9"/>
<text transform="translate(436.30,332.68) scale(0.92,1)" font-size="8.3" text-anchor="end" >4</text>
<line x1="438.1" y1="299.55" x2="440.5" y2="299.55" stroke="#808080" stroke-width="0.9"/>
<text transform="translate(436.30,302.05) scale(0.92,1)" font-size="8.3" text-anchor="end" >8</text>
<line x1="438.1" y1="268.925" x2="440.5" y2="268.925" stroke="#808080" stroke-width="0.9"/>
<text transform="translate(436.30,271.43) scale(0.92,1)" font-size="8.3" text-anchor="end" >12</text>
<line x1="438.1" y1="238.3" x2="440.5" y2="238.3" stroke="#808080" stroke-width="0.9"/>
<text transform="translate(436.30,240.80) scale(0.92,1)" font-size="8.3" text-anchor="end" >16</text>
<text transform="translate(421.9,299.3) rotate(-90) scale(1,1.0)" font-size="7.6" text-anchor="middle">% positive cells for CXCR4</text>
<rect x="445.1" y="217.3" width="11.2" height="3.4" fill="#000" stroke="none" stroke-width="0.8"/>
<rect x="445.5" y="225.2" width="10.6" height="3.2" fill="#fff" stroke="#555" stroke-width="0.8"/>
<text x="458.7" y="221.0" font-size="7.6" text-anchor="start" font-weight="bold" >Dok+/+</text>
<text x="458.7" y="229.4" font-size="7.6" text-anchor="start" font-weight="bold" >Dok-/-</text>
<line x1="452.0" y1="262.5" x2="452.0" y2="270.9" stroke="#222" stroke-width="0.8"/>
<line x1="450.4" y1="262.5" x2="453.6" y2="262.5" stroke="#222" stroke-width="0.8"/>
<rect x="448.7" y="270.9" width="6.6" height="89.90000000000003" fill="#000" stroke="none" stroke-width="0.8"/>
<line x1="460.40000000000003" y1="254.8" x2="460.40000000000003" y2="255.4" stroke="#333" stroke-width="0.8"/>
<line x1="458.8" y1="254.8" x2="462.00000000000006" y2="254.8" stroke="#333" stroke-width="0.8"/>
<rect x="457.5" y="255.4" width="5.8" height="105.4" fill="#fff" stroke="#444" stroke-width="0.8"/>
<line x1="475.3" y1="273.1" x2="475.3" y2="279.8" stroke="#222" stroke-width="0.8"/>
<line x1="473.7" y1="273.1" x2="476.90000000000003" y2="273.1" stroke="#222" stroke-width="0.8"/>
<rect x="472.0" y="279.8" width="6.6" height="81.0" fill="#000" stroke="none" stroke-width="0.8"/>
<line x1="483.7" y1="260.3" x2="483.7" y2="264.3" stroke="#333" stroke-width="0.8"/>
<line x1="482.09999999999997" y1="260.3" x2="485.3" y2="260.3" stroke="#333" stroke-width="0.8"/>
<rect x="480.79999999999995" y="264.3" width="5.8" height="96.5" fill="#fff" stroke="#444" stroke-width="0.8"/>
<line x1="498.0" y1="243.0" x2="498.0" y2="255.9" stroke="#222" stroke-width="0.8"/>
<line x1="496.4" y1="243.0" x2="499.6" y2="243.0" stroke="#222" stroke-width="0.8"/>
<rect x="494.7" y="255.9" width="6.6" height="104.9" fill="#000" stroke="none" stroke-width="0.8"/>
<line x1="505.8" y1="233.3" x2="505.8" y2="240.0" stroke="#333" stroke-width="0.8"/>
<line x1="504.2" y1="233.3" x2="507.40000000000003" y2="233.3" stroke="#333" stroke-width="0.8"/>
<rect x="502.9" y="240.0" width="5.8" height="120.80000000000001" fill="#fff" stroke="#444" stroke-width="0.8"/>
<text x="455.6" y="239.3" font-size="7.8" text-anchor="middle" >NS</text>
<path d="M452.0 247.5 V241.9 H459.20000000000005 V247.5" fill="none" stroke="#333" stroke-width="0.9"/>
<text x="479.2" y="247.5" font-size="7.8" text-anchor="middle" >NS</text>
<path d="M475.59999999999997 255.7 V250.1 H482.8 V255.7" fill="none" stroke="#333" stroke-width="0.9"/>
<text x="500.4" y="221.6" font-size="7.8" text-anchor="middle" >NS</text>
<path d="M496.79999999999995 229.79999999999998 V224.2 H504.0 V229.79999999999998" fill="none" stroke="#333" stroke-width="0.9"/>
<text x="330.4" y="372.2" font-size="7.8" text-anchor="start" font-weight="bold" >Whole</text>
<text x="330.4" y="380.8" font-size="7.8" text-anchor="start" font-weight="bold" >T-cells</text>
<text x="442.0" y="372.2" font-size="7.8" text-anchor="start" font-weight="bold" >Whole</text>
<text x="442.0" y="380.8" font-size="7.8" text-anchor="start" font-weight="bold" >T-cells</text>
<text x="361.0" y="372.2" font-size="7.8" text-anchor="start" font-weight="bold" >CD4</text>
<text x="384.0" y="372.2" font-size="7.8" text-anchor="start" font-weight="bold" >CD8</text>
<text x="471.0" y="372.2" font-size="7.8" text-anchor="start" font-weight="bold" >CD4</text>
<text x="494.0" y="372.2" font-size="7.8" text-anchor="start" font-weight="bold" >CD8</text>
</svg></body></html>
